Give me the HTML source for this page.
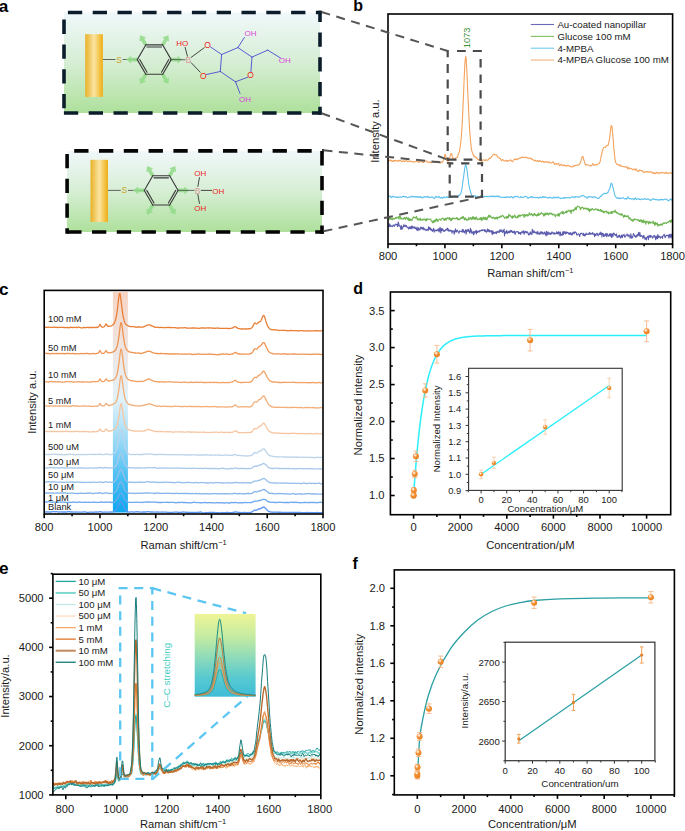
<!DOCTYPE html>
<html><head><meta charset="utf-8"><style>
html,body{margin:0;padding:0;background:#fff;}
svg{display:block;}
text{font-family:"Liberation Sans", sans-serif;}
</style></head><body>
<svg width="685" height="831" viewBox="0 0 685 831">
<rect width="685" height="831" fill="#fff"/>
<defs><radialGradient id="gSph" cx="0.38" cy="0.32" r="0.7"><stop offset="0" stop-color="#ffffff"/><stop offset="0.2" stop-color="#fcd6b0"/><stop offset="0.45" stop-color="#f29036"/><stop offset="1" stop-color="#e9821f"/></radialGradient></defs>
<defs><linearGradient id="gA" x1="0" y1="0" x2="0" y2="1"><stop offset="0" stop-color="#f1f8fb"/><stop offset="0.5" stop-color="#d6eed4"/><stop offset="1" stop-color="#aee09b"/></linearGradient><linearGradient id="gGold" x1="0" y1="0" x2="1" y2="0"><stop offset="0" stop-color="#e9b126"/><stop offset="0.5" stop-color="#fbe4a2"/><stop offset="0.85" stop-color="#f2bf3c"/><stop offset="1" stop-color="#eeac18"/></linearGradient></defs>
<rect x="64.00" y="12.50" width="256.00" height="100.50" fill="url(#gA)" stroke="none" stroke-width="1"/>
<rect x="67.00" y="150.90" width="255.00" height="81.10" fill="url(#gA)" stroke="none" stroke-width="1"/>
<line x1="64.00" y1="12.50" x2="321.80" y2="12.50" stroke="#0b1d2b" stroke-width="3.6" stroke-linecap="butt" stroke-dasharray="14.3 10.5" stroke-dashoffset="-3.90"/>
<line x1="320.00" y1="10.70" x2="320.00" y2="114.80" stroke="#0b1d2b" stroke-width="3.6" stroke-linecap="butt" stroke-dasharray="14.3 10.5" stroke-dashoffset="3.10"/>
<line x1="62.20" y1="113.00" x2="321.80" y2="113.00" stroke="#0b1d2b" stroke-width="3.6" stroke-linecap="butt" stroke-dasharray="14.3 10.5" stroke-dashoffset="-1.70"/>
<line x1="64.00" y1="10.70" x2="64.00" y2="114.80" stroke="#0b1d2b" stroke-width="3.6" stroke-linecap="butt" stroke-dasharray="14.3 10.5" stroke-dashoffset="-8.90"/>
<line x1="65.20" y1="150.90" x2="323.80" y2="150.90" stroke="#050505" stroke-width="3.6" stroke-linecap="butt" stroke-dasharray="14.3 10.5" stroke-dashoffset="-9.00"/>
<line x1="322.00" y1="149.10" x2="322.00" y2="233.80" stroke="#050505" stroke-width="3.6" stroke-linecap="butt" stroke-dasharray="14.3 10.5" stroke-dashoffset="-2.00"/>
<line x1="65.30" y1="232.00" x2="323.80" y2="232.00" stroke="#050505" stroke-width="3.6" stroke-linecap="butt" stroke-dasharray="14.3 10.5" stroke-dashoffset="-1.90"/>
<line x1="67.10" y1="149.10" x2="67.10" y2="233.80" stroke="#050505" stroke-width="3.6" stroke-linecap="butt" stroke-dasharray="14.3 10.5" stroke-dashoffset="-4.80"/>
<rect x="85.20" y="34.20" width="17.70" height="62.70" fill="url(#gGold)" stroke="none" stroke-width="1"/>
<line x1="102.90" y1="59.50" x2="115.50" y2="59.50" stroke="#555" stroke-width="0.9" stroke-linecap="butt"/>
<text x="119.00" y="62.50" font-size="8.5" text-anchor="middle" fill="#c9a227">S</text>
<line x1="122.60" y1="59.50" x2="137.40" y2="59.50" stroke="#555" stroke-width="0.9" stroke-linecap="butt"/>
<g transform="translate(137.30 59.60) rotate(180.0)" fill="#93dc8b" opacity="0.9"><path d="M 0 -1.8 L 6.2 -1.8 L 6.2 -3.9 L 11.2 0 L 6.2 3.9 L 6.2 1.8 L 0 1.8 Z"/></g>
<g transform="translate(145.78 44.92) rotate(-120.0)" fill="#93dc8b" opacity="0.9"><path d="M 0 -1.8 L 6.2 -1.8 L 6.2 -3.9 L 11.2 0 L 6.2 3.9 L 6.2 1.8 L 0 1.8 Z"/></g>
<g transform="translate(162.72 44.92) rotate(-60.0)" fill="#93dc8b" opacity="0.9"><path d="M 0 -1.8 L 6.2 -1.8 L 6.2 -3.9 L 11.2 0 L 6.2 3.9 L 6.2 1.8 L 0 1.8 Z"/></g>
<g transform="translate(171.20 59.60) rotate(0.0)" fill="#93dc8b" opacity="0.9"><path d="M 0 -1.8 L 6.2 -1.8 L 6.2 -3.9 L 11.2 0 L 6.2 3.9 L 6.2 1.8 L 0 1.8 Z"/></g>
<g transform="translate(162.72 74.28) rotate(60.0)" fill="#93dc8b" opacity="0.9"><path d="M 0 -1.8 L 6.2 -1.8 L 6.2 -3.9 L 11.2 0 L 6.2 3.9 L 6.2 1.8 L 0 1.8 Z"/></g>
<g transform="translate(145.78 74.28) rotate(120.0)" fill="#93dc8b" opacity="0.9"><path d="M 0 -1.8 L 6.2 -1.8 L 6.2 -3.9 L 11.2 0 L 6.2 3.9 L 6.2 1.8 L 0 1.8 Z"/></g>
<line x1="137.30" y1="59.60" x2="145.78" y2="44.92" stroke="#383838" stroke-width="1.1" stroke-linecap="round"/>
<line x1="145.78" y1="44.92" x2="162.72" y2="44.92" stroke="#383838" stroke-width="1.1" stroke-linecap="round"/>
<line x1="162.72" y1="44.92" x2="171.20" y2="59.60" stroke="#383838" stroke-width="1.1" stroke-linecap="round"/>
<line x1="171.20" y1="59.60" x2="162.72" y2="74.28" stroke="#383838" stroke-width="1.1" stroke-linecap="round"/>
<line x1="162.72" y1="74.28" x2="145.78" y2="74.28" stroke="#383838" stroke-width="1.1" stroke-linecap="round"/>
<line x1="145.78" y1="74.28" x2="137.30" y2="59.60" stroke="#383838" stroke-width="1.1" stroke-linecap="round"/>
<line x1="146.96" y1="47.02" x2="161.54" y2="47.02" stroke="#383838" stroke-width="1.1" stroke-linecap="round"/>
<line x1="168.79" y1="59.58" x2="161.50" y2="72.20" stroke="#383838" stroke-width="1.1" stroke-linecap="round"/>
<line x1="147.00" y1="72.20" x2="139.71" y2="59.58" stroke="#383838" stroke-width="1.1" stroke-linecap="round"/>
<line x1="170.60" y1="59.50" x2="185.50" y2="59.80" stroke="#555" stroke-width="0.9" stroke-linecap="butt"/>
<text x="188.40" y="63.00" font-size="8.5" text-anchor="middle" fill="#d89a9a">B</text>
<line x1="187.50" y1="56.50" x2="185.00" y2="47.00" stroke="#333" stroke-width="0.9" stroke-linecap="butt"/>
<text x="182.30" y="46.10" font-size="8.0" text-anchor="middle" fill="#ee1c1c">HO</text>
<line x1="191.00" y1="57.50" x2="204.50" y2="47.50" stroke="#333" stroke-width="0.9" stroke-linecap="butt"/>
<line x1="191.00" y1="62.50" x2="200.50" y2="72.50" stroke="#333" stroke-width="0.9" stroke-linecap="butt"/>
<text x="207.60" y="47.80" font-size="8.5" text-anchor="middle" fill="#ee1c1c">O</text>
<text x="203.20" y="78.70" font-size="8.5" text-anchor="middle" fill="#ee1c1c">O</text>
<line x1="210.60" y1="47.00" x2="221.60" y2="54.50" stroke="#4b4bd0" stroke-width="0.9" stroke-linecap="round"/>
<line x1="206.50" y1="74.50" x2="220.30" y2="71.50" stroke="#4b4bd0" stroke-width="0.9" stroke-linecap="round"/>
<line x1="221.60" y1="54.50" x2="220.30" y2="71.50" stroke="#4b4bd0" stroke-width="0.9" stroke-linecap="round"/>
<line x1="221.60" y1="54.50" x2="237.90" y2="47.60" stroke="#4b4bd0" stroke-width="0.9" stroke-linecap="round"/>
<line x1="237.90" y1="47.60" x2="252.00" y2="57.10" stroke="#4b4bd0" stroke-width="0.9" stroke-linecap="round"/>
<line x1="252.00" y1="57.10" x2="250.90" y2="71.80" stroke="#4b4bd0" stroke-width="0.9" stroke-linecap="round"/>
<line x1="247.80" y1="77.20" x2="235.50" y2="81.80" stroke="#4b4bd0" stroke-width="0.9" stroke-linecap="round"/>
<line x1="235.50" y1="81.80" x2="220.30" y2="71.50" stroke="#4b4bd0" stroke-width="0.9" stroke-linecap="round"/>
<line x1="237.90" y1="47.60" x2="244.40" y2="37.40" stroke="#4b4bd0" stroke-width="0.9" stroke-linecap="round"/>
<line x1="252.00" y1="57.10" x2="267.70" y2="50.10" stroke="#4b4bd0" stroke-width="0.9" stroke-linecap="round"/>
<line x1="267.70" y1="50.10" x2="280.50" y2="58.00" stroke="#4b4bd0" stroke-width="0.9" stroke-linecap="round"/>
<line x1="235.50" y1="81.80" x2="240.00" y2="93.50" stroke="#4b4bd0" stroke-width="0.9" stroke-linecap="round"/>
<text x="250.60" y="78.30" font-size="8.5" text-anchor="middle" fill="#ee1c1c">O</text>
<text x="250.60" y="36.00" font-size="8.0" text-anchor="middle" fill="#dd44dd">OH</text>
<text x="284.80" y="63.00" font-size="8.0" text-anchor="middle" fill="#dd44dd">OH</text>
<text x="245.00" y="101.50" font-size="8.0" text-anchor="middle" fill="#dd44dd">OH</text>
<rect x="90.50" y="159.80" width="17.50" height="62.20" fill="url(#gGold)" stroke="none" stroke-width="1"/>
<line x1="108.00" y1="190.40" x2="120.80" y2="190.40" stroke="#555" stroke-width="0.9" stroke-linecap="butt"/>
<text x="124.40" y="193.40" font-size="8.5" text-anchor="middle" fill="#c9a227">S</text>
<line x1="128.00" y1="190.40" x2="144.30" y2="190.40" stroke="#555" stroke-width="0.9" stroke-linecap="butt"/>
<g transform="translate(144.30 190.40) rotate(180.0)" fill="#93dc8b" opacity="0.9"><path d="M 0 -1.8 L 6.2 -1.8 L 6.2 -3.9 L 11.2 0 L 6.2 3.9 L 6.2 1.8 L 0 1.8 Z"/></g>
<g transform="translate(152.75 175.76) rotate(-120.0)" fill="#93dc8b" opacity="0.9"><path d="M 0 -1.8 L 6.2 -1.8 L 6.2 -3.9 L 11.2 0 L 6.2 3.9 L 6.2 1.8 L 0 1.8 Z"/></g>
<g transform="translate(169.65 175.76) rotate(-60.0)" fill="#93dc8b" opacity="0.9"><path d="M 0 -1.8 L 6.2 -1.8 L 6.2 -3.9 L 11.2 0 L 6.2 3.9 L 6.2 1.8 L 0 1.8 Z"/></g>
<g transform="translate(178.10 190.40) rotate(0.0)" fill="#93dc8b" opacity="0.9"><path d="M 0 -1.8 L 6.2 -1.8 L 6.2 -3.9 L 11.2 0 L 6.2 3.9 L 6.2 1.8 L 0 1.8 Z"/></g>
<g transform="translate(169.65 205.04) rotate(60.0)" fill="#93dc8b" opacity="0.9"><path d="M 0 -1.8 L 6.2 -1.8 L 6.2 -3.9 L 11.2 0 L 6.2 3.9 L 6.2 1.8 L 0 1.8 Z"/></g>
<g transform="translate(152.75 205.04) rotate(120.0)" fill="#93dc8b" opacity="0.9"><path d="M 0 -1.8 L 6.2 -1.8 L 6.2 -3.9 L 11.2 0 L 6.2 3.9 L 6.2 1.8 L 0 1.8 Z"/></g>
<line x1="144.30" y1="190.40" x2="152.75" y2="175.76" stroke="#383838" stroke-width="1.1" stroke-linecap="round"/>
<line x1="152.75" y1="175.76" x2="169.65" y2="175.76" stroke="#383838" stroke-width="1.1" stroke-linecap="round"/>
<line x1="169.65" y1="175.76" x2="178.10" y2="190.40" stroke="#383838" stroke-width="1.1" stroke-linecap="round"/>
<line x1="178.10" y1="190.40" x2="169.65" y2="205.04" stroke="#383838" stroke-width="1.1" stroke-linecap="round"/>
<line x1="169.65" y1="205.04" x2="152.75" y2="205.04" stroke="#383838" stroke-width="1.1" stroke-linecap="round"/>
<line x1="152.75" y1="205.04" x2="144.30" y2="190.40" stroke="#383838" stroke-width="1.1" stroke-linecap="round"/>
<line x1="153.93" y1="177.86" x2="168.47" y2="177.86" stroke="#383838" stroke-width="1.1" stroke-linecap="round"/>
<line x1="175.69" y1="190.37" x2="168.42" y2="202.96" stroke="#383838" stroke-width="1.1" stroke-linecap="round"/>
<line x1="153.98" y1="202.96" x2="146.71" y2="190.37" stroke="#383838" stroke-width="1.1" stroke-linecap="round"/>
<line x1="178.10" y1="190.40" x2="194.50" y2="190.40" stroke="#555" stroke-width="0.9" stroke-linecap="butt"/>
<text x="197.50" y="193.60" font-size="8.5" text-anchor="middle" fill="#d89a9a">B</text>
<line x1="197.80" y1="186.80" x2="199.50" y2="177.20" stroke="#333" stroke-width="0.9" stroke-linecap="butt"/>
<line x1="200.80" y1="190.40" x2="212.00" y2="190.40" stroke="#333" stroke-width="0.9" stroke-linecap="butt"/>
<line x1="197.80" y1="194.20" x2="199.50" y2="203.80" stroke="#333" stroke-width="0.9" stroke-linecap="butt"/>
<text x="200.30" y="175.70" font-size="8.0" text-anchor="middle" fill="#ee1c1c">OH</text>
<text x="218.30" y="193.60" font-size="8.0" text-anchor="middle" fill="#ee1c1c">OH</text>
<text x="200.30" y="211.40" font-size="8.0" text-anchor="middle" fill="#ee1c1c">OH</text>
<path d="M388.0 226.1l.4 .2 .5-.5 .4-2.1 .4 2.9 .4-.5 .5-1.1 .4 1.4 .4-.1 .4-.2 .5 .1 .4 .4 .4-1.5 .4 .2 .5-.2 .4 1.3 .4-1.1 .5-.6 .4-.6 .4 .4 .4 0 .5-.1 .4 2.3 .4-.4 .4-4.3 .5 1.4 .4 2.3 .4-.2 .5 1.1 .4 .6 .4 2.2 .4-4 .5 1 .4 3 .4-1.5 .4-.3 .5-1.3 .4-1.6 .4 1.6 .4 .1 .5-1.3 .4 .5 .4 1 .5-1 .4 1.3 .4 .5 .4 .3 .5-.5 .4 1.4 .4 .4 .4-.8 .5-1.5 .4 1.7 .4-1.4 .5 1.5 .4-2.4 .4 2.7 .4-1.4 .5-1.3 .4 1.4 .4 .5 .4 .2 .5-1.3 .4 .1 .4 1.5 .4-.6 .5 1.2 .4 .9 .4-3 .5 2.3 .4 1.3 .4-1.9 .4-.9 .5 2.2 .4-.9 .4 .6 .4-1.5 .5-1.2 .4 1.4 .4-.7 .5 1.5 .4-.1 .4-1.9 .4 .4 .5 2.2 .4-.3 .4-.9 .4 1 .5 .6 .4 .1 .4 .2 .4-1.1 .5-.1 .4 0 .4 1.5 .5-4.1 .4 2.4 .4 .1 .4-1.8 .5 2.3 .4-1.1 .4 1.7 .4-1 .5 1 .4 1.1 .4-.9 .5-1.3 .4-.9 .4 3.9 .4-1.6 .5-.6 .4 .6 .4-.3 .4 .7 .5-1 .4 0 .4-.5 .4 1.3 .5-2.1 .4 2.3 .4 1 .5-3.5 .4-1.3 .4 3.3 .4 2.5 .5-4.2 .4-.4 .4 2.3 .4-1.6 .5 .7 .4 .3 .4 1.4 .5-.9 .4 .5 .4-.5 .4-1 .5 .4 .4-1 .4 1 .4-1.5 .5-.3 .4 3.1 .4-1.5 .4 .3 .5 1 .4-1.1 .4 .1 .5 1.2 .4 0 .4-.9 .4 2.7 .5-1.8 .4-.6 .4 .2 .4 .8 .5 2.6 .4-3.6 .4 1.5 .5-3.3 .4 2.1 .4 1.1 .4-1.4 .5-.6 .4 1 .4 .7 .4 0 .5 1.5 .4-1.7 .4-.9 .4 .6 .5 0 .4 .4 .4-.2 .5 .2 .4-2.4 .4 3 .4-1.8 .5-.7 .4 2.1 .4 .8 .4-1 .5-.4 .4-1.6 .4 4.5 .4-2.2 .5-2.1 .4 .3 .4 1.1 .5-2.1 .4 2.3 .4-.8 .4 2.2 .5 0 .4-4.7 .4 3.2 .4-1.5 .5 3.3 .4-.7 .4 .3 .5-1.5 .4 3.3 .4 .1 .4-3.2 .5 1.4 .4-1.3 .4 .5 .4-1.7 .5 3.5 .4-3 .4 .9 .4 .8 .5-1.4 .4 .6 .4-.6 .5 .6 .4-1.5 .4 .8 .4-.3 .5-.4 .4 .2 .4-.9 .4 1.1 .5-1.1 .4 .5 .4-.1 .5 .3 .4-.7 .4 1.9 .4-1.6 .5 .8 .4 1.4 .4-.1 .4-1.1 .5-2 .4 2.3 .4-.1 .4-1.6 .5 2.4 .4-1.6 .4 0 .5 1.2 .4-.2 .4 .8 .4-1.7 .5 4.2 .4-2.8 .4-.9 .4 2.7 .5-1.3 .4 .8 .4-.8 .5 .4 .4 .3 .4-1.4 .4 2 .5-1.7 .4-.7 .4 .9 .4 .3 .5-.6 .4-.9 .4 1.4 .4-2.5 .5 .5 .4 1.1 .4-1.8 .5 1.6 .4 .3 .4 .9 .4-2.1 .5 .6 .4 1 .4-2.9 .4 6.8 .5-4.2 .4 0 .4 1.6 .5-1.2 .4-1.7 .4 2.7 .4 .3 .5-1.7 .4 .1 .4 .9 .4-1.8 .5 1.8 .4-.4 .4-1.1 .4-.9 .5 1.1 .4-.9 .4 2.2 .5-1 .4 .7 .4-.7 .4 1.1 .5-1.7 .4 1.9 .4 1.5 .4-2.3 .5-.6 .4 .3 .4-.1 .5-.3 .4 .6 .4-.4 .4 2 .5-1.1 .4 .2 .4 .9 .4-1.2 .5 1.9 .4-2.2 .4-.4 .4 .5 .5 .3 .4-1.5 .4 1.9 .5-2.2 .4 3.5 .4-1.8 .4-.7 .5-.4 .4 1.2 .4 .3 .4-1.3 .5 0 .4 1.3 .4-.2 .5 2.1 .4 .2 .4-1.3 .4 .4 .5-2.2 .4 2.1 .4-1 .4 .5 .5 1.1 .4-5.2 .4 3 .4-1.3 .5 1.6 .4-2 .4 1.1 .5 1 .4 .1 .4-.5 .4-.4 .5 .4 .4 1.9 .4-.7 .4-2.3 .5 2.4 .4-.4 .4 1 .4-1.2 .5 1.2 .4-2.4 .4 1.3 .5-1.4 .4 1.5 .4 .8 .4-2 .5 .8 .4 0 .4 1.3 .4-.4 .5-1.8 .4 1.7 .4 .3 .5 1.9 .4-4.5 .4 1.6 .4 2.1 .5-3.1 .4-.1 .4 1.9 .4 .7 .5-1.7 .4 .8 .4-.5 .4 1.4 .5-1.5 .4 .8 .4-2 .5 .8 .4 .1 .4 1.2 .4-.3 .5-1.1 .4 1.7 .4-.1 .4-.5 .5-.3 .4 .2 .4-1.8 .5 2.1 .4 0 .4-1.6 .4 2 .5-2.6 .4 .8 .4 .5 .4 3 .5-3.9 .4 2.8 .4 .4 .4-.7 .5 .8 .4-2.4 .4-1.3 .5 3 .4-2.5 .4 .5 .4-1 .5 2.3 .4-.4 .4-1.7 .4 1.7 .5-1.2 .4 .1 .4 .6 .5-.3 .4 1.3 .4-.3 .4-.6 .5 1.5 .4-2.1 .4 1.6 .4 .1 .5 .7 .4-2 .4 1.9 .4-1.7 .5-.2 .4-.8 .4 1.7 .5-.9 .4-1.2 .4 .4 .4 .6 .5 0 .4 2.2 .4 .1 .4-.3 .5-.3 .4-.6 .4 .4 .5 .7 .4 1.6 .4-1.6 .4-1.5 .5 .3 .4-.1 .4-.4 .4 .4 .5 .3 .4 1.5 .4-2 .4 2.2 .5 .3 .4-1.6 .4 1.4 .5-1.4 .4-1.2 .4 1.1 .4 .3 .5-.4 .4-.1 .4 .2 .4 .3 .5-1.5 .4 1.1 .4-1.7 .5 1.8 .4 0 .4-.5 .4-.2 .5 .7 .4-1.6 .4 .5 .4 1 .5 .4 .4-.7 .4 2.9 .4-2.8 .5 1.5 .4 .2 .4-1.6 .5-.7 .4-.1 .4 1.4 .4 1.3 .5-1.1 .4-.5 .4-.8 .4 1.2 .5-2.7 .4 2.4 .4-.3 .4-1.3 .5 4.1 .4-3.7 .4 .5 .5 0 .4 2.7 .4-2.3 .4 2.1 .5-.4 .4-.3 .4-1.9 .4 .6 .5 2.4 .4-3.2 .4 .7 .5 1 .4 1.1 .4-.6 .4 .1 .5-2 .4 2.2 .4 .1 .4-2.5 .5 3.3 .4 .8 .4-3.8 .4 1.1 .5 1.5 .4-3.1 .4-.3 .5 .7 .4 1.1 .4-.3 .4 1.2 .5-.1 .4-1.8 .4 2.2 .4 1.6 .5-.6 .4-.1 .4-1.3 .5 1.3 .4-1.9 .4 1.9 .4-.6 .5 1.8 .4-1 .4-2.1 .4 1.2 .5 1.4 .4-2.6 .4 .5 .4 0 .5-1.2 .4 2.4 .4 .5 .5-.6 .4-.9 .4-.7 .4 .1 .5-1.2 .4 1.6 .4 .6 .4 .3 .5-1.7 .4 1.1 .4 .1 .5 2.2 .4-1.7 .4-2.5 .4 3 .5 1.5 .4-1.5 .4 .4 .4-1.6 .5-2.2 .4 .7 .4 .6 .4 1.6 .5 .1 .4 .7 .4-1.7 .5 1.4 .4-1.3 .4-1.1 .4 1.5 .5-1.4 .4-2.4 .4 2.5 .4 1.3 .5-3.4 .4 3.2 .4 .7 .5-1 .4 0 .4 .8 .4-.3 .5 2.3 .4-.7 .4-2.3 .4 1 .5 1.5 .4 1.6 .4-1.5 .4-.2 .5 2.2 .4-2.2 .4-.5 .5-.9 .4 .5 .4 2.8 .4-3.9 .5 1.2 .4-1.7 .4 1.6 .4 .5 .5-1.8 .4 1.3 .4 .1 .5-.1 .4 1.3 .4-.7 .4-1.5 .5-.3 .4-.2 .4 1.9 .4-1.1 .5 3.6 .4-.9 .4-2.4 .4-.3 .5 2.6 .4-4.2 .4 1.6 .5 1.6 .4-1.8 .4 .5 .4 .2 .5 1.5 .4-1.1 .4 0 .4 .2 .5-.7 .4 1.7 .4-2.5 .5-.5 .4-.5 .4-.5 .4 1.2 .5 2.3 .4-.7 .4-1.1 .4-.8 .5 .3 .4 .1 .4 .1 .4-.6 .5 1.3 .4 1.7 .4-3.9 .5 2.6 .4-2.5 .4 3.1 .4-1.3 .5-1.9 .4 2.5 .4 2.2" fill="none" stroke="#5c5cae" stroke-width="1.1" stroke-linejoin="round"/>
<path d="M388.0 219.1l.4-.5 .5-.5 .4-1.7 .4 3.1 .4-.6 .5-.8 .4 1.2 .4-.2 .4-.5 .5 1.1 .4-1.1 .4-.2 .4 0 .5 .8 .4-.4 .4 .1 .5-1.2 .4 .5 .4-1.1 .4 1.4 .5-.7 .4 0 .4-.1 .4-1.1 .5 1.4 .4 1.2 .4-3 .5 .1 .4 .3 .4 2.3 .4-.9 .5 1.1 .4-.3 .4 0 .4 .2 .5-.4 .4 .4 .4-1.6 .4 .6 .5 .2 .4 1.2 .4-1.8 .5-.5 .4 .6 .4 1.4 .4-.9 .5 1.6 .4-2 .4 2.8 .4-.1 .5-1.9 .4 1.3 .4 .4 .5-1 .4 .4 .4 .9 .4-1.7 .5-.9 .4-.9 .4 .7 .4-.7 .5 .1 .4 .1 .4 1 .4-.9 .5-.1 .4-.9 .4 2.7 .5-.6 .4 1.7 .4-.9 .4-.4 .5 1.2 .4-.4 .4-1.4 .4 .1 .5 2.2 .4-.8 .4 .1 .5-.3 .4-.5 .4 1.1 .4-.8 .5-.4 .4 .1 .4-.1 .4 1.1 .5 .6 .4-1.7 .4 1.8 .4-2 .5 .8 .4-.8 .4 .5 .5 .1 .4-.1 .4-.1 .4 0 .5 .1 .4-.4 .4 1.8 .4 .5 .5 .4 .4-.4 .4 1.8 .5-1.6 .4-.5 .4 1.6 .4-2.5 .5 1.8 .4-1.6 .4 .5 .4-2.1 .5 2.2 .4-.6 .4-.5 .4 1.9 .5-1.2 .4-.6 .4-.8 .5 .2 .4 0 .4 .8 .4 .2 .5-1.5 .4 .2 .4-.4 .4-.5 .5 .5 .4 .5 .4 1 .5 .5 .4-2 .4 .7 .4-.9 .5 2.2 .4-1.9 .4 .1 .4-1.1 .5 .3 .4 .8 .4-.5 .4 .9 .5-1.6 .4 2 .4-1.1 .5 2.4 .4-1.8 .4 1.3 .4-2.1 .5 1.1 .4-1.4 .4 .3 .4 .3 .5-.3 .4 .4 .4 .4 .5-.3 .4-.2 .4-.9 .4 .6 .5 .9 .4-1.2 .4 2.1 .4-.9 .5-.2 .4 .8 .4-.5 .4 0 .5-1.4 .4 .5 .4-.3 .5-.9 .4 1.4 .4-.2 .4-2.1 .5 1.8 .4-.5 .4 2.4 .4-.7 .5-1.1 .4 .8 .4 .8 .4-.5 .5 1.4 .4-.8 .4-.6 .5 .7 .4-2.4 .4 1.4 .4 .2 .5-.8 .4-.8 .4 1.1 .4 1 .5-1.4 .4-.8 .4 1.7 .5-2.7 .4 2 .4-.5 .4 1.4 .5-1.8 .4 2.1 .4-.7 .4-1.4 .5-.5 .4 1.3 .4 1.4 .4-.8 .5 .3 .4-.3 .4 .7 .5-.4 .4-.2 .4-1.4 .4 1.9 .5 .3 .4-2.3 .4 3.2 .4-1.6 .5-1.1 .4-.9 .4 2.1 .5 0 .4-.9 .4-1 .4 2.2 .5-1.9 .4 .1 .4 2.3 .4-.5 .5-1.5 .4-1.4 .4 .6 .4-2.1 .5 2.1 .4-.6 .4-1 .5 .2 .4 1.5 .4-.2 .4 .4 .5 .9 .4-.9 .4 .1 .4-.5 .5 .7 .4 .9 .4-.7 .5 .9 .4-1.3 .4 .7 .4-.5 .5-.8 .4 2.2 .4-.9 .4-1.1 .5 0 .4 .3 .4-.8 .4 1.1 .5-1.7 .4 .2 .4-.1 .5 .6 .4-1 .4-.5 .4 .2 .5 .6 .4 .6 .4 .4 .4 1.3 .5-.3 .4-.8 .4 0 .5-.7 .4 1.8 .4-.5 .4-1.6 .5 1.4 .4-.2 .4-3.2 .4 1.5 .5 .2 .4-.9 .4 1 .4-.1 .5 1.3 .4-.4 .4 1.5 .5-2.5 .4 1.5 .4-.6 .4 .3 .5-1.3 .4-.9 .4 1.2 .4 1.1 .5 .8 .4-.7 .4 .2 .5-1.4 .4 1.6 .4-.6 .4-2 .5 .6 .4-.6 .4 1.7 .4-.9 .5-.7 .4 .3 .4 .1 .4-.3 .5-.6 .4-.2 .4 .2 .5 1.4 .4 1.4 .4-3.1 .4 1.3 .5 .3 .4-1.1 .4 .8 .4-1.2 .5 1.7 .4-1.5 .4 .3 .5 .6 .4-1.2 .4-1.7 .4 1.1 .5 1.1 .4-.6 .4 .3 .4-1.1 .5 .9 .4 .8 .4-.6 .4 1.4 .5-1.6 .4-.2 .4-.9 .5 2.1 .4-1.2 .4 1.1 .4-.4 .5 1 .4 0 .4-1.8 .4 .9 .5 .5 .4-2.4 .4 2.1 .4-.4 .5-.4 .4-1 .4 .5 .5-1.3 .4 .9 .4 0 .4 .4 .5-.3 .4 1 .4 1.4 .4-1.9 .5 1.7 .4-2.6 .4-.2 .5 1.6 .4-.4 .4 .2 .4-1.7 .5 1.1 .4 .4 .4 .7 .4-1.4 .5 .7 .4-1.2 .4 .5 .4-.4 .5 1.2 .4-1 .4 .3 .5 .8 .4 .7 .4-.7 .4 0 .5-.3 .4 1.2 .4-.2 .4 1.5 .5-.7 .4-1.1 .4 .1 .5-.3 .4-.3 .4 1.6 .4-.4 .5-2 .4 2.7 .4-1.6 .4-1.2 .5 .3 .4-.5 .4-.5 .4-1 .5 1.6 .4 .2 .4-2.3 .5 2.7 .4-.4 .4-.8 .4 .1 .5-.3 .4-.9 .4 .1 .4 1.3 .5-2.3 .4 1.3 .4-.4 .5-.7 .4 0 .4-.8 .4 .7 .5 .6 .4 .2 .4-1.5 .4 3.6 .5-3.2 .4 .1 .4-.1 .4-.5 .5 1.4 .4-1.9 .4 .7 .5-.3 .4-1.9 .4 1.4 .4-2.1 .5 2.4 .4-2.2 .4-.6 .4-.8 .5 .3 .4 .4 .4 0 .5-.1 .4 .8 .4 .7 .4 1.6 .5-2.3 .4 .6 .4-.6 .4-.4 .5 .1 .4 .6 .4 1.4 .4-.8 .5-.3 .4 .7 .4-.2 .5-.5 .4 .8 .4-.8 .4 1.1 .5 .5 .4-.6 .4-.8 .4 2.1 .5-1.2 .4 2.5 .4-2.6 .5 1.4 .4-1.2 .4 .4 .4 .2 .5-1.7 .4 .8 .4 .4 .4 .1 .5 .5 .4 .1 .4-.3 .4-.6 .5-.1 .4-.4 .4 .5 .5 .4 .4 .7 .4-.7 .4-.5 .5 1.6 .4-.7 .4 0 .4 .6 .5 .4 .4-1.8 .4 1.2 .4 1.2 .5-.3 .4-.7 .4 .3 .5 1.8 .4-1.4 .4 1.2 .4 .1 .5-1 .4 .1 .4-.5 .4 .3 .5-.3 .4 2 .4-.7 .5-.4 .4-.2 .4 2.1 .4-.8 .5-.3 .4 0 .4-.9 .4 1.4 .5-.2 .4-1.7 .4 1.8 .4-.3 .5-1.7 .4 .1 .4 .5 .5 0 .4-.5 .4-1.4 .4 2.2 .5-.6 .4 1.1 .4 .5 .4-.9 .5 .6 .4 .9 .4 .2 .5-.4 .4 .1 .4 1.1 .4-.5 .5 .6 .4-1.2 .4 1.5 .4-1.4 .5 .8 .4 .7 .4 .5 .4 1.6 .5-1.3 .4-1.1 .4 1.5 .5-.7 .4 .8 .4-.7 .4 .6 .5 .2 .4 0 .4-1.2 .4 1.1 .5 .8 .4 1.7 .4-1.1 .5-.1 .4 1.2 .4 .1 .4 1.3 .5-.7 .4-.4 .4 1.6 .4 .3 .5-1.4 .4 .2 .4-1.4 .4 1 .5-.6 .4 .5 .4-.2 .5 .3 .4 0 .4 .5 .4 0 .5-.1 .4-.6 .4 1.8 .4 .2 .5-1.2 .4 1.2 .4-1.8 .5 0 .4 1.5 .4 1.5 .4-2.2 .5 .1 .4 2 .4-2.8 .4 2.4 .5 0 .4-.9 .4 .7 .4 2.3 .5-3.3 .4 .7 .4 .4 .5-.3 .4-.3 .4 2.5 .4-.8 .5-1.7 .4 1.1 .4 .6 .4-.2 .5-1.1 .4 .8 .4 0 .5 .3 .4-.1 .4-1.8 .4 2.3 .5-1 .4 1.7 .4 1.3 .4-2.3 .5-.8 .4 2.1 .4-.6 .4-.2 .5-.4 .4 2.9 .4-.6 .5-.9 .4 .6 .4-.7 .4 .8 .5-.4 .4-.8 .4 .9 .4-1 .5 .8 .4 .2 .4-1.8 .5-.3 .4 .4 .4 .4 .4-.9 .5-.1 .4 .2 .4 .4 .4 .1 .5-.9 .4 .1 .4-.1 .4-.9 .5 .3 .4 .2 .4-.7 .5-.9 .4-.2 .4 2.3 .4-.8 .5-1.9 .4-.2 .4 2.3" fill="none" stroke="#6db451" stroke-width="1.1" stroke-linejoin="round"/>
<path d="M388.0 196.8l.4-.7 .5 .5 .4-.1 .4-.4 .4 .1 .5-.2 .4 1.4 .4 .1 .4 .2 .5-1 .4-.2 .4-.2 .4 0 .5 .3 .4 .2 .4 .4 .5-.2 .4 .1 .4 .1 .4 .2 .5-.1 .4-.5 .4 0 .4 .7 .5 0 .4-.2 .4-.3 .5-.1 .4 0 .4-.1 .4 .4 .5 .1 .4 0 .4-.9 .4 .2 .5-.4 .4 .3 .4-.2 .4 .5 .5 .3 .4-.4 .4-.1 .5 .1 .4 .6 .4 .2 .4 .1 .5-.1 .4-.2 .4-.3 .4-.1 .5 .2 .4 .2 .4-.4 .5-.1 .4-.6 .4 .4 .4 .1 .5 .2 .4-.1 .4-.4 .4 .6 .5-.5 .4 0 .4 0 .4 .8 .5-.3 .4-.3 .4-.2 .5 .4 .4 .5 .4-.4 .4 .3 .5-.7 .4 .7 .4-.1 .4 .2 .5-.8 .4 .4 .4 .3 .5 .7 .4-.2 .4-.1 .4-.3 .5-.6 .4-.3 .4 .6 .4-.2 .5 .1 .4-.5 .4 .5 .4 .3 .5-.3 .4-.5 .4-.1 .5 .6 .4 .7 .4 .1 .4-.4 .5-.2 .4-.1 .4 .3 .4-.3 .5 .1 .4-.2 .4 .4 .5 0 .4 .7 .4 .2 .4 .4 .5-1.2 .4-.5 .4-.6 .4 .7 .5-.5 .4 .5 .4 .1 .4 .3 .5-.6 .4-.5 .4 .4 .5 .4 .4 .8 .4-.1 .4 0 .5-.5 .4 .5 .4 0 .4 .4 .5-.8 .4-.2 .4-.6 .5 .7 .4 .2 .4 .1 .4-.5 .5-.1 .4-.1 .4-.1 .4 0 .5 .8 .4 .2 .4-.3 .4-1 .5-.3 .4 .3 .4 .5 .5 .3 .4-.1 .4-.2 .4 0 .5-.5 .4-.2 .4 0 .4 .2 .5-.1 .4-.3 .4 .1 .5 .3 .4 .1 .4-.1 .4 0 .5 .1 .4 .4 .4-.9 .4-.1 .5-.9 .4 .3 .4-.5 .4-.3 .5-.7 .4-1.4 .4-1.4 .5-2.4 .4-2.5 .4-3.1 .4-3.3 .5-2.8 .4-3.4 .4-2.5 .4-3.2 .5-2.2 .4-1.1 .4 .8 .4 1.7 .5 2.7 .4 3 .4 4.1 .5 3.1 .4 3.5 .4 2.3 .4 2.3 .5 1.6 .4 1.4 .4 1.5 .4 1.4 .5 1 .4 .6 .4 .5 .5 .3 .4 .1 .4-.4 .4-.4 .5 .2 .4-.3 .4 .7 .4-.2 .5 .8 .4-.1 .4-.2 .4-.2 .5-.1 .4 .2 .4 0 .5 .1 .4 0 .4-.2 .4 0 .5-.5 .4 .2 .4-.3 .4 .9 .5 .4 .4-.2 .4-.3 .5-.4 .4 .3 .4 .1 .4-.1 .5-.2 .4-.2 .4 0 .4 .5 .5-.3 .4 .2 .4 .1 .4 0 .5-.4 .4-.2 .4 .1 .5 .6 .4 0 .4-.2 .4-.7 .5-.2 .4 .8 .4 .1 .4 0 .5-.5 .4 0 .4 .6 .5-.3 .4 .3 .4-.6 .4 .4 .5-.5 .4 .5 .4-.1 .4 .4 .5-.7 .4-.1 .4 .2 .4 .6 .5 .4 .4 .2 .4 0 .5-.2 .4 0 .4 0 .4 0 .5 0 .4 .2 .4 .1 .4-.3 .5-.1 .4 .4 .4 .1 .5-.2 .4-.6 .4 .4 .4-.4 .5 .1 .4 0 .4 .3 .4 .3 .5-.2 .4 .1 .4-.3 .4-.6 .5 0 .4 .5 .4 .1 .5 .7 .4-.5 .4 .5 .4-.5 .5-.5 .4-.4 .4 0 .4 .3 .5-.2 .4 0 .4 .2 .5-.1 .4-.3 .4 .4 .4 .4 .5 .4 .4 .2 .4 .1 .4-.5 .5-.8 .4 0 .4 .6 .4 .4 .5 .1 .4-.3 .4 0 .5-.3 .4 .1 .4-.4 .4-.3 .5-.1 .4 .1 .4 .2 .4 .3 .5 .2 .4 1.1 .4 0 .5-.1 .4-.6 .4-.1 .4 0 .5 .1 .4-.3 .4-.6 .4-.1 .5 0 .4 1.2 .4-.3 .4-.2 .5 0 .4-.1 .4 .4 .5 0 .4 .3 .4-.1 .4-.3 .5 .2 .4-.2 .4 .1 .4 0 .5 .8 .4-.3 .4-.3 .4-.5 .5 0 .4 .3 .4-.1 .5 .4 .4-.2 .4-.1 .4-1 .5 0 .4 .4 .4 .5 .4 .1 .5-.8 .4 .4 .4 .2 .5 0 .4 .1 .4 0 .4 .5 .5-.3 .4 .4 .4-.1 .4 .1 .5-.6 .4-.1 .4 .2 .4 .1 .5 .3 .4 0 .4 .4 .5-.1 .4-.1 .4-.9 .4-.1 .5 .2 .4 .6 .4 0 .4-.3 .5-.1 .4-.4 .4 .5 .5 .1 .4 .1 .4-.7 .4 0 .5 .5 .4 .4 .4-.1 .4 0 .5 .2 .4 .5 .4-.2 .4-.1 .5-.1 .4 0 .4-.5 .5 .2 .4-.1 .4 .7 .4-1 .5 .2 .4-.3 .4 .4 .4 0 .5-.1 .4 .2 .4-.3 .5-.2 .4 .1 .4 .5 .4 0 .5-.2 .4-.3 .4 .2 .4-.3 .5-.4 .4-.2 .4-.1 .4 .2 .5 0 .4 .4 .4-.1 .5 .2 .4-.6 .4 .4 .4-.7 .5 .2 .4 0 .4 .3 .4 .1 .5-.4 .4 .2 .4 .2 .5 0 .4 0 .4-.3 .4-.4 .5-.7 .4 .2 .4 0 .4 .2 .5-.5 .4-.2 .4 .2 .4 .2 .5 .7 .4 .2 .4 .2 .5-.1 .4-.1 .4 .7 .4 .7 .5 .1 .4-.5 .4-1.2 .4 .1 .5 0 .4 .3 .4 .2 .5-.4 .4 .3 .4-.2 .4 .1 .5 .3 .4 .3 .4 0 .4-.6 .5-.1 .4 .3 .4 .1 .4-.2 .5 0 .4 .3 .4 .3 .5 .1 .4 .5 .4 .2 .4 0 .5-.2 .4-.1 .4-.2 .4-.8 .5-.4 .4-.5 .4 .3 .4-.7 .5-.4 .4-.8 .4 0 .5-.4 .4-.3 .4-.5 .4-.1 .5 .1 .4-.1 .4 .2 .4 .3 .5-.2 .4-.3 .4-.8 .5-.1 .4-.8 .4-.8 .4-1 .5-.8 .4-1.3 .4-1.7 .4-1.9 .5-.9 .4 .3 .4 1 .4 1.4 .5 1.7 .4 1.8 .4 1.9 .5 1.6 .4 1.7 .4 1.2 .4 .5 .5 .7 .4 .8 .4 .4 .4 0 .5-.3 .4 .4 .4-.5 .5 .4 .4-.2 .4 .7 .4-.3 .5 0 .4-.3 .4 .2 .4-.1 .5 0 .4-.4 .4-.2 .4 .5 .5 .3 .4 .5 .4 0 .5-.4 .4 0 .4 .1 .4 .6 .5-.6 .4-1.3 .4-.5 .4 .9 .5 .7 .4 .3 .4-.1 .5-.1 .4 .1 .4 .1 .4 .4 .5 0 .4-.3 .4 0 .4-.2 .5 .5 .4 .6 .4-.1 .4-.9 .5-.8 .4 .3 .4 .9 .5 .4 .4-.3 .4-.5 .4 .1 .5-.1 .4 .5 .4-.3 .4 .5 .5-.1 .4 .3 .4 0 .5-.4 .4-.2 .4-.2 .4 .4 .5 .3 .4-.1 .4-.3 .4-.5 .5 0 .4 .4 .4 0 .4 .4 .5-.1 .4 .2 .4-.6 .5 0 .4 .2 .4-.1 .4 .3 .5 .2 .4 .6 .4-.2 .4 .3 .5 .2 .4-.4 .4-.6 .5-.3 .4 .2 .4-.6 .4 .2 .5-.1 .4 .7 .4-.2 .4 .4 .5-.1 .4-.2 .4-.1 .4 .5 .5 .1 .4 .3 .4-.3 .5-.1 .4 .1 .4-.3 .4 .4 .5-.5 .4 .4 .4-.6 .4-.1 .5 .2 .4 .4 .4 .2 .5-.4 .4 .1 .4-.3 .4-.2 .5-.2 .4 .2 .4 .1 .4 .1 .5 .2 .4 .1 .4 .5 .4 .3 .5 .4 .4-.4 .4-.4 .5-.7 .4-.1 .4-.4 .4 .2 .5 .4 .4 .9 .4 .5" fill="none" stroke="#5cc0ec" stroke-width="1.1" stroke-linejoin="round"/>
<path d="M388.0 160.9l.4 .4 .5-.5 .4-.4 .4-.4 .4 .6 .5-.5 .4 .3 .4 0 .4 1 .5 0 .4 .1 .4-.9 .4 .6 .5-.7 .4 .8 .4-.8 .5 .3 .4-.4 .4-.1 .4 .4 .5 .1 .4 .7 .4-.7 .4 .1 .5-.7 .4 .8 .4-.6 .5 .2 .4-.2 .4 .2 .4 .4 .5 0 .4 .8 .4 0 .4-.4 .5-.5 .4-.3 .4 .5 .4 .5 .5-.1 .4-.4 .4-.4 .5 0 .4 .1 .4 .2 .4 .8 .5 0 .4-.1 .4-.4 .4-.1 .5-.1 .4-.1 .4 .5 .5-.2 .4 .4 .4-.3 .4 .4 .5-.1 .4 .3 .4 .3 .4-.2 .5-.2 .4-.2 .4-.3 .4 .4 .5-.4 .4 0 .4 .2 .5 .2 .4 .1 .4-.1 .4 0 .5 .7 .4-.8 .4 0 .4-.8 .5-.3 .4-.2 .4 .5 .5 .8 .4 1 .4-.3 .4 .1 .5-.8 .4 .2 .4-.7 .4-.2 .5-.2 .4 .1 .4 .4 .4 .1 .5 .7 .4 0 .4 .3 .5 0 .4 .1 .4-.1 .4-.3 .5-.2 .4 .3 .4 .3 .4 .1 .5-.1 .4-.4 .4 .1 .5-.7 .4 .6 .4-.2 .4 .5 .5-.2 .4-.1 .4-.1 .4 .2 .5 0 .4-.2 .4-.3 .4-.5 .5 .7 .4-.2 .4 .5 .5 .2 .4 .6 .4 0 .4-.5 .5-.4 .4 .4 .4-.3 .4-.5 .5-.7 .4-.8 .4-1.5 .5-2.2 .4-1.9 .4-.2 .4 .8 .5 2.1 .4 2 .4 1.1 .4 .7 .5-.1 .4 .3 .4-.6 .4-.8 .5-1.1 .4-1.5 .4-2 .5-1.4 .4-.5 .4 .4 .4 1.7 .5 1.2 .4 1.4 .4 .5 .4 .5 .5 0 .4-.2 .4-.3 .5-.5 .4-.4 .4 .1 .4-.3 .5 0 .4-.8 .4-1.6 .4-1.7 .5-.7 .4-.7 .4-2 .4-3.2 .5-2.9 .4-3.7 .4-4.6 .5-6.4 .4-7.2 .4-8.4 .4-9.9 .5-10.3 .4-10.6 .4-9.5 .4-8.4 .5-5.7 .4-2.8 .4 2.2 .4 6 .5 9.1 .4 9.3 .4 10.1 .5 9.8 .4 9.6 .4 8.3 .4 7.6 .5 5.7 .4 4.9 .4 4.5 .4 3.9 .5 2.9 .4 1.6 .4 .9 .5 1.2 .4 1.4 .4 .6 .4 .7 .5-.5 .4 .8 .4 .1 .4 .6 .5-.1 .4 .2 .4 .9 .4 .5 .5 .5 .4-.3 .4 .8 .5-.2 .4 .4 .4-.2 .4 .1 .5 .6 .4 .5 .4 .1 .4-.5 .5-1 .4-.3 .4 .1 .5 .3 .4 .2 .4 0 .4 .2 .5-.5 .4-.3 .4 .1 .4 .5 .5 0 .4-.1 .4-.7 .4-.2 .5-1.2 .4 .1 .4-.3 .5 .4 .4-.6 .4-.4 .4-.8 .5-.4 .4-.6 .4-.6 .4-.7 .5 0 .4 .1 .4 .5 .5-.2 .4 .3 .4-.4 .4 .6 .5 .1 .4 1.2 .4 .6 .4 .3 .5 .2 .4 .4 .4 .5 .4 .1 .5 0 .4 1.2 .4 .4 .5 .8 .4-.9 .4-.2 .4-.2 .5 .4 .4 .6 .4-.2 .4 .3 .5 .2 .4 .1 .4 .1 .5-.7 .4 .3 .4-.1 .4 .8 .5-.3 .4-.1 .4-.2 .4-.2 .5-.1 .4-.6 .4 .1 .4 .1 .5 .4 .4 .9 .4 .1 .5 .1 .4-.8 .4-.6 .4-.4 .5-.7 .4 .4 .4-.3 .4 .3 .5-.7 .4 .3 .4 .6 .5-.1 .4-.3 .4-.5 .4-.2 .5-.2 .4-.1 .4-.3 .4 .1 .5-.5 .4 .4 .4-.8 .4 .2 .5-.4 .4 .4 .4-.2 .5 .1 .4 .2 .4 .1 .4 0 .5-.3 .4 .1 .4 .3 .4-.3 .5 .5 .4-.1 .4 .1 .5 .3 .4 .1 .4 .3 .4-.5 .5 0 .4 .2 .4 .4 .4 .6 .5-.2 .4 0 .4 .2 .4 .5 .5 .4 .4 .2 .4 .2 .5 .1 .4-.3 .4 .5 .4 .3 .5-.1 .4-.2 .4-.6 .4 .7 .5 .1 .4 .4 .4-.3 .4-.7 .5 .4 .4 .2 .4 .5 .5 0 .4 0 .4 0 .4-.4 .5-.1 .4 .9 .4 .3 .4 .3 .5-.4 .4-.7 .4 .1 .5-.2 .4 .7 .4 .2 .4-.5 .5 .4 .4 .2 .4 0 .4-.4 .5-.2 .4 .7 .4 .3 .4 .2 .5 .1 .4-.1 .4-.1 .5-.4 .4-.1 .4-.6 .4 .7 .5 .7 .4 1.3 .4-.7 .4 0 .5-.4 .4 .5 .4 .3 .5 0 .4 0 .4-.8 .4-.2 .5 .7 .4 1 .4 .8 .4-.6 .5-.2 .4-.6 .4 .3 .4 .2 .5 .4 .4 .5 .4-.2 .5 .2 .4-.9 .4 .7 .4-.3 .5 .4 .4-.2 .4 .7 .4 .1 .5-.1 .4-.8 .4 .2 .5-.1 .4 .3 .4 0 .4 .5 .5 0 .4 .3 .4 .3 .4-.3 .5 .2 .4 .1 .4 .2 .4-.2 .5-1.1 .4 .2 .4-.3 .5 .5 .4-.4 .4-.2 .4-.3 .5 0 .4 0 .4 0 .4-.2 .5 .1 .4 0 .4-.5 .5-.1 .4-.8 .4-.3 .4-1.4 .5-1.3 .4-1.5 .4-1.2 .4-1.4 .5-.1 .4 .2 .4 1.8 .4 1.6 .5 1.4 .4 1.4 .4 1.2 .5 .8 .4 .2 .4-.4 .4 .2 .5-.1 .4-.1 .4 .2 .4 .3 .5 .2 .4 .2 .4 .1 .5 .2 .4-.7 .4 .2 .4 .2 .5-.5 .4-.9 .4-.5 .4 .9 .5 .6 .4 .1 .4-.2 .4-.1 .5-.3 .4 .1 .4-.3 .5 .5 .4-.3 .4-.3 .4-.5 .5-.2 .4 0 .4-.4 .4-.7 .5-1.4 .4-1.8 .4-2.4 .4-2.1 .5-1.9 .4-1.6 .4-1.6 .5-1 .4-.9 .4-.6 .4 0 .5-.1 .4 .2 .4-.7 .4-.3 .5-.7 .4-.2 .4-.2 .5 .1 .4-.6 .4-1.7 .4-2.1 .5-2.7 .4-3.2 .4-3.8 .4-3.5 .5-2.3 .4 .2 .4 2 .4 4.2 .5 5.2 .4 5.7 .4 5.3 .5 4.2 .4 4.1 .4 3.3 .4 2.3 .5 1 .4 .5 .4 .8 .4 .1 .5 .4 .4-.4 .4 .4 .5 .2 .4 .8 .4-.6 .4 .5 .5-.5 .4 1 .4-.1 .4 .2 .5 0 .4 0 .4 .4 .4-.1 .5 0 .4 .2 .4-.1 .5 .5 .4 .1 .4-.1 .4-.6 .5 .6 .4 1.3 .4 .4 .4-.9 .5-.4 .4 .3 .4 .7 .5 .1 .4-.4 .4 .2 .4 .2 .5 .4 .4 0 .4 .6 .4 .1 .5 0 .4-.9 .4 .4 .4 .3 .5 .6 .4-.9 .4-.3 .5 .1 .4 1.4 .4 .4 .4 .4 .5-.3 .4 .3 .4-.5 .4-.3 .5-.7 .4 .4 .4 .2 .5 .5 .4-.2 .4 .2 .4-.2 .5 .9 .4-.1 .4 1.1 .4-.1 .5-.1 .4-.4 .4-.3 .4 0 .5-.1 .4-.1 .4 .6 .5-.4 .4 .1 .4 .1 .4 .2 .5-.1 .4-.1 .4-.1 .4 .3 .5-.6 .4 .7 .4 0 .5 1 .4-.2 .4-.3 .4 .6 .5-.5 .4 .5 .4-.5 .4 .8 .5-.1 .4-.4 .4-.3 .4-.6 .5 .4 .4-.2 .4 1.2 .5 0 .4 0 .4-.7 .4-.2 .5-.1 .4 .4 .4-.2 .4 .1 .5-.6 .4 .3 .4 .1 .5 0 .4-.1 .4-.1 .4 .6 .5 .4 .4-.1 .4-.5 .4-.8 .5 .3 .4 .6 .4 .6 .4 .2 .5-.6 .4-.2 .4 0 .5-.2 .4 .2 .4-.3 .4 .3 .5 .3 .4-.4 .4-.2" fill="none" stroke="#f4a25c" stroke-width="1.1" stroke-linejoin="round"/>
<rect x="388.00" y="14.00" width="284.60" height="230.00" fill="none" stroke="#000" stroke-width="1.6"/>
<line x1="388.00" y1="244.00" x2="388.00" y2="248.30" stroke="#000" stroke-width="1.6" stroke-linecap="butt"/>
<text x="388.00" y="260.00" font-size="11.2" text-anchor="middle" fill="#1a1a1a">800</text>
<line x1="416.46" y1="244.00" x2="416.46" y2="246.20" stroke="#000" stroke-width="1.6" stroke-linecap="butt"/>
<line x1="444.92" y1="244.00" x2="444.92" y2="248.30" stroke="#000" stroke-width="1.6" stroke-linecap="butt"/>
<text x="444.92" y="260.00" font-size="11.2" text-anchor="middle" fill="#1a1a1a">1000</text>
<line x1="473.38" y1="244.00" x2="473.38" y2="246.20" stroke="#000" stroke-width="1.6" stroke-linecap="butt"/>
<line x1="501.84" y1="244.00" x2="501.84" y2="248.30" stroke="#000" stroke-width="1.6" stroke-linecap="butt"/>
<text x="501.84" y="260.00" font-size="11.2" text-anchor="middle" fill="#1a1a1a">1200</text>
<line x1="530.30" y1="244.00" x2="530.30" y2="246.20" stroke="#000" stroke-width="1.6" stroke-linecap="butt"/>
<line x1="558.76" y1="244.00" x2="558.76" y2="248.30" stroke="#000" stroke-width="1.6" stroke-linecap="butt"/>
<text x="558.76" y="260.00" font-size="11.2" text-anchor="middle" fill="#1a1a1a">1400</text>
<line x1="587.22" y1="244.00" x2="587.22" y2="246.20" stroke="#000" stroke-width="1.6" stroke-linecap="butt"/>
<line x1="615.68" y1="244.00" x2="615.68" y2="248.30" stroke="#000" stroke-width="1.6" stroke-linecap="butt"/>
<text x="615.68" y="260.00" font-size="11.2" text-anchor="middle" fill="#1a1a1a">1600</text>
<line x1="644.14" y1="244.00" x2="644.14" y2="246.20" stroke="#000" stroke-width="1.6" stroke-linecap="butt"/>
<line x1="672.60" y1="244.00" x2="672.60" y2="248.30" stroke="#000" stroke-width="1.6" stroke-linecap="butt"/>
<text x="672.60" y="260.00" font-size="11.2" text-anchor="middle" fill="#1a1a1a">1800</text>
<text x="530.30" y="276.80" font-size="11.2" text-anchor="middle" fill="#1a1a1a">Raman shift/cm<tspan font-size="7.5" dy="-4.2">−1</tspan></text>
<text x="379.20" y="131.00" font-size="11.2" text-anchor="middle" fill="#1a1a1a" transform="rotate(-90 379.20 131.00)">Intensity a.u.</text>
<line x1="530.80" y1="24.50" x2="554.00" y2="24.50" stroke="#6a6ab8" stroke-width="1.1" stroke-linecap="butt"/>
<text x="557.40" y="27.90" font-size="9.7" text-anchor="start" fill="#1a1a1a">Au-coated nanopillar</text>
<line x1="530.80" y1="36.35" x2="554.00" y2="36.35" stroke="#7cbd62" stroke-width="1.1" stroke-linecap="butt"/>
<text x="557.40" y="39.75" font-size="9.7" text-anchor="start" fill="#1a1a1a">Glucose 100 mM</text>
<line x1="530.80" y1="48.20" x2="554.00" y2="48.20" stroke="#6fc8ee" stroke-width="1.1" stroke-linecap="butt"/>
<text x="557.40" y="51.60" font-size="9.7" text-anchor="start" fill="#1a1a1a">4-MPBA</text>
<line x1="530.80" y1="60.05" x2="554.00" y2="60.05" stroke="#f5b07a" stroke-width="1.1" stroke-linecap="butt"/>
<text x="557.40" y="63.45" font-size="9.7" text-anchor="start" fill="#1a1a1a">4-MPBA Glucose 100 mM</text>
<line x1="457.00" y1="51.00" x2="481.70" y2="51.00" stroke="#4a4a4a" stroke-width="2.2" stroke-linecap="butt" stroke-dasharray="8.8 7.0" stroke-dashoffset="0.00"/>
<line x1="447.70" y1="49.90" x2="447.70" y2="160.70" stroke="#4a4a4a" stroke-width="2.2" stroke-linecap="butt" stroke-dasharray="9.0 6.6" stroke-dashoffset="1.60"/>
<line x1="480.60" y1="49.90" x2="480.60" y2="160.70" stroke="#4a4a4a" stroke-width="2.2" stroke-linecap="butt" stroke-dasharray="8.4 7.2" stroke-dashoffset="-9.10"/>
<line x1="446.60" y1="159.60" x2="481.70" y2="159.60" stroke="#4a4a4a" stroke-width="2.2" stroke-linecap="butt" stroke-dasharray="8.8 7.1" stroke-dashoffset="-1.10"/>
<line x1="448.60" y1="163.30" x2="483.10" y2="163.30" stroke="#4a4a4a" stroke-width="2.2" stroke-linecap="butt" stroke-dasharray="8.3 7.8" stroke-dashoffset="3.60"/>
<line x1="449.70" y1="162.20" x2="449.70" y2="197.80" stroke="#4a4a4a" stroke-width="2.2" stroke-linecap="butt" stroke-dasharray="8.7 7.3" stroke-dashoffset="3.50"/>
<line x1="448.60" y1="196.70" x2="483.10" y2="196.70" stroke="#4a4a4a" stroke-width="2.2" stroke-linecap="butt" stroke-dasharray="8.8 6.6" stroke-dashoffset="-1.00"/>
<line x1="482.00" y1="162.20" x2="482.00" y2="197.80" stroke="#4a4a4a" stroke-width="2.2" stroke-linecap="butt" stroke-dasharray="8.0 7.7" stroke-dashoffset="3.90"/>
<text x="469.60" y="37.90" font-size="9.3" text-anchor="middle" fill="#3f9038" transform="rotate(-90 469.60 37.90)">1073</text>
<line x1="321.50" y1="12.00" x2="447.70" y2="51.00" stroke="#555555" stroke-width="2.0" stroke-linecap="butt" stroke-dasharray="9 6.5"/>
<line x1="321.50" y1="113.20" x2="447.70" y2="159.60" stroke="#555555" stroke-width="2.0" stroke-linecap="butt" stroke-dasharray="9 6.5"/>
<line x1="323.50" y1="150.30" x2="449.70" y2="163.30" stroke="#555555" stroke-width="2.0" stroke-linecap="butt" stroke-dasharray="9 6.5"/>
<line x1="323.50" y1="231.30" x2="482.00" y2="196.70" stroke="#555555" stroke-width="2.0" stroke-linecap="butt" stroke-dasharray="9 6.5"/>
<defs><linearGradient id="gBand" x1="0" y1="0" x2="0" y2="1"><stop offset="0" stop-color="#f7d4c4"/><stop offset="0.17" stop-color="#f1e0d8"/><stop offset="0.35" stop-color="#ebebec"/><stop offset="0.49" stop-color="#e0f2fa"/><stop offset="0.6" stop-color="#b8e4f8"/><stop offset="0.72" stop-color="#86d2f6"/><stop offset="0.85" stop-color="#45bdf2"/><stop offset="1" stop-color="#0aa8ee"/></linearGradient></defs>
<rect x="112.90" y="291.90" width="15.00" height="220.60" fill="url(#gBand)" stroke="none" stroke-width="1"/>
<path d="M44.2 327.6l.4-.1 .4-.1 .5-.1 .4-.1 .4 0 .4 .1 .4 0 .4 .1 .5-.1 .4-.1 .4 0 .4 0 .4 0 .5 .1 .4 .1 .4-.1 .4 .1 .4-.1 .4 0 .5 .2 .4-.1 .4-.2 .4 .1 .4 0 .5-.3 .4 .2 .4 .1 .4 0 .4-.1 .4 .1 .5 .2 .4 0 .4-.1 .4 .1 .4-.2 .5 0 .4 0 .4 .1 .4-.1 .4 .1 .4 0 .5-.1 .4 0 .4 .1 .4 0 .4 0 .5 .1 .4-.1 .4 .2 .4 .1 .4-.1 .4 0 .5 0 .4-.2 .4 0 .4 .2 .4 0 .5 .1 .4 .1 .4-.2 .4-.1 .4 0 .4-.2 .5-.1 .4 .1 .4 0 .4 0 .4 .2 .5 .1 .4 0 .4-.2 .4 0 .4-.1 .4 0 .5 .1 .4 .1 .4 0 .4 .1 .4-.1 .5-.1 .4-.1 .4-.1 .4-.1 .4 .1 .4 .1 .5 .2 .4 .2 .4 .1 .4 0 .4 .1 .5 0 .4-.1 .4-.3 .4 0 .4-.1 .4 .2 .5 0 .4 .2 .4-.1 .4-.2 .4-.1 .5 0 .4-.1 .4 .1 .4 .1 .4 0 .4 0 .5 .1 .4-.1 .4 .1 .4-.1 .4-.1 .5 .1 .4 .1 .4-.1 .4 0 .4 0 .4-.1 .5 0 .4-.1 .4 .1 .4 .1 .4 0 .5-.1 .4 .1 .4-.1 .4-.2 .4 .1 .4-.2 .5-.3 .4-.7 .4-.8 .4-.9 .4 .1 .5 1 .4 .9 .4 .4 .4 .3 .4 .1 .4 0 .5-.1 .4 0 .4-.3 .4-.4 .4-.4 .5-.8 .4-.9 .4-.3 .4 .4 .4 .7 .4 .7 .5 .5 .4 .1 .4-.1 .4-.1 .4 0 .5 0 .4-.1 .4 .1 .4-.2 .4-.2 .4-.3 .5-.3 .4-.4 .4-.3 .4-.5 .4-.5 .5-.7 .4-.9 .4-1.3 .4-1.5 .4-1.7 .4-2.2 .5-2.7 .4-2.9 .4-3.5 .4-3.7 .4-3.7 .5-3 .4-2 .4-.2 .4 1.5 .4 2.9 .4 3.4 .5 3.7 .4 3.5 .4 3.2 .4 2.7 .4 2.4 .5 1.8 .4 1.8 .4 1.2 .4 1.1 .4 .8 .4 .7 .5 .3 .4 .3 .4 .3 .4 .2 .4 .2 .5 .3 .4 .3 .4 .1 .4 .2 .4 .2 .4 0 .5 0 .4 0 .4 0 .4 0 .4 .1 .5-.1 .4 .1 .4 0 .4 0 .4 0 .4 .3 .5 .1 .4 .1 .4 .1 .4-.1 .4-.2 .5 .1 .4-.1 .4 0 .4 0 .4 0 .4-.1 .5 .1 .4 .1 .4 0 .4 .1 .4 0 .5 0 .4-.1 .4-.1 .4-.1 .4-.1 .4-.2 .5-.1 .4-.2 .4-.3 .4-.2 .4-.2 .5-.3 .4-.1 .4-.1 .4-.1 .4-.2 .5 .1 .4 0 .4 0 .4 .2 .4 .3 .4 0 .5 .2 .4 .2 .4 .1 .4 .2 .4 .2 .5 .2 .4 .1 .4 .3 .4 .2 .4 .2 .4 .1 .5 0 .4-.1 .4 0 .4-.1 .4 0 .5 .1 .4 .1 .4 0 .4 .2 .4 0 .4-.1 .5-.1 .4 0 .4 0 .4 0 .4 .1 .5 .1 .4 0 .4 0 .4-.1 .4 .1 .4 0 .5 .1 .4 0 .4-.1 .4 .1 .4-.2 .5 0 .4-.2 .4 .1 .4-.1 .4 .2 .4 0 .5 0 .4 .1 .4 0 .4-.1 .4 .2 .5 0 .4 0 .4 0 .4-.1 .4 0 .4 .1 .5 0 .4-.1 .4 0 .4 .1 .4 .1 .5 0 .4 .1 .4 .2 .4 0 .4-.1 .4 0 .5 0 .4-.1 .4-.1 .4 0 .4 .1 .5-.1 .4 0 .4 .1 .4 0 .4 0 .4 0 .5-.1 .4-.1 .4-.1 .4 .1 .4 0 .5 .1 .4 .2 .4 .1 .4-.1 .4 .1 .4 0 .5 0 .4 0 .4 0 .4 0 .4 0 .5 0 .4 0 .4-.1 .4 .1 .4 .1 .4-.3 .5 .1 .4 .1 .4-.2 .4 .1 .4 .1 .5-.1 .4 0 .4 .2 .4 0 .4 0 .4 0 .5 .1 .4-.1 .4 0 .4 .1 .4 0 .5 0 .4-.1 .4 0 .4-.1 .4-.1 .4-.1 .5 .1 .4-.1 .4 0 .4 .1 .4 0 .5-.1 .4 .2 .4 0 .4 0 .4 .1 .4-.2 .5-.1 .4 0 .4-.1 .4 .1 .4 .1 .5 0 .4 .1 .4-.2 .4 0 .4 0 .4 0 .5 0 .4 .2 .4 0 .4 .1 .4-.1 .5 .2 .4-.1 .4 0 .4 0 .4 .1 .4-.1 .5 .1 .4-.1 .4 0 .4 0 .4-.1 .5-.1 .4 .1 .4 0 .4 .1 .4 .1 .4 0 .5 .1 .4 0 .4-.1 .4 0 .4 .1 .5-.1 .4 0 .4 0 .4 .1 .4-.1 .4 .1 .5 0 .4-.1 .4 .1 .4 0 .4 0 .5-.1 .4 0 .4 .2 .4 0 .4 .1 .4 0 .5 0 .4-.2 .4 0 .4-.1 .4 0 .5-.1 .4-.1 .4-.1 .4-.2 .4-.1 .4-.2 .5-.4 .4-.3 .4-.1 .4-.1 .4 .1 .5 .4 .4 .4 .4 .2 .4 .4 .4 .2 .4 .1 .5 .1 .4 .1 .4 0 .4 .1 .4 .1 .5 0 .4 .2 .4 0 .4 .1 .4-.2 .4 .1 .5-.1 .4-.1 .4 0 .4 .2 .4-.1 .5 0 .4 .2 .4 0 .4-.1 .4 0 .4-.1 .5 0 .4-.2 .4 0 .4 .1 .4 0 .5-.2 .4 0 .4-.2 .4-.2 .4-.3 .4-.4 .5-.6 .4-.8 .4-.8 .4-.9 .4-.8 .5-.5 .4-.1 .4 .1 .4 .4 .4 .3 .4 .2 .5-.2 .4-.4 .4-.4 .4-.5 .4-.4 .5-.1 .4-.1 .4-.4 .4-.2 .4-.5 .4-.8 .5-.9 .4-1 .4-1.1 .4-.8 .4-.6 .5-.1 .4 .5 .4 .8 .4 1.2 .4 1.4 .4 1.5 .5 1.4 .4 1.4 .4 1 .4 1.1 .4 .7 .5 .7 .4 .5 .4 .6 .4 .3 .4 .4 .4 .3 .5 .2 .4 .1 .4 0 .4 .1 .4 .1 .5 0 .4-.1 .4 .1 .4-.1 .4-.1 .4 .1 .5 .2 .4 .1 .4 .1 .4 0 .4 0 .5 0 .4 .1 .4 0 .4 .1 .4 .2 .4-.1 .5-.1 .4 .1 .4 0 .4-.1 .4 0 .5 .1 .4 0 .4 0 .4 0 .4 .1 .4-.1 .5-.1 .4 .1 .4 0 .4 .1 .4 .1 .5 .1 .4 0 .4 .1 .4 0 .4 0 .4-.1 .5-.1 .4-.1 .4 0 .4 0 .4 .1 .5-.1 .4 .1 .4 0 .4 0 .4 0 .4 .1 .5-.1 .4 0 .4 .1 .4 0 .4 0 .5 0 .4 0 .4-.1 .4 .2 .4 0 .4 0 .5 .2 .4-.1 .4-.1 .4-.1 .4-.1 .5 0 .4 0 .4 0 .4 .1 .4 0 .4 0 .5 .1 .4 0 .4 .2 .4-.1 .4 0 .5 0 .4 0 .4 0 .4 .1 .4 0 .4-.1 .5-.1 .4-.1 .4 .1 .4 0 .4 0 .5 .1 .4 .1 .4-.1 .4 0 .4 0 .4 0 .5-.1 .4 0 .4 0 .4 0 .4 0 .5-.1 .4 .1 .4 0 .4-.1 .4 .1 .4 .1 .5-.2 .4 0 .4 .1 .4-.1 .4 0 .5 .1 .4 .1 .4 .1 .4-.1 .4 0 .4-.1 .5-.1 .4-.2 .4 .2 .4 0" fill="none" stroke="#e97f36" stroke-width="1.3" stroke-linejoin="round"/>
<text x="48.00" y="322.40" font-size="9.3" text-anchor="start" fill="#1a1a1a">100 mM</text>
<path d="M44.2 353.6l.4-.1 .4-.1 .5 0 .4-.1 .4 .1 .4 0 .4 .1 .4 0 .5-.1 .4 .1 .4 0 .4 .1 .4 .2 .5 0 .4 0 .4 0 .4-.1 .4-.2 .4 .1 .5-.1 .4 0 .4 0 .4 .2 .4-.1 .5 .1 .4 0 .4-.1 .4-.2 .4 .1 .4 .1 .5-.1 .4 .1 .4 0 .4 0 .4-.1 .5 0 .4 .1 .4 0 .4 0 .4 0 .4 0 .5-.2 .4 .1 .4-.1 .4 .1 .4 0 .5 .2 .4 .1 .4-.1 .4 .1 .4-.1 .4-.2 .5-.1 .4 .1 .4-.1 .4 0 .4 .1 .5 0 .4-.1 .4 .1 .4 .1 .4 0 .4 .1 .5 0 .4 0 .4-.1 .4-.1 .4 .1 .5-.1 .4 .1 .4 0 .4 .1 .4 .1 .4 0 .5-.1 .4 .1 .4-.1 .4 0 .4 0 .5 .1 .4 0 .4 .1 .4 0 .4 0 .4-.1 .5-.1 .4 0 .4-.1 .4-.1 .4 .1 .5 .1 .4-.1 .4 0 .4 0 .4 0 .4-.1 .5 .1 .4 0 .4 .1 .4-.2 .4 0 .5-.1 .4 0 .4 0 .4 .2 .4 .2 .4 0 .5 .1 .4-.1 .4-.1 .4 0 .4 .1 .5-.1 .4-.1 .4 0 .4 0 .4-.1 .4 0 .5 .1 .4 0 .4 .1 .4 .1 .4 .1 .5-.2 .4-.2 .4-.1 .4-.1 .4-.2 .4 0 .5-.3 .4-.6 .4-.9 .4-.8 .4 .3 .5 .9 .4 .8 .4 .7 .4 .2 .4 0 .4 0 .5 0 .4-.1 .4-.2 .4-.3 .4-.5 .5-.7 .4-.7 .4-.3 .4 .4 .4 .8 .4 .5 .5 .5 .4 .1 .4 0 .4 0 .4 0 .5-.2 .4 0 .4-.1 .4-.1 .4-.1 .4-.1 .5-.1 .4-.1 .4-.3 .4-.2 .4-.2 .5-.3 .4-.4 .4-.4 .4-.5 .4-.8 .4-1.1 .5-1.2 .4-1.6 .4-2 .4-2.2 .4-2.6 .5-3 .4-3.4 .4-3.4 .4-2.9 .4-2.2 .4-.9 .5 .8 .4 2.1 .4 3 .4 3.4 .4 3.3 .5 3.1 .4 2.8 .4 2.2 .4 1.9 .4 1.6 .4 1.3 .5 .9 .4 .6 .4 .5 .4 .4 .4 .4 .5 .5 .4 .3 .4 .3 .4 .2 .4 0 .4-.1 .5 .2 .4 .1 .4 0 .4 0 .4 .3 .5 0 .4 0 .4 .1 .4 .1 .4 .1 .4 .1 .5 0 .4 .1 .4 .1 .4-.1 .4 0 .5 0 .4-.1 .4 0 .4 .1 .4 0 .4 .1 .5 .2 .4 .1 .4-.1 .4 .2 .4-.1 .5-.3 .4 0 .4-.2 .4-.3 .4-.1 .4-.1 .5-.1 .4 0 .4-.1 .4-.3 .4-.1 .5-.3 .4-.3 .4 0 .4-.2 .4 0 .5 .1 .4 .1 .4 0 .4 .1 .4 .1 .4 .2 .5 .2 .4 .2 .4 .2 .4 .2 .4 .3 .5 .1 .4 .2 .4 .1 .4 0 .4 .1 .4 0 .5 .1 .4 0 .4 .1 .4 .1 .4-.1 .5 0 .4 .1 .4 0 .4 0 .4 0 .4 0 .5-.2 .4 .1 .4 0 .4 0 .4 0 .5 .2 .4 0 .4-.2 .4 .2 .4 0 .4 0 .5 0 .4 .1 .4-.1 .4 .1 .4-.1 .5 .1 .4 .1 .4 .1 .4 0 .4 0 .4 0 .5 0 .4-.1 .4 0 .4 0 .4 0 .5 .1 .4 0 .4 0 .4 0 .4-.1 .4 0 .5 .1 .4-.1 .4 0 .4 0 .4 .1 .5-.2 .4 0 .4-.1 .4 .1 .4 0 .4 .2 .5 .1 .4 0 .4 .1 .4 0 .4 0 .5-.1 .4 0 .4 0 .4-.1 .4 0 .4 .2 .5-.1 .4 0 .4 0 .4 0 .4-.1 .5 0 .4 0 .4 .1 .4 .1 .4 0 .4 0 .5 0 .4-.2 .4-.2 .4 .1 .4 0 .5 .1 .4 .1 .4 .1 .4 .1 .4 .1 .4 .1 .5 0 .4-.1 .4-.1 .4 0 .4-.1 .5 0 .4 .1 .4 .1 .4 0 .4-.1 .4 0 .5-.3 .4-.1 .4 0 .4 0 .4 0 .5 .2 .4 .1 .4 0 .4 0 .4 .1 .4 .1 .5 0 .4 0 .4-.1 .4 0 .4-.1 .5-.1 .4 0 .4 0 .4 0 .4 .2 .4 0 .5 0 .4 0 .4-.1 .4 0 .4-.1 .5-.1 .4-.1 .4 .1 .4 .1 .4 0 .4 .1 .5 .1 .4 .1 .4-.2 .4 .2 .4 .1 .5-.2 .4 0 .4 .1 .4 0 .4-.1 .4 .2 .5 .1 .4 0 .4 .1 .4 .1 .4 0 .5-.1 .4-.2 .4 .1 .4-.1 .4 0 .4-.1 .5 .1 .4-.3 .4 0 .4-.1 .4 0 .5-.2 .4 .1 .4 0 .4 0 .4 .1 .4 .1 .5 0 .4 0 .4-.1 .4 0 .4-.1 .5 0 .4 .1 .4 .1 .4 .1 .4 .2 .4-.1 .5 0 .4 0 .4-.1 .4-.1 .4 0 .5 0 .4 0 .4-.2 .4-.1 .4-.2 .4-.4 .5-.3 .4-.2 .4-.3 .4 0 .4 .1 .5 .1 .4 .4 .4 .2 .4 .3 .4 .1 .4 .2 .5 .1 .4 .2 .4-.2 .4 0 .4 .1 .5 0 .4-.1 .4 .2 .4 .1 .4-.1 .4-.1 .5 0 .4 .1 .4 0 .4-.1 .4 0 .5 .1 .4-.1 .4 0 .4 0 .4 .1 .4 0 .5 0 .4 0 .4 0 .4-.2 .4-.1 .5-.1 .4-.1 .4-.2 .4 0 .4-.3 .4-.4 .5-.6 .4-.6 .4-.7 .4-.8 .4-.6 .5-.5 .4-.2 .4 0 .4 .1 .4 .1 .4 0 .5-.2 .4-.4 .4-.7 .4-.4 .4-.4 .5-.2 .4-.3 .4-.1 .4-.3 .4-.3 .4-.7 .5-.4 .4-.6 .4-.6 .4-.6 .4-.1 .5-.1 .4 .2 .4 .6 .4 .8 .4 .9 .4 1 .5 .9 .4 .8 .4 .9 .4 .9 .4 .8 .5 .7 .4 .6 .4 .3 .4 .3 .4 .3 .4 .2 .5 .2 .4 .2 .4 .1 .4 .1 .4 .1 .5 .2 .4 .1 .4 0 .4 0 .4 0 .4 .1 .5 0 .4 0 .4-.1 .4 .2 .4-.1 .5 0 .4 0 .4 .1 .4-.2 .4 0 .4 0 .5 .2 .4 .1 .4 0 .4 .1 .4-.1 .5-.2 .4-.1 .4 .1 .4 0 .4 .2 .4-.1 .5 0 .4-.1 .4 0 .4 0 .4 .1 .5 .2 .4 .1 .4-.1 .4 .1 .4-.1 .4-.1 .5 0 .4 0 .4 0 .4 .1 .4 0 .5 0 .4 0 .4-.1 .4-.1 .4 .1 .4-.1 .5-.1 .4 .1 .4-.1 .4 .1 .4 .2 .5 0 .4 0 .4 0 .4 0 .4-.1 .4 .2 .5 0 .4 0 .4-.1 .4 0 .4-.1 .5 .1 .4 0 .4-.1 .4 .1 .4 0 .4-.1 .5 .1 .4 0 .4 0 .4 0 .4 .1 .5-.1 .4 0 .4 0 .4 .1 .4 0 .4 0 .5 .1 .4-.1 .4 0 .4-.1 .4 .2 .5-.1 .4 .2 .4-.2 .4 .1 .4-.1 .4 0 .5 0 .4 0 .4-.1 .4 0 .4 0 .5 0 .4 .1 .4 0 .4-.1 .4 0 .4 0 .5 0 .4 0 .4 0 .4 .1 .4-.2 .5 .1 .4 .1 .4 0 .4 0 .4 0 .4 .1 .5 0 .4 .2 .4 0 .4 0" fill="none" stroke="#ef9450" stroke-width="1.3" stroke-linejoin="round"/>
<text x="48.00" y="350.60" font-size="9.3" text-anchor="start" fill="#1a1a1a">50 mM</text>
<path d="M44.2 381.5l.4 0 .4 .1 .5 .2 .4 0 .4-.1 .4 .1 .4 0 .4 .1 .5 0 .4 .2 .4-.1 .4-.1 .4-.2 .5-.1 .4-.1 .4 0 .4 0 .4 .1 .4 .1 .5 0 .4-.1 .4 .2 .4 0 .4-.1 .5 0 .4 .2 .4-.2 .4 .1 .4 .1 .4-.1 .5 0 .4 0 .4-.1 .4-.1 .4 .2 .5-.1 .4 .1 .4 0 .4 .1 .4 0 .4 .1 .5 .1 .4 .1 .4 .1 .4-.1 .4 0 .5-.1 .4 0 .4-.1 .4-.1 .4-.1 .4 0 .5-.2 .4-.1 .4 .2 .4 0 .4-.1 .5 .2 .4 0 .4-.1 .4 0 .4 0 .4 0 .5 0 .4 .1 .4 .1 .4 .1 .4 .1 .5 0 .4 0 .4-.1 .4 0 .4 0 .4-.2 .5 .1 .4 0 .4 0 .4 0 .4-.1 .5 0 .4 0 .4-.2 .4 .1 .4 .1 .4 0 .5 0 .4 .2 .4-.1 .4 .1 .4 0 .5 0 .4-.1 .4 .1 .4 0 .4-.1 .4 0 .5 0 .4 0 .4 0 .4 0 .4 0 .5 .1 .4 0 .4 .1 .4 0 .4 0 .4 .1 .5-.1 .4-.1 .4 0 .4 0 .4-.1 .5-.1 .4-.1 .4 0 .4-.1 .4-.1 .4 0 .5 .2 .4 0 .4 0 .4 0 .4 .1 .5-.2 .4 .1 .4-.1 .4 0 .4-.1 .4 0 .5-.4 .4-.6 .4-.9 .4-.7 .4 .2 .5 .9 .4 .9 .4 .5 .4 .2 .4 .1 .4 0 .5-.1 .4-.1 .4-.1 .4-.2 .4-.5 .5-.7 .4-.6 .4-.5 .4 .2 .4 .7 .4 .6 .5 .3 .4 .3 .4 .1 .4 0 .4 0 .5-.2 .4-.1 .4-.2 .4-.2 .4 0 .4 0 .5-.2 .4 0 .4-.1 .4-.2 .4-.3 .5-.3 .4-.5 .4-.6 .4-.6 .4-.8 .4-1.1 .5-1.3 .4-1.6 .4-2.1 .4-2.5 .4-2.9 .5-3.2 .4-3.5 .4-3.6 .4-3 .4-2.1 .4-.9 .5 .8 .4 2.2 .4 3.1 .4 3.5 .4 3.5 .5 3.2 .4 2.9 .4 2.4 .4 2 .4 1.8 .4 1.3 .5 1 .4 .9 .4 .6 .4 .5 .4 .4 .5 .3 .4 .2 .4 .3 .4 .2 .4 .2 .4 .2 .5 .1 .4 .1 .4 .1 .4-.1 .4 .1 .5 .1 .4 0 .4 0 .4 .3 .4 0 .4 .1 .5 .1 .4 0 .4-.1 .4 .2 .4 0 .5 .1 .4 0 .4 0 .4-.1 .4 0 .4-.2 .5 0 .4 .1 .4 .1 .4-.1 .4 .1 .5-.2 .4 .1 .4-.1 .4 0 .4-.1 .4-.2 .5-.3 .4-.2 .4-.1 .4-.3 .4-.2 .5-.1 .4-.2 .4-.3 .4-.2 .4-.1 .5-.1 .4 .1 .4 .2 .4 .2 .4 .2 .4 .2 .5 .2 .4 .1 .4 .2 .4 .4 .4 .1 .5 .2 .4 .2 .4 .2 .4 0 .4 .2 .4 0 .5 0 .4-.1 .4 .1 .4 0 .4 .2 .5 .1 .4 .2 .4-.2 .4 0 .4-.2 .4 .1 .5-.1 .4-.1 .4 .1 .4 .1 .4-.1 .5 .1 .4 .2 .4 .1 .4-.2 .4 .1 .4-.1 .5 0 .4 0 .4 0 .4 0 .4 .1 .5-.1 .4-.1 .4 0 .4 0 .4-.1 .4 0 .5 0 .4 .1 .4 0 .4 0 .4 .1 .5 .2 .4 0 .4 0 .4 0 .4 0 .4-.1 .5 0 .4 .1 .4 0 .4 0 .4 0 .5 .1 .4-.1 .4 0 .4 0 .4 .1 .4 0 .5 .1 .4 0 .4 0 .4 0 .4 0 .5 0 .4 .1 .4 .1 .4-.1 .4-.1 .4-.1 .5 0 .4-.1 .4-.1 .4 .2 .4 0 .5 .1 .4 0 .4 .1 .4-.1 .4 .1 .4 .1 .5 .1 .4 0 .4-.1 .4-.1 .4-.3 .5 0 .4 0 .4 .2 .4-.1 .4 .4 .4-.1 .5-.1 .4-.1 .4 0 .4 0 .4 .1 .5-.2 .4 .1 .4 .1 .4-.1 .4 0 .4-.1 .5 .1 .4-.1 .4 .2 .4-.1 .4 .1 .5-.1 .4 0 .4-.1 .4 0 .4 0 .4 0 .5 .1 .4 .1 .4 .1 .4 0 .4-.1 .5 .1 .4 0 .4 0 .4 0 .4 .2 .4-.1 .5-.1 .4 0 .4 0 .4-.2 .4 .1 .5 0 .4 0 .4 .1 .4 .1 .4-.1 .4 0 .5-.1 .4-.1 .4 .1 .4 0 .4 0 .5 .1 .4 0 .4-.1 .4 0 .4 0 .4 .1 .5-.1 .4 0 .4 .1 .4 .1 .4-.1 .5 .1 .4 .1 .4-.1 .4 0 .4 .1 .4 0 .5 0 .4 .1 .4-.1 .4 0 .4-.1 .5-.1 .4-.1 .4 0 .4 .1 .4 .1 .4 0 .5 0 .4 .1 .4-.1 .4 0 .4 0 .5-.1 .4 .1 .4 0 .4 0 .4 0 .4 0 .5-.1 .4-.1 .4 0 .4-.1 .4-.1 .5-.1 .4-.1 .4-.1 .4-.2 .4-.2 .4-.3 .5-.3 .4-.4 .4-.2 .4-.1 .4 .4 .5 .3 .4 .4 .4 .3 .4 .4 .4 .1 .4 .1 .5 .1 .4 .1 .4 0 .4 0 .4 .1 .5 .1 .4 0 .4-.1 .4 0 .4 0 .4 0 .5-.1 .4-.1 .4-.1 .4 .1 .4 .1 .5 0 .4 0 .4 0 .4 0 .4-.1 .4 0 .5 .1 .4-.1 .4 0 .4 0 .4-.1 .5-.1 .4-.1 .4-.1 .4-.3 .4-.2 .4-.4 .5-.5 .4-.7 .4-.7 .4-.6 .4-.6 .5-.5 .4-.1 .4 .1 .4 0 .4 .1 .4 0 .5-.4 .4-.4 .4-.5 .4-.5 .4-.4 .5-.2 .4-.2 .4-.1 .4-.2 .4-.3 .4-.4 .5-.6 .4-.7 .4-.7 .4-.5 .4-.2 .5 0 .4 .3 .4 .7 .4 .6 .4 .8 .4 .9 .5 .9 .4 .7 .4 .9 .4 .7 .4 .7 .5 .6 .4 .7 .4 .4 .4 .5 .4 .3 .4 .1 .5 .3 .4 .3 .4 .1 .4 .2 .4 .3 .5-.2 .4 0 .4 .1 .4-.1 .4-.1 .4 .1 .5 .1 .4-.1 .4 0 .4 .2 .4 0 .5 .1 .4 .2 .4 0 .4 0 .4 0 .4-.1 .5 .1 .4 0 .4 0 .4 .1 .4 .1 .5-.2 .4-.1 .4 0 .4 0 .4-.2 .4 0 .5 .1 .4 .1 .4-.1 .4 .1 .4 .1 .5-.2 .4 0 .4 0 .4 0 .4 .1 .4 0 .5 0 .4 0 .4-.1 .4 0 .4 .1 .5 0 .4-.1 .4 0 .4-.1 .4 0 .4 0 .5 .2 .4 0 .4 .1 .4 0 .4 .1 .5-.1 .4 .1 .4 0 .4 0 .4-.1 .4 .1 .5 0 .4 .1 .4 0 .4-.1 .4 0 .5-.1 .4 0 .4 0 .4 .1 .4 0 .4 0 .5 0 .4 0 .4-.1 .4 .1 .4 .1 .5-.1 .4 0 .4 0 .4 0 .4 0 .4 .1 .5 0 .4 .1 .4-.1 .4 .1 .4-.2 .5 .1 .4 .1 .4 0 .4-.2 .4 0 .4-.1 .5-.1 .4 .1 .4 0 .4 .1 .4 .1 .5 0 .4 0 .4 .2 .4-.1 .4-.1 .4 .1 .5 .1 .4-.3 .4 0 .4-.1 .4-.1 .5 0 .4 .1 .4 .1 .4 .2 .4 .1 .4-.1 .5 .1 .4 0 .4 0 .4 0" fill="none" stroke="#f1a264" stroke-width="1.3" stroke-linejoin="round"/>
<text x="48.00" y="378.30" font-size="9.3" text-anchor="start" fill="#1a1a1a">10 mM</text>
<path d="M44.2 405.9l.4-.1 .4 0 .5 0 .4 .2 .4 0 .4 .2 .4-.1 .4 0 .5 0 .4-.1 .4 0 .4 0 .4 0 .5-.1 .4 0 .4 0 .4 0 .4 0 .4 .1 .5-.1 .4 0 .4 .1 .4 0 .4 0 .5 .2 .4 0 .4-.2 .4 0 .4 .1 .4 0 .5 0 .4 .1 .4 0 .4-.1 .4-.2 .5 .1 .4-.1 .4 .1 .4 0 .4 .2 .4 0 .5 0 .4 0 .4 0 .4-.1 .4-.1 .5 .1 .4-.1 .4-.2 .4 0 .4 .1 .4-.1 .5 .2 .4 .1 .4 .1 .4 0 .4 .1 .5-.1 .4-.1 .4 .1 .4 0 .4 .1 .4 0 .5 .1 .4-.2 .4-.3 .4-.2 .4 0 .5 0 .4 0 .4 .2 .4 .1 .4-.1 .4 .1 .5 .1 .4 0 .4-.1 .4 0 .4 0 .5 .1 .4-.1 .4 .2 .4 .1 .4 .1 .4-.1 .5 .1 .4-.1 .4-.1 .4-.1 .4 0 .5-.1 .4-.1 .4 0 .4 0 .4 .1 .4 0 .5 0 .4 .1 .4 0 .4 0 .4 0 .5 .1 .4 0 .4-.1 .4 0 .4 0 .4-.1 .5-.1 .4 .2 .4 0 .4 .2 .4 .1 .5 .1 .4-.2 .4 0 .4 0 .4 0 .4 0 .5 0 .4 0 .4-.1 .4 0 .4-.1 .5 .1 .4 0 .4 .1 .4-.1 .4 0 .4-.1 .5-.4 .4-.6 .4-.9 .4-.7 .4 .1 .5 .8 .4 .8 .4 .4 .4 .1 .4 .1 .4 .2 .5-.1 .4-.1 .4 .1 .4-.3 .4-.6 .5-.6 .4-.7 .4-.4 .4 .3 .4 .6 .4 .6 .5 .4 .4 .2 .4 0 .4 .1 .4 0 .5-.1 .4-.1 .4-.2 .4-.1 .4-.2 .4-.2 .5-.2 .4-.1 .4-.2 .4-.2 .4-.1 .5-.3 .4-.3 .4-.4 .4-.5 .4-.7 .4-1 .5-1.2 .4-1.5 .4-1.9 .4-2.4 .4-2.5 .5-3 .4-3.3 .4-3.4 .4-2.9 .4-2.1 .4-.7 .5 .6 .4 2.1 .4 3 .4 3.3 .4 3.3 .5 3.2 .4 2.6 .4 2.2 .4 1.9 .4 1.3 .4 1.1 .5 .9 .4 .8 .4 .5 .4 .6 .4 .3 .5 .5 .4 .3 .4 .3 .4 0 .4 .1 .4 .1 .5 .2 .4 .1 .4 .1 .4 .2 .4 0 .5-.1 .4-.1 .4 .2 .4 .1 .4 .1 .4 .2 .5 .1 .4 .1 .4 0 .4 0 .4-.1 .5 0 .4 .1 .4-.1 .4 0 .4 .1 .4 .1 .5-.1 .4 0 .4 0 .4-.1 .4-.1 .5-.2 .4 0 .4-.1 .4-.1 .4-.1 .4-.1 .5-.1 .4 0 .4 0 .4-.2 .4-.1 .5-.2 .4-.1 .4-.2 .4 0 .4-.2 .5 0 .4-.1 .4 0 .4 0 .4 .2 .4 .2 .5 0 .4 .2 .4 .1 .4 .1 .4 .2 .5 .3 .4 .1 .4 .2 .4 .1 .4 .1 .4 .1 .5 .3 .4 0 .4 0 .4 .1 .4 .1 .5-.2 .4-.1 .4 0 .4 .1 .4 0 .4 .1 .5 .2 .4 .1 .4-.1 .4-.1 .4 0 .5-.1 .4 0 .4 .1 .4 0 .4-.1 .4 .1 .5-.1 .4-.1 .4 .2 .4 .1 .4 0 .5 0 .4 .2 .4-.1 .4-.1 .4-.1 .4 .1 .5 .1 .4 0 .4 .1 .4 0 .4 0 .5-.1 .4 .1 .4 0 .4-.1 .4-.1 .4-.2 .5-.1 .4 0 .4 0 .4 .1 .4 .1 .5 0 .4 .1 .4 0 .4-.1 .4 0 .4 .1 .5 0 .4 0 .4 .1 .4 .1 .4-.1 .5 .2 .4-.1 .4 0 .4 .1 .4 0 .4-.2 .5 0 .4-.1 .4 0 .4 0 .4 0 .5 0 .4 .2 .4 0 .4 0 .4 0 .4 0 .5-.1 .4-.1 .4 0 .4 0 .4 0 .5 .1 .4 0 .4 .1 .4-.1 .4 0 .4 0 .5 .2 .4 0 .4 0 .4 0 .4-.1 .5-.2 .4 0 .4 .1 .4 0 .4 .1 .4 0 .5 0 .4 0 .4-.1 .4 0 .4 0 .5 .1 .4 0 .4 .1 .4-.1 .4 .2 .4 0 .5-.1 .4 0 .4 0 .4-.2 .4 .1 .5 .1 .4-.1 .4 .1 .4 0 .4-.1 .4-.2 .5-.1 .4 .2 .4 .1 .4 0 .4 .2 .5 0 .4 0 .4-.1 .4-.1 .4 .1 .4 0 .5 0 .4 .2 .4-.1 .4-.2 .4 .1 .5 0 .4-.1 .4-.1 .4 .1 .4-.1 .4 0 .5 .2 .4 0 .4 .1 .4 0 .4 .2 .5 0 .4-.1 .4 0 .4 0 .4-.2 .4 0 .5 .1 .4 0 .4 0 .4 .1 .4 0 .5 0 .4 0 .4 0 .4-.1 .4 .1 .4 0 .5 .1 .4 0 .4 .1 .4 0 .4 .1 .5-.1 .4 0 .4-.2 .4-.1 .4-.1 .4 0 .5 .1 .4 .1 .4 .1 .4-.1 .4-.1 .5 0 .4 0 .4-.2 .4-.1 .4-.2 .4-.3 .5-.4 .4-.3 .4-.2 .4-.1 .4 .1 .5 .3 .4 .5 .4 .4 .4 .3 .4 .2 .4 .1 .5 .1 .4-.1 .4 0 .4 0 .4-.1 .5 0 .4-.1 .4 0 .4 .1 .4 .1 .4-.2 .5 .1 .4 .1 .4 0 .4 0 .4 0 .5-.1 .4 0 .4-.1 .4 0 .4 0 .4 .1 .5 0 .4 .1 .4 .1 .4-.1 .4 0 .5-.1 .4-.2 .4-.1 .4-.1 .4-.3 .4-.4 .5-.5 .4-.7 .4-.7 .4-.7 .4-.9 .5-.2 .4-.2 .4 0 .4 .2 .4 .2 .4-.1 .5-.2 .4-.5 .4-.5 .4-.6 .4-.4 .5-.3 .4-.1 .4-.1 .4-.2 .4-.2 .4-.4 .5-.7 .4-.6 .4-.6 .4-.5 .4-.3 .5 .1 .4 .1 .4 .6 .4 .8 .4 .8 .4 1.1 .5 1 .4 .7 .4 .9 .4 .7 .4 .6 .5 .7 .4 .6 .4 .5 .4 .4 .4 .2 .4 .2 .5 .3 .4 .2 .4 .2 .4 .3 .4 .2 .5 0 .4 0 .4 0 .4 .1 .4 0 .4 .1 .5 0 .4 .1 .4-.1 .4 0 .4-.1 .5 .1 .4-.1 .4 0 .4-.1 .4 .2 .4 0 .5 .1 .4-.1 .4 .1 .4-.1 .4 0 .5-.1 .4 .1 .4 0 .4 .2 .4-.1 .4 0 .5 0 .4 0 .4-.1 .4 0 .4 .1 .5 .1 .4 0 .4 0 .4 .1 .4 .1 .4 0 .5-.1 .4-.1 .4 .1 .4-.1 .4-.1 .5 0 .4 .2 .4-.1 .4 0 .4 0 .4 0 .5-.2 .4 .1 .4-.1 .4 0 .4 0 .5 .1 .4 0 .4 .1 .4 .2 .4 0 .4 0 .5 0 .4-.2 .4 0 .4 0 .4 0 .5 0 .4 .1 .4 0 .4 0 .4 .1 .4 .1 .5 .1 .4 0 .4-.1 .4-.1 .4 0 .5-.2 .4 0 .4 0 .4 .1 .4 0 .4 0 .5-.1 .4 0 .4 0 .4 .1 .4 0 .5 .1 .4 .1 .4 0 .4-.1 .4-.1 .4 .1 .5-.3 .4 .1 .4 .2 .4 .1 .4-.2 .5 .2 .4 0 .4-.1 .4 .1 .4 .2 .4 0 .5-.1 .4 0 .4-.1 .4-.1 .4 .1 .5 0 .4 .1 .4-.1 .4-.1 .4-.1 .4 0 .5 0 .4 .1 .4 .1 .4 0" fill="none" stroke="#f3ae78" stroke-width="1.3" stroke-linejoin="round"/>
<text x="48.00" y="403.90" font-size="9.3" text-anchor="start" fill="#1a1a1a">5 mM</text>
<path d="M44.2 431.5l.4-.1 .4 0 .5 0 .4 .1 .4-.1 .4 0 .4 0 .4 .2 .5-.1 .4 .2 .4 0 .4-.1 .4-.1 .5 0 .4 0 .4-.1 .4 0 .4-.1 .4 .2 .5 0 .4 .1 .4 0 .4-.1 .4-.1 .5 0 .4 0 .4 .1 .4 .2 .4 0 .4 0 .5-.1 .4 0 .4-.1 .4 0 .4 .2 .5-.1 .4 0 .4-.1 .4 0 .4 0 .4 .1 .5-.1 .4 0 .4 0 .4 .1 .4-.2 .5 .2 .4 .1 .4-.2 .4-.2 .4 0 .4 0 .5-.1 .4 .2 .4 .1 .4-.1 .4-.1 .5 .2 .4 0 .4 0 .4 .1 .4 .1 .4-.1 .5 0 .4 0 .4 0 .4 0 .4 0 .5-.1 .4 0 .4-.1 .4 .2 .4-.1 .4 .1 .5-.1 .4 0 .4-.2 .4 .1 .4-.1 .5 .2 .4 0 .4 .2 .4 0 .4 .1 .4-.2 .5 .1 .4-.1 .4 0 .4 0 .4-.1 .5 0 .4 0 .4 .1 .4-.1 .4 .1 .4 0 .5-.1 .4 0 .4 0 .4 0 .4 .2 .5-.1 .4 .1 .4 .1 .4 .1 .4-.2 .4 .2 .5 .1 .4-.1 .4-.1 .4 0 .4 0 .5 0 .4 0 .4 0 .4-.1 .4 0 .4-.2 .5 .2 .4-.1 .4 .2 .4 0 .4 .1 .5-.3 .4 0 .4-.2 .4 .1 .4-.1 .4 0 .5-.3 .4-.5 .4-.9 .4-.6 .4 .1 .5 .9 .4 .7 .4 .3 .4 0 .4 .2 .4-.1 .5 .1 .4 0 .4 .1 .4-.2 .4-.5 .5-.7 .4-.7 .4-.4 .4 .3 .4 .6 .4 .6 .5 .3 .4 .2 .4 .1 .4-.1 .4 .1 .5-.1 .4 .1 .4-.2 .4 0 .4-.2 .4-.1 .5-.3 .4 0 .4-.3 .4-.2 .4-.2 .5-.2 .4-.3 .4-.3 .4-.4 .4-.6 .4-1 .5-1 .4-1.4 .4-2 .4-2 .4-2.4 .5-2.9 .4-3.1 .4-2.8 .4-2.8 .4-1.8 .4-.7 .5 .7 .4 1.9 .4 2.8 .4 3.1 .4 3 .5 2.7 .4 2.4 .4 2.1 .4 1.7 .4 1.3 .4 1.2 .5 .8 .4 .6 .4 .3 .4 .4 .4 .3 .5 .3 .4 .2 .4 .3 .4 .2 .4 .2 .4 .1 .5-.1 .4 .1 .4 .1 .4 .1 .4 0 .5 .3 .4-.1 .4 .1 .4 0 .4 .1 .4-.1 .5 .1 .4 0 .4 0 .4 0 .4 .1 .5 .1 .4 0 .4 0 .4 0 .4 0 .4-.1 .5 .1 .4-.1 .4 .1 .4-.1 .4 0 .5-.1 .4 .1 .4 0 .4 0 .4 0 .4-.1 .5-.1 .4-.2 .4 0 .4-.2 .4-.3 .5-.2 .4-.3 .4-.2 .4-.1 .4 .2 .5-.1 .4 .2 .4 .1 .4 .1 .4 0 .4 .3 .5 0 .4 .2 .4 .2 .4 .1 .4 .1 .5 .2 .4 .1 .4 .2 .4 0 .4 .1 .4 .1 .5 0 .4 0 .4 .2 .4-.1 .4-.1 .5 0 .4 0 .4 .1 .4 0 .4-.1 .4 0 .5 0 .4 .1 .4 0 .4 0 .4 0 .5 .1 .4 0 .4 0 .4 .1 .4 0 .4 0 .5 0 .4-.1 .4-.1 .4 .1 .4 0 .5-.1 .4 .2 .4 0 .4-.1 .4 .1 .4 0 .5-.1 .4 0 .4 0 .4 0 .4 .2 .5 .2 .4 0 .4 .1 .4 0 .4 0 .4-.1 .5-.1 .4-.1 .4-.1 .4 0 .4 .1 .5 0 .4 0 .4 0 .4 0 .4-.1 .4 0 .5 .1 .4 0 .4-.1 .4 0 .4 0 .5 0 .4-.1 .4 .1 .4 .1 .4 0 .4 .1 .5 .1 .4 .1 .4-.1 .4 0 .4 .1 .5-.1 .4 0 .4 0 .4-.2 .4-.1 .4 .1 .5-.2 .4 .1 .4 .2 .4 .1 .4-.1 .5 .1 .4 .2 .4-.2 .4-.1 .4 0 .4 .1 .5-.1 .4 .2 .4-.1 .4 0 .4 0 .5 0 .4-.2 .4 .3 .4 0 .4 0 .4 .1 .5 .1 .4-.1 .4 .1 .4-.1 .4-.1 .5-.1 .4 0 .4 0 .4 .1 .4 .2 .4-.1 .5 0 .4-.1 .4-.1 .4-.1 .4 0 .5 .1 .4 .1 .4 .2 .4 .2 .4 0 .4-.1 .5-.2 .4 .1 .4 0 .4 .1 .4 .1 .5 0 .4-.1 .4-.1 .4 0 .4-.1 .4 0 .5 0 .4 0 .4-.1 .4 .1 .4 0 .5 .1 .4-.1 .4 0 .4-.1 .4 0 .4-.1 .5 .1 .4 0 .4 0 .4 0 .4 0 .5 .2 .4-.1 .4 .1 .4 0 .4 .1 .4-.2 .5 .1 .4-.2 .4 0 .4 0 .4 0 .5 .1 .4 .1 .4 0 .4 .1 .4 0 .4-.1 .5 .1 .4 0 .4-.1 .4-.1 .4 .1 .5 0 .4 0 .4 0 .4 .2 .4-.1 .4-.1 .5 .1 .4 0 .4-.2 .4 .1 .4-.1 .5-.1 .4 .1 .4-.1 .4-.1 .4-.1 .4-.2 .5-.3 .4-.3 .4-.2 .4-.3 .4 .3 .5 .1 .4 .2 .4 .3 .4 .3 .4 .2 .4 .3 .5 .2 .4 .1 .4 .1 .4-.2 .4 0 .5 0 .4 0 .4 0 .4 .1 .4 0 .4 0 .5 0 .4 0 .4-.1 .4 .1 .4 0 .5-.1 .4 0 .4 .1 .4-.2 .4 0 .4 0 .5 .1 .4 0 .4 0 .4-.2 .4 0 .5 0 .4-.1 .4 0 .4 0 .4-.2 .4-.4 .5-.5 .4-.7 .4-.6 .4-.7 .4-.5 .5-.3 .4 .1 .4 0 .4 .2 .4 .2 .4-.1 .5-.3 .4-.4 .4-.4 .4-.6 .4-.4 .5-.2 .4-.1 .4-.2 .4-.2 .4-.1 .4-.2 .5-.6 .4-.5 .4-.5 .4-.6 .4-.4 .5 .2 .4 0 .4 .6 .4 .6 .4 .9 .4 .6 .5 1 .4 .6 .4 .9 .4 .6 .4 .8 .5 .5 .4 .5 .4 .5 .4 .2 .4 .2 .4 .3 .5 .1 .4 .2 .4 .1 .4 .1 .4 .1 .5 .1 .4 .1 .4 0 .4 .1 .4 0 .4 .1 .5 0 .4 0 .4-.1 .4 0 .4 0 .5 .1 .4 0 .4 0 .4 .1 .4 .2 .4 0 .5 .1 .4-.1 .4 0 .4-.1 .4-.1 .5-.1 .4 .2 .4 0 .4 .1 .4 .1 .4 .1 .5 0 .4-.1 .4 0 .4-.1 .4 0 .5-.1 .4 .1 .4 .1 .4 0 .4 .1 .4 .1 .5-.2 .4-.1 .4 .1 .4 .1 .4-.2 .5 0 .4 0 .4-.1 .4-.2 .4 .1 .4 0 .5 .1 .4-.1 .4 .2 .4 0 .4 .1 .5-.1 .4 .1 .4-.1 .4 0 .4 .1 .4 .2 .5 0 .4 0 .4-.1 .4 0 .4-.1 .5 .1 .4 0 .4-.1 .4 0 .4 0 .4 .1 .5 0 .4 .1 .4 .1 .4-.1 .4 0 .5 .1 .4-.2 .4-.1 .4 .1 .4 0 .4 .1 .5 0 .4 .1 .4-.1 .4-.1 .4-.1 .5 0 .4 .1 .4-.1 .4 0 .4 .1 .4 .2 .5 0 .4 .2 .4 0 .4-.1 .4-.1 .5 0 .4-.2 .4 0 .4 0 .4-.2 .4 0 .5 0 .4 .1 .4 0 .4 .2 .4 .1 .5 0 .4-.1 .4 0 .4 0 .4 0 .4 0 .5 .1 .4 0 .4-.1 .4 0" fill="none" stroke="#f6c6a2" stroke-width="1.3" stroke-linejoin="round"/>
<text x="48.00" y="427.70" font-size="9.3" text-anchor="start" fill="#1a1a1a">1 mM</text>
<path d="M44.2 454.1l.4 .1 .4 0 .5 .1 .4 .2 .4 .2 .4-.1 .4-.1 .4 .1 .5-.1 .4-.1 .4 .1 .4 0 .4-.1 .5 0 .4 0 .4-.1 .4 0 .4 0 .4 0 .5 .1 .4 0 .4-.1 .4-.1 .4-.1 .5 0 .4 0 .4 .2 .4 .1 .4 .1 .4 0 .5 0 .4 0 .4 0 .4 .1 .4-.1 .5 0 .4-.1 .4 .1 .4-.1 .4 .1 .4 0 .5 0 .4 .1 .4 0 .4 .1 .4 0 .5 .1 .4 .1 .4 0 .4-.2 .4-.1 .4 .1 .5-.2 .4 .1 .4 0 .4 0 .4-.1 .5 0 .4-.2 .4 0 .4 0 .4-.1 .4 0 .5 .1 .4 0 .4 0 .4 0 .4 .2 .5 0 .4-.1 .4 .3 .4 0 .4 .1 .4 .1 .5 .1 .4-.2 .4-.1 .4-.1 .4 0 .5-.1 .4 .1 .4-.1 .4-.1 .4 .1 .4 0 .5-.1 .4 .2 .4 .1 .4-.1 .4 0 .5 0 .4-.1 .4 .1 .4-.1 .4 .1 .4 0 .5 .1 .4-.1 .4 .1 .4 0 .4-.1 .5-.1 .4 0 .4-.1 .4 0 .4 0 .4 0 .5 0 .4 0 .4 0 .4 0 .4 0 .5 0 .4 0 .4 0 .4 .1 .4 0 .4 0 .5-.1 .4 0 .4 0 .4 0 .4 .1 .5 0 .4-.1 .4 0 .4-.1 .4 .1 .4 0 .5 .1 .4-.2 .4-.1 .4-.4 .4 .1 .5 .2 .4 .3 .4 .1 .4 .1 .4 0 .4-.1 .5 .2 .4 0 .4-.1 .4 0 .4-.1 .5-.4 .4-.2 .4-.1 .4 0 .4 .3 .4 .3 .5-.1 .4 .1 .4 .1 .4 .1 .4-.1 .5 .1 .4 .1 .4 0 .4-.1 .4 0 .4-.2 .5-.1 .4-.2 .4-.2 .4-.1 .4-.2 .5-.3 .4-.4 .4-.6 .4-.8 .4-1.1 .4-1.3 .5-1.8 .4-2 .4-2.2 .4-2.3 .4-2.4 .5-2.3 .4-2.1 .4-1.9 .4-1.6 .4-1.1 .4-.4 .5 .2 .4 1 .4 1.5 .4 2 .4 2.4 .5 2.4 .4 2.4 .4 2.4 .4 2.1 .4 1.8 .4 1.5 .5 1.5 .4 1.1 .4 .9 .4 .8 .4 .6 .5 .1 .4 .1 .4 .2 .4 .2 .4 .1 .4 .3 .5 .1 .4 0 .4-.1 .4-.1 .4-.1 .5-.1 .4 0 .4 .2 .4 .1 .4 0 .4 0 .5 0 .4-.1 .4-.1 .4 0 .4 0 .5 0 .4 .1 .4 .1 .4 0 .4 0 .4-.2 .5 .1 .4 0 .4 0 .4 .1 .4 0 .5-.1 .4 .1 .4-.1 .4-.3 .4 0 .4 .1 .5-.3 .4 0 .4 .2 .4 .1 .4-.1 .5 0 .4-.1 .4 0 .4 0 .4-.1 .5-.1 .4 0 .4 0 .4-.1 .4 .1 .4 .1 .5 .2 .4 0 .4 .1 .4 .1 .4 .1 .5-.1 .4 .2 .4-.1 .4 0 .4 0 .4 .1 .5-.2 .4 .1 .4 0 .4 .1 .4 0 .5 .1 .4-.1 .4-.1 .4-.2 .4 0 .4-.1 .5 .1 .4 0 .4 .2 .4 0 .4 .2 .5 0 .4-.1 .4-.1 .4 .1 .4-.1 .4 .1 .5 0 .4 .1 .4-.1 .4 0 .4-.1 .5 .2 .4 0 .4 0 .4 0 .4 0 .4 0 .5 .1 .4 0 .4-.1 .4-.1 .4 0 .5-.1 .4 .1 .4 .1 .4 .1 .4 0 .4 0 .5 0 .4-.1 .4 0 .4 0 .4 0 .5 0 .4 .1 .4 0 .4 .1 .4 0 .4 0 .5-.2 .4-.1 .4 0 .4-.1 .4 .1 .5 .2 .4 0 .4 .1 .4-.1 .4-.1 .4-.2 .5 .2 .4 0 .4 .1 .4 .1 .4 .1 .5 0 .4 .1 .4-.1 .4 0 .4 0 .4 0 .5 0 .4-.1 .4-.1 .4-.1 .4 .1 .5 0 .4 0 .4 .1 .4 .1 .4 0 .4-.1 .5-.1 .4-.1 .4-.1 .4-.1 .4 .2 .5 .1 .4 .1 .4 .2 .4 0 .4 0 .4 0 .5 0 .4-.2 .4 .1 .4 0 .4 0 .5 0 .4 0 .4 0 .4 0 .4 0 .4 0 .5 0 .4 0 .4 0 .4 0 .4 0 .5 0 .4 0 .4 .1 .4-.1 .4 0 .4-.3 .5 .1 .4-.1 .4 .2 .4 .1 .4 .2 .5 0 .4-.1 .4-.1 .4 0 .4 0 .4 .1 .5 .2 .4-.1 .4 0 .4 0 .4-.1 .5 0 .4 0 .4 .1 .4-.2 .4 .1 .4 0 .5 .2 .4-.1 .4 0 .4 0 .4 0 .5-.2 .4-.1 .4 .2 .4-.2 .4 .1 .4 .1 .5 .2 .4 0 .4 .2 .4 0 .4-.1 .5-.1 .4 0 .4-.1 .4-.1 .4 0 .4 0 .5 0 .4 0 .4 0 .4 0 .4 0 .5 0 .4-.1 .4 .1 .4 0 .4 0 .4 .1 .5 .1 .4-.1 .4 .1 .4 0 .4 .1 .5-.1 .4 .1 .4 .1 .4-.3 .4-.2 .4-.1 .5-.2 .4-.2 .4 .1 .4 0 .4 .1 .5 .2 .4 .3 .4 .1 .4 .2 .4-.1 .4 0 .5-.1 .4 .1 .4 0 .4 .2 .4 .1 .5 0 .4 0 .4-.1 .4 0 .4 0 .4 .1 .5 .1 .4 .1 .4 0 .4 0 .4-.1 .5 .1 .4 0 .4 .1 .4 0 .4 0 .4-.2 .5 .1 .4 0 .4 0 .4-.1 .4 .1 .5-.2 .4 0 .4-.1 .4-.1 .4-.1 .4-.2 .5-.5 .4-.4 .4-.5 .4-.6 .4-.5 .5-.1 .4 .1 .4 0 .4 .2 .4 .3 .4 .1 .5-.4 .4-.2 .4-.5 .4-.5 .4-.4 .5-.1 .4 0 .4-.1 .4-.1 .4-.2 .4-.2 .5-.5 .4-.5 .4-.3 .4-.3 .4-.1 .5 0 .4 .1 .4 .3 .4 .4 .4 .7 .4 .7 .5 .7 .4 .8 .4 .5 .4 .5 .4 .5 .5 .5 .4 .5 .4 .3 .4 .2 .4 .1 .4 .3 .5 0 .4 .1 .4 0 .4 .1 .4 .1 .5 0 .4 .2 .4 0 .4 .2 .4 0 .4 .1 .5 0 .4 .1 .4 .1 .4-.1 .4 0 .5 0 .4 0 .4-.2 .4 .1 .4 0 .4 0 .5 0 .4 .1 .4 0 .4 0 .4-.1 .5 0 .4 0 .4 .1 .4 .1 .4 0 .4 0 .5 .1 .4-.2 .4-.1 .4 .1 .4 .1 .5 0 .4 .2 .4 0 .4 .1 .4-.2 .4 .1 .5-.1 .4 0 .4-.1 .4 0 .4 0 .5 0 .4-.1 .4 .1 .4 .1 .4 0 .4 .1 .5 .2 .4 0 .4 0 .4-.2 .4-.1 .5-.1 .4 .1 .4-.1 .4 .1 .4 .2 .4 .1 .5-.1 .4-.1 .4 0 .4-.1 .4 0 .5 .1 .4 .1 .4 0 .4 0 .4-.1 .4-.1 .5 0 .4 .2 .4 0 .4 0 .4 0 .5 .1 .4-.1 .4-.1 .4 .1 .4-.1 .4 0 .5 .1 .4 .1 .4 0 .4 0 .4 0 .5 0 .4 0 .4 .1 .4-.1 .4 0 .4 0 .5 0 .4 0 .4 .1 .4 0 .4 .1 .5 0 .4 0 .4 0 .4 0 .4-.1 .4 .1 .5-.2 .4 0 .4-.1 .4-.1 .4 0 .5 .1 .4 .2 .4 .1 .4 0 .4-.1 .4 0 .5-.2 .4 0 .4 .1 .4 0" fill="none" stroke="#bcd4ea" stroke-width="1.3" stroke-linejoin="round"/>
<text x="48.00" y="450.40" font-size="9.3" text-anchor="start" fill="#1a1a1a">500 uM</text>
<path d="M44.2 467.6l.4 .1 .4 .2 .5-.1 .4 0 .4 0 .4 0 .4 .1 .4 .1 .5-.1 .4-.1 .4 0 .4-.1 .4-.2 .5-.1 .4 .1 .4-.1 .4 .1 .4 0 .4 .2 .5 .1 .4 .1 .4-.1 .4-.1 .4 .1 .5-.1 .4 .1 .4 .1 .4 .1 .4-.2 .4-.1 .5-.1 .4 .1 .4 .2 .4 .2 .4 .1 .5 0 .4-.1 .4-.2 .4-.1 .4-.1 .4-.1 .5 .1 .4 0 .4 .1 .4-.1 .4 .1 .5 .1 .4 .1 .4-.2 .4 .1 .4 .2 .4 0 .5 0 .4 0 .4 .1 .4-.2 .4-.2 .5 .1 .4 0 .4 0 .4 .1 .4-.1 .4-.1 .5-.1 .4 .2 .4 0 .4 0 .4 .2 .5 0 .4 0 .4-.1 .4 0 .4 0 .4 0 .5-.1 .4-.1 .4 .1 .4 0 .4 0 .5 .1 .4 0 .4 .1 .4-.1 .4-.1 .4 0 .5 .1 .4-.1 .4 0 .4 0 .4 .1 .5 0 .4 0 .4 0 .4 0 .4 0 .4 0 .5 .1 .4 0 .4 .1 .4-.1 .4 .1 .5-.1 .4 0 .4 0 .4 .2 .4-.1 .4 0 .5 0 .4-.1 .4-.2 .4-.1 .4 0 .5 0 .4 .1 .4 .2 .4 .1 .4-.1 .4 .1 .5 0 .4-.1 .4-.1 .4 .1 .4-.2 .5 0 .4 .1 .4 0 .4-.1 .4 .2 .4-.2 .5-.1 .4-.2 .4-.1 .4-.2 .4 .2 .5 .2 .4 .3 .4 0 .4-.1 .4 .1 .4 .1 .5-.2 .4-.1 .4 0 .4 0 .4-.3 .5 0 .4 .1 .4-.1 .4 0 .4 .3 .4 .1 .5 .1 .4 0 .4 0 .4-.1 .4 0 .5 0 .4 0 .4 0 .4 0 .4 .1 .4-.1 .5-.1 .4-.2 .4-.1 .4-.2 .4-.1 .5 0 .4-.1 .4-.3 .4-.6 .4-.8 .4-.9 .5-1.1 .4-1.3 .4-1.3 .4-1.4 .4-1.3 .5-1.5 .4-1.1 .4-.9 .4-.8 .4-.4 .4 .2 .5 .4 .4 .7 .4 1.1 .4 1.3 .4 1.4 .5 1.2 .4 1.4 .4 1.3 .4 1 .4 .9 .4 1 .5 .6 .4 .5 .4 .5 .4 .5 .4 0 .5 .2 .4 .1 .4-.2 .4 .1 .4 .2 .4-.1 .5 .1 .4 .2 .4 0 .4-.2 .4 .1 .5-.1 .4-.1 .4-.1 .4 .2 .4 0 .4 .2 .5 .1 .4 .1 .4-.1 .4-.1 .4-.1 .5 .1 .4-.2 .4 .1 .4 0 .4 .1 .4 0 .5 .1 .4-.1 .4 .1 .4-.1 .4-.1 .5 0 .4 0 .4 0 .4-.1 .4 .1 .4-.1 .5 .2 .4 0 .4 .1 .4-.1 .4 0 .5-.2 .4-.1 .4-.2 .4 .1 .4 .1 .5-.1 .4 0 .4 .1 .4 0 .4 0 .4 0 .5 0 .4 .1 .4 0 .4-.1 .4 .1 .5 0 .4-.1 .4-.1 .4 0 .4-.1 .4 .1 .5 .1 .4 .3 .4 0 .4 .2 .4 .1 .5 0 .4-.1 .4 0 .4 0 .4-.3 .4 0 .5 .1 .4 .2 .4-.1 .4 .2 .4-.1 .5-.1 .4-.1 .4-.1 .4 .1 .4 0 .4 .2 .5-.1 .4 .1 .4-.1 .4-.1 .4 0 .5 .1 .4 0 .4 0 .4 0 .4 0 .4 .1 .5 0 .4 0 .4 0 .4-.1 .4-.1 .5 .1 .4 0 .4 0 .4 .1 .4-.1 .4 .1 .5-.1 .4 .1 .4 0 .4 0 .4-.1 .5 0 .4-.1 .4 .1 .4 0 .4 0 .4 0 .5 0 .4 0 .4 0 .4-.1 .4 0 .5 .1 .4 0 .4 .1 .4 .2 .4 0 .4 0 .5-.2 .4 0 .4 0 .4 0 .4-.1 .5 .2 .4 0 .4 .1 .4 .1 .4 0 .4-.1 .5-.1 .4 0 .4-.1 .4 .1 .4 .1 .5 0 .4 0 .4 .1 .4-.1 .4-.1 .4 .1 .5-.2 .4-.1 .4 .1 .4 .1 .4-.1 .5 .1 .4 0 .4 0 .4 0 .4 .1 .4 0 .5-.1 .4 0 .4 .1 .4 0 .4 .1 .5 0 .4 0 .4 0 .4-.1 .4-.1 .4 .2 .5-.1 .4-.1 .4 .1 .4 .2 .4-.1 .5-.1 .4 0 .4-.1 .4-.1 .4-.1 .4 .3 .5-.1 .4 .2 .4 0 .4 0 .4-.1 .5 .1 .4-.1 .4 .1 .4 0 .4 0 .4 0 .5 .1 .4-.1 .4 0 .4 .1 .4 0 .5 0 .4-.1 .4-.1 .4 .1 .4-.1 .4 .1 .5 .1 .4-.1 .4 0 .4 .1 .4 .1 .5-.1 .4 .2 .4 0 .4 0 .4-.2 .4 .1 .5-.2 .4 0 .4-.2 .4 0 .4 0 .5-.1 .4 0 .4 .2 .4 0 .4 .1 .4 .1 .5 0 .4 .1 .4 0 .4 .1 .4 0 .5 0 .4 0 .4 .1 .4 .1 .4-.1 .4-.1 .5-.1 .4-.2 .4 0 .4 0 .4 0 .5 0 .4 .1 .4-.1 .4 .1 .4 0 .4-.1 .5-.2 .4 0 .4-.3 .4 0 .4-.1 .5 .2 .4 .2 .4 .1 .4 .1 .4 .1 .4 0 .5-.1 .4 .1 .4 0 .4-.1 .4 0 .5-.1 .4 0 .4 .1 .4 0 .4-.1 .4 0 .5 .1 .4-.1 .4 0 .4 .2 .4 .1 .5-.1 .4 .1 .4 .1 .4-.1 .4-.2 .4 .1 .5-.1 .4 0 .4-.1 .4 .2 .4 .1 .5 0 .4-.1 .4 0 .4-.3 .4-.3 .4-.1 .5-.3 .4-.2 .4-.3 .4-.3 .4-.4 .5-.1 .4-.3 .4 .1 .4 0 .4 .3 .4-.2 .5 0 .4-.1 .4-.3 .4-.3 .4-.1 .5-.1 .4-.1 .4 0 .4-.2 .4-.1 .4-.2 .5-.2 .4-.4 .4-.2 .4-.3 .4 0 .5-.1 .4 .2 .4 .3 .4 .2 .4 .2 .4 .3 .5 .4 .4 .4 .4 .6 .4 .6 .4 .3 .5 .3 .4 .3 .4 .2 .4 .2 .4 .1 .4 .2 .5 .1 .4 .1 .4-.1 .4 .1 .4-.1 .5 .1 .4 0 .4 .1 .4-.1 .4 0 .4-.3 .5 0 .4 0 .4-.1 .4 0 .4 .3 .5 0 .4-.1 .4 .2 .4 0 .4-.1 .4 .1 .5 0 .4-.2 .4 .2 .4 .1 .4 0 .5 .1 .4 0 .4-.2 .4-.1 .4 .1 .4-.1 .5 0 .4 .1 .4 0 .4 .1 .4 0 .5 .1 .4 0 .4-.1 .4-.1 .4 0 .4 0 .5 0 .4 .1 .4 .1 .4-.1 .4 0 .5 .1 .4 0 .4 0 .4 0 .4-.1 .4-.1 .5 .1 .4 0 .4 .2 .4 .1 .4 .1 .5-.1 .4-.1 .4-.2 .4 0 .4 0 .4 .1 .5 0 .4-.1 .4 0 .4-.2 .4 .1 .5 .1 .4 0 .4 .1 .4 0 .4 .1 .4 0 .5 0 .4-.1 .4 .2 .4-.1 .4-.1 .5 0 .4 0 .4 0 .4-.1 .4 .1 .4 0 .5 .2 .4 0 .4 0 .4 0 .4 0 .5-.3 .4 .1 .4-.1 .4 0 .4 .2 .4-.1 .5 .1 .4 0 .4-.1 .4 .1 .4 .1 .5-.1 .4 .1 .4 0 .4 0 .4-.1 .4 0 .5 0 .4 .1 .4 0 .4 0 .4-.1 .5 0 .4-.1 .4 0 .4 .2 .4 .1 .4 0 .5-.1 .4 0 .4-.1 .4 .1" fill="none" stroke="#a9c9e9" stroke-width="1.3" stroke-linejoin="round"/>
<text x="48.00" y="464.50" font-size="9.3" text-anchor="start" fill="#1a1a1a">100 μM</text>
<path d="M44.2 482.2l.4-.1 .4-.1 .5 0 .4 .1 .4-.1 .4-.1 .4 0 .4-.2 .5 0 .4 .1 .4-.1 .4 .1 .4 .1 .5 .1 .4-.2 .4 .2 .4 0 .4 0 .4-.1 .5 .1 .4 .1 .4-.2 .4 0 .4 0 .5 0 .4-.1 .4 .2 .4 0 .4 .2 .4-.1 .5 .1 .4 0 .4 0 .4-.1 .4 .2 .5-.1 .4-.1 .4 0 .4 0 .4 0 .4 0 .5 .2 .4-.1 .4 .1 .4 0 .4 0 .5-.1 .4 .1 .4 0 .4 0 .4-.1 .4 0 .5 0 .4-.1 .4 0 .4 .1 .4 0 .5 0 .4 0 .4 .1 .4-.1 .4-.1 .4 .1 .5 0 .4-.1 .4-.2 .4 .1 .4 0 .5-.1 .4 .1 .4 .3 .4 0 .4 .1 .4 0 .5-.1 .4-.2 .4-.1 .4 0 .4 .1 .5 0 .4-.1 .4 .2 .4 0 .4 0 .4 0 .5 .2 .4-.1 .4-.2 .4 .1 .4 .1 .5 0 .4 0 .4 .3 .4-.2 .4-.1 .4 .1 .5 .1 .4-.2 .4 .1 .4 0 .4-.1 .5 0 .4 0 .4 0 .4 0 .4 .1 .4-.2 .5 .1 .4 0 .4 0 .4 .1 .4 .1 .5-.1 .4-.1 .4 0 .4 0 .4-.1 .4 0 .5 0 .4-.1 .4 0 .4 .2 .4 0 .5 .1 .4-.1 .4 0 .4 0 .4 0 .4 0 .5-.1 .4-.1 .4-.1 .4-.1 .4 0 .5 .2 .4 .2 .4 .1 .4-.1 .4 .2 .4 0 .5 0 .4-.1 .4 0 .4-.2 .4-.2 .5-.2 .4-.2 .4 0 .4 .2 .4 .2 .4 .2 .5 .2 .4-.1 .4 0 .4-.1 .4 0 .5 0 .4 0 .4 0 .4 .1 .4 0 .4-.1 .5 0 .4-.1 .4 0 .4 0 .4-.1 .5-.2 .4-.4 .4-.6 .4-.6 .4-.7 .4-.7 .5-.8 .4-.9 .4-1.2 .4-1.1 .4-1.3 .5-1.3 .4-1.1 .4-.7 .4-.6 .4-.1 .4 0 .5 .4 .4 .6 .4 .8 .4 1 .4 1.4 .5 1.2 .4 1.1 .4 1.1 .4 1 .4 .8 .4 .8 .5 .6 .4 .4 .4 .3 .4 .3 .4 .2 .5 .3 .4 .2 .4 .1 .4 .1 .4-.2 .4 0 .5 0 .4 .1 .4-.1 .4 .2 .4 .1 .5 0 .4-.2 .4 .1 .4-.2 .4 .1 .4 0 .5 .2 .4 0 .4-.1 .4 0 .4-.1 .5-.2 .4 0 .4 .2 .4-.1 .4 .1 .4-.1 .5 .1 .4-.1 .4 0 .4 0 .4 .1 .5-.1 .4 .2 .4 0 .4-.1 .4 .1 .4 0 .5-.1 .4 0 .4-.2 .4-.3 .4-.1 .5 0 .4-.1 .4 .1 .4 .1 .4 .1 .5 0 .4 0 .4 .1 .4 0 .4 0 .4 .1 .5 .2 .4-.1 .4 0 .4-.1 .4-.1 .5-.1 .4 .3 .4 .2 .4 0 .4 0 .4-.2 .5-.1 .4 0 .4 .1 .4 .2 .4 .1 .5 0 .4 0 .4 .1 .4-.2 .4 0 .4 0 .5 0 .4 0 .4 .1 .4-.1 .4-.1 .5 0 .4-.1 .4 .2 .4 0 .4 0 .4 .1 .5-.1 .4-.2 .4 0 .4 0 .4-.1 .5 .1 .4 .1 .4 0 .4 0 .4-.1 .4 .2 .5-.1 .4 .1 .4 0 .4 .1 .4 0 .5 0 .4 0 .4 0 .4 0 .4 0 .4 .2 .5 0 .4 0 .4 .1 .4-.1 .4 0 .5-.2 .4-.1 .4-.3 .4 .1 .4 0 .4 0 .5 0 .4 .2 .4-.1 .4 0 .4 .1 .5 .2 .4 .1 .4 0 .4 .1 .4 .1 .4-.2 .5-.1 .4 .1 .4-.1 .4 0 .4 0 .5-.1 .4 0 .4 0 .4 0 .4 0 .4 0 .5-.1 .4 0 .4 0 .4 .1 .4 0 .5 .1 .4 0 .4 0 .4 0 .4 .1 .4 0 .5 0 .4 0 .4 .1 .4-.1 .4-.1 .5 0 .4 0 .4-.2 .4 0 .4 0 .4 .1 .5 .1 .4 .2 .4 .1 .4 0 .4-.1 .5-.2 .4 0 .4-.2 .4 .1 .4 0 .4 .2 .5-.1 .4 .1 .4 0 .4-.1 .4 0 .5 .1 .4 0 .4-.1 .4 .2 .4 0 .4 .1 .5 .1 .4 0 .4 0 .4-.1 .4 .1 .5 0 .4 0 .4-.1 .4 0 .4-.1 .4 0 .5-.2 .4 .1 .4 .1 .4 0 .4 0 .5 .1 .4 .1 .4-.1 .4 0 .4-.1 .4-.1 .5-.2 .4 .1 .4-.1 .4 .2 .4-.1 .5 0 .4 0 .4 0 .4 .1 .4 .2 .4 .1 .5-.1 .4-.1 .4 0 .4-.1 .4 .1 .5 .2 .4 .1 .4-.2 .4 .1 .4-.1 .4 0 .5-.1 .4 .1 .4-.1 .4 0 .4 .1 .5 0 .4-.1 .4-.1 .4 .1 .4-.1 .4-.1 .5 .2 .4 0 .4 0 .4 .1 .4 .1 .5 0 .4 .1 .4-.1 .4-.2 .4 0 .4 0 .5-.2 .4-.1 .4 .1 .4-.1 .4-.1 .5 .1 .4 .1 .4 0 .4 0 .4 .1 .4 .1 .5 .1 .4 0 .4 0 .4 0 .4-.1 .5 0 .4-.1 .4 .2 .4 0 .4-.1 .4-.1 .5 .1 .4-.2 .4 .1 .4 .1 .4 0 .5 0 .4 .1 .4 0 .4 0 .4-.1 .4 .1 .5-.2 .4 .1 .4 .1 .4 .2 .4-.2 .5 .2 .4-.2 .4-.1 .4-.2 .4-.1 .4-.2 .5-.1 .4-.2 .4-.2 .4-.4 .4-.2 .5-.1 .4 0 .4 0 .4 .1 .4 0 .4 0 .5-.2 .4-.2 .4-.2 .4-.2 .4-.1 .5 0 .4-.1 .4 0 .4-.1 .4-.3 .4-.2 .5-.2 .4-.4 .4-.3 .4 0 .4-.1 .5 0 .4 0 .4 .1 .4 .3 .4 .2 .4 .5 .5 .4 .4 .5 .4 .3 .4 .3 .4 .3 .5 .3 .4 .2 .4 .2 .4 .2 .4 .3 .4 0 .5 .1 .4 .1 .4 0 .4 0 .4 0 .5 0 .4 .1 .4-.1 .4-.1 .4 .1 .4 .1 .5-.1 .4 .1 .4 .2 .4-.1 .4-.1 .5 .2 .4 0 .4 0 .4-.1 .4 0 .4 0 .5 0 .4-.1 .4 .1 .4 0 .4-.1 .5 .1 .4 0 .4 .1 .4 0 .4-.1 .4 0 .5-.1 .4 0 .4 .1 .4 .1 .4-.1 .5 .1 .4-.1 .4 .1 .4 .1 .4 .1 .4-.1 .5 .1 .4-.2 .4-.1 .4 0 .4 .1 .5 0 .4 .1 .4 .1 .4 0 .4-.1 .4-.1 .5 0 .4 0 .4 .1 .4 0 .4 0 .5 .1 .4-.1 .4 0 .4 0 .4 .1 .4-.1 .5 .1 .4-.1 .4 0 .4 .1 .4 0 .5 .1 .4 .1 .4 .1 .4-.1 .4-.1 .4-.3 .5 0 .4-.2 .4 0 .4 .1 .4 .2 .5-.1 .4 .1 .4 .2 .4 .1 .4 0 .4 0 .5-.1 .4 0 .4-.2 .4-.1 .4 0 .5 .2 .4-.1 .4 .1 .4 .1 .4 .1 .4-.2 .5-.1 .4 0 .4 0 .4-.1 .4 .1 .5 .3 .4 0 .4 0 .4-.1 .4 0 .4-.2 .5 0 .4 .1 .4 0 .4-.1 .4-.1 .5 .1 .4-.1 .4 .2 .4 .1 .4 .2 .4 .1 .5 0 .4-.1 .4 0 .4 0" fill="none" stroke="#98bfe9" stroke-width="1.3" stroke-linejoin="round"/>
<text x="48.00" y="478.40" font-size="9.3" text-anchor="start" fill="#1a1a1a">50 μM</text>
<path d="M44.2 492.9l.4 .1 .4 0 .5 0 .4 0 .4 0 .4 0 .4 0 .4 .1 .5-.1 .4 .1 .4-.1 .4 0 .4 0 .5 .2 .4-.1 .4 .1 .4-.1 .4 0 .4-.1 .5 0 .4 .1 .4 0 .4 0 .4 .1 .5 0 .4-.1 .4 .1 .4 0 .4-.2 .4 0 .5 0 .4 .1 .4 0 .4 .1 .4-.1 .5 0 .4-.1 .4-.1 .4 0 .4 .1 .4 .1 .5 0 .4 .1 .4-.1 .4 0 .4-.2 .5 .1 .4-.1 .4 0 .4-.1 .4 .2 .4 .1 .5 .1 .4 .1 .4 0 .4-.1 .4 .1 .5 0 .4 0 .4 .1 .4 0 .4-.1 .4-.1 .5 0 .4 0 .4 0 .4-.1 .4 .1 .5 0 .4 .1 .4 0 .4 0 .4 0 .4 0 .5 0 .4 0 .4 .1 .4 .1 .4 0 .5-.1 .4 .1 .4 0 .4-.1 .4 0 .4 0 .5-.2 .4 0 .4 0 .4 .1 .4-.1 .5 .1 .4 .1 .4 0 .4-.1 .4 .1 .4 .1 .5-.1 .4 0 .4-.1 .4 0 .4 0 .5-.1 .4 0 .4 .1 .4-.2 .4 0 .4-.1 .5 .1 .4-.2 .4 .1 .4 .1 .4 .1 .5 .1 .4 .1 .4 .1 .4-.1 .4 .2 .4-.1 .5-.2 .4 0 .4-.1 .4 0 .4-.1 .5 .1 .4 0 .4 0 .4 .1 .4-.1 .4-.1 .5-.1 .4 0 .4-.3 .4 0 .4 .1 .5 .2 .4 .2 .4 .1 .4 .1 .4 .1 .4 0 .5-.2 .4-.1 .4 0 .4-.2 .4 0 .5-.1 .4 0 .4-.1 .4 .1 .4 0 .4 .2 .5 .1 .4 .1 .4 .1 .4 .1 .4 0 .5-.1 .4-.1 .4 0 .4 0 .4 .1 .4 0 .5 0 .4-.1 .4 0 .4-.3 .4-.1 .5-.4 .4-.3 .4-.3 .4-.5 .4-.6 .4-.5 .5-.7 .4-1.2 .4-1 .4-1.2 .4-1.1 .5-1 .4-.9 .4-.7 .4-.5 .4-.1 .4 0 .5 .4 .4 .5 .4 .8 .4 1 .4 1 .5 1.3 .4 1.1 .4 1.1 .4 .8 .4 .8 .4 .5 .5 .6 .4 .3 .4 .3 .4 .2 .4 .1 .5 .2 .4 .2 .4 .1 .4 .1 .4 .1 .4-.1 .5 0 .4 0 .4-.1 .4 0 .4 0 .5 0 .4 .2 .4 0 .4-.1 .4 .1 .4 .2 .5-.2 .4-.1 .4 .1 .4 0 .4-.2 .5 .1 .4 .1 .4-.1 .4 0 .4 .1 .4 0 .5-.2 .4 0 .4-.2 .4 .2 .4 0 .5 .2 .4 0 .4 0 .4-.2 .4 0 .4-.1 .5-.1 .4 .1 .4 0 .4-.1 .4 0 .5 0 .4-.2 .4 0 .4 .2 .4 0 .5 0 .4 .1 .4 .1 .4-.1 .4 0 .4 0 .5 0 .4 0 .4 0 .4 0 .4 .1 .5 .1 .4 .1 .4 .1 .4 0 .4 0 .4-.3 .5-.2 .4-.1 .4 0 .4 .1 .4 .1 .5 .1 .4 0 .4-.1 .4 0 .4 .2 .4 0 .5 0 .4 .2 .4-.1 .4-.1 .4 0 .5 .1 .4-.1 .4-.1 .4 .1 .4 0 .4 0 .5 0 .4 .1 .4-.1 .4 0 .4 0 .5-.1 .4 0 .4 0 .4 0 .4 0 .4 .1 .5 0 .4 .2 .4-.1 .4 0 .4 0 .5 0 .4 0 .4 .1 .4 0 .4 0 .4 .1 .5-.1 .4 0 .4 0 .4-.1 .4 0 .5-.1 .4 0 .4 .1 .4-.2 .4 .2 .4 .1 .5 .1 .4 0 .4 .1 .4-.1 .4-.1 .5-.1 .4 0 .4-.1 .4 .1 .4 .1 .4 .1 .5-.1 .4 0 .4 0 .4 0 .4-.2 .5 .1 .4 .2 .4-.1 .4 0 .4 .1 .4 0 .5-.2 .4 .1 .4 0 .4 0 .4 .2 .5 0 .4-.1 .4 0 .4 0 .4-.2 .4 0 .5 .2 .4 0 .4 0 .4 .1 .4 0 .5 0 .4-.1 .4 0 .4-.2 .4 .1 .4 0 .5 .1 .4 .1 .4 .1 .4 0 .4 0 .5-.2 .4-.1 .4 .2 .4 .1 .4 0 .4 .2 .5-.1 .4 0 .4-.1 .4-.2 .4 .2 .5 .1 .4 0 .4 0 .4 .1 .4-.2 .4-.1 .5 0 .4 0 .4-.1 .4 .2 .4 0 .5 0 .4 .2 .4 0 .4-.1 .4 0 .4 0 .5-.1 .4 0 .4-.2 .4 .1 .4-.1 .5 0 .4 0 .4 0 .4 0 .4 0 .4 .1 .5 0 .4 .1 .4 .1 .4-.1 .4-.1 .5 .1 .4 0 .4-.1 .4 .1 .4 .1 .4-.1 .5 0 .4 0 .4 0 .4-.1 .4 0 .5 .1 .4-.1 .4 0 .4 .1 .4 0 .4-.1 .5 .1 .4-.1 .4-.1 .4 .1 .4 .1 .5-.1 .4 .1 .4 0 .4 .1 .4 0 .4 0 .5 0 .4 0 .4 0 .4-.1 .4 .1 .5-.1 .4 0 .4 0 .4-.1 .4-.2 .4 0 .5 0 .4-.2 .4 0 .4 .1 .4 .1 .5 .1 .4 .1 .4 0 .4 .1 .4 0 .4 0 .5-.1 .4 .1 .4-.2 .4-.1 .4 .1 .5 .1 .4 0 .4 .2 .4 0 .4 0 .4 0 .5-.1 .4-.1 .4 .1 .4 0 .4-.1 .5 .1 .4 0 .4-.1 .4-.1 .4-.1 .4 0 .5 0 .4 0 .4-.1 .4 .2 .4 0 .5 0 .4 .1 .4-.1 .4 0 .4-.1 .4-.2 .5-.3 .4-.1 .4-.5 .4-.3 .4-.3 .5-.1 .4-.2 .4 .2 .4 .1 .4 0 .4 0 .5 0 .4-.2 .4-.3 .4-.1 .4-.1 .5-.1 .4-.1 .4 .1 .4-.1 .4-.2 .4-.3 .5-.1 .4-.3 .4-.2 .4-.1 .4-.1 .5-.2 .4 .1 .4 .1 .4 .2 .4 .4 .4 .4 .5 .3 .4 .4 .4 .3 .4 .3 .4 .5 .5 .3 .4 .3 .4 .1 .4 .2 .4 0 .4-.1 .5 .1 .4 .1 .4 0 .4 0 .4 .1 .5 0 .4 0 .4 .2 .4 .1 .4 0 .4 0 .5 0 .4 0 .4 0 .4 0 .4-.1 .5-.1 .4 0 .4-.1 .4 0 .4 .1 .4 0 .5 .1 .4-.1 .4-.1 .4 .1 .4 0 .5 0 .4 .1 .4 .1 .4-.1 .4 .2 .4-.1 .5 0 .4 0 .4 .1 .4-.1 .4 .1 .5 0 .4 0 .4 0 .4 .1 .4 .1 .4 .1 .5 0 .4 0 .4 0 .4-.2 .4 0 .5-.1 .4 0 .4-.1 .4 0 .4-.1 .4-.1 .5 0 .4 .1 .4 .2 .4 .2 .4 .2 .5 0 .4-.2 .4 0 .4-.1 .4-.1 .4-.1 .5 0 .4 0 .4-.1 .4 .1 .4 .1 .5 .1 .4 0 .4 0 .4 .1 .4 0 .4 0 .5 0 .4 .1 .4-.1 .4-.2 .4-.1 .5 0 .4 0 .4 0 .4 .1 .4-.1 .4-.2 .5 .1 .4-.2 .4 .1 .4 0 .4 .1 .5 0 .4 .2 .4 0 .4 .1 .4 .1 .4 0 .5-.1 .4 0 .4 0 .4 0 .4-.1 .5-.1 .4 0 .4 .1 .4 .1 .4-.1 .4 .1 .5 .1 .4 0 .4 0 .4 .1 .4 0 .5 0 .4-.1 .4 .1 .4 0 .4 0 .4-.1 .5 .1 .4-.3 .4 0 .4 .1" fill="none" stroke="#84b4ea" stroke-width="1.3" stroke-linejoin="round"/>
<text x="48.00" y="490.00" font-size="9.3" text-anchor="start" fill="#1a1a1a">10 μM</text>
<path d="M44.2 502.0l.4 0 .4 0 .5 0 .4 .1 .4-.1 .4 0 .4-.1 .4-.1 .5-.2 .4 .1 .4 0 .4 0 .4 .1 .5 .1 .4 .1 .4 .1 .4 .1 .4 .2 .4 0 .5 0 .4-.2 .4-.2 .4 0 .4 .1 .5 .1 .4 .1 .4 .2 .4-.3 .4-.2 .4-.1 .5 .1 .4-.1 .4 .2 .4 .1 .4 .1 .5-.1 .4 0 .4-.2 .4 0 .4 .1 .4 0 .5 0 .4 .1 .4-.1 .4 0 .4 0 .5 0 .4 .1 .4 .1 .4-.1 .4 .1 .4 .1 .5 0 .4 0 .4 .1 .4 0 .4-.2 .5 0 .4-.1 .4 0 .4-.1 .4 .1 .4 .1 .5 .1 .4 0 .4 0 .4 0 .4-.2 .5-.2 .4 0 .4 .1 .4 0 .4 .1 .4 .2 .5 0 .4-.1 .4 .1 .4 0 .4 0 .5-.1 .4 0 .4-.2 .4 0 .4-.1 .4 .1 .5 .1 .4 0 .4-.1 .4 .2 .4 .1 .5-.1 .4 .1 .4 0 .4-.1 .4-.1 .4 .1 .5 0 .4-.1 .4 0 .4 .2 .4 0 .5-.1 .4 .1 .4-.1 .4-.1 .4 0 .4 .2 .5 0 .4-.1 .4 0 .4 0 .4 0 .5 0 .4 0 .4-.2 .4 0 .4 0 .4 0 .5 0 .4 .2 .4-.1 .4 .2 .4 0 .5-.1 .4 .1 .4 .1 .4-.2 .4 0 .4 .1 .5-.1 .4 .1 .4-.1 .4-.2 .4 0 .5 0 .4-.2 .4 .1 .4 .3 .4-.1 .4 0 .5 .1 .4 0 .4 0 .4 0 .4-.1 .5 .1 .4-.1 .4-.3 .4 .1 .4 .2 .4 0 .5 0 .4 .2 .4 0 .4 0 .4-.2 .5 0 .4 0 .4 .2 .4-.2 .4 .3 .4 0 .5-.1 .4-.1 .4 0 .4 0 .4-.1 .5-.2 .4-.2 .4-.3 .4-.5 .4-.6 .4-.5 .5-.8 .4-.6 .4-.8 .4-.8 .4-.8 .5-.9 .4-.7 .4-.6 .4-.4 .4-.4 .4 .1 .5 .1 .4 .6 .4 .7 .4 .8 .4 1 .5 .9 .4 .9 .4 .7 .4 .8 .4 .6 .4 .4 .5 .4 .4 .4 .4 .2 .4 .2 .4 .3 .5 .1 .4 0 .4 0 .4 0 .4 0 .4 .1 .5 0 .4 0 .4 0 .4-.1 .4 0 .5 0 .4 .1 .4 0 .4 0 .4-.1 .4 0 .5-.1 .4 0 .4 0 .4 0 .4 0 .5 0 .4 .2 .4 0 .4 0 .4 0 .4 .1 .5-.2 .4 0 .4 .1 .4 0 .4 0 .5 0 .4 .1 .4-.1 .4-.1 .4-.2 .4 .1 .5-.1 .4-.1 .4 .1 .4 0 .4 .1 .5-.1 .4-.1 .4 0 .4 0 .4 0 .5-.1 .4 .2 .4 .1 .4-.2 .4 .1 .4 .1 .5-.1 .4-.1 .4 .2 .4-.1 .4 0 .5-.1 .4 .1 .4 0 .4 .1 .4-.1 .4 .2 .5-.1 .4 0 .4 0 .4 .2 .4 .1 .5 .1 .4-.2 .4 .1 .4 0 .4-.1 .4 0 .5 .2 .4-.1 .4 0 .4 0 .4-.1 .5-.1 .4 0 .4 0 .4 .1 .4-.1 .4 0 .5 0 .4 .1 .4-.1 .4 0 .4 0 .5 0 .4-.1 .4 .2 .4 .1 .4 0 .4-.1 .5 0 .4-.1 .4 0 .4 .1 .4 0 .5 0 .4 0 .4-.1 .4 .1 .4 0 .4 0 .5 .1 .4 .2 .4 0 .4 .1 .4 0 .5 0 .4-.1 .4-.1 .4-.1 .4 0 .4-.1 .5 0 .4 .1 .4 0 .4 0 .4-.1 .5 0 .4-.1 .4 .1 .4-.1 .4 .2 .4 0 .5 0 .4-.1 .4 .1 .4 0 .4 0 .5 .1 .4 .1 .4 .1 .4-.2 .4 .1 .4-.1 .5 .1 .4-.1 .4 .2 .4 .1 .4 0 .5-.1 .4 .1 .4 0 .4-.2 .4 0 .4-.1 .5-.1 .4-.2 .4 0 .4-.1 .4 0 .5 .1 .4 0 .4 .1 .4 .2 .4 .1 .4 0 .5-.1 .4 0 .4 0 .4 0 .4 0 .5 0 .4 0 .4 .2 .4-.1 .4 .1 .4 .1 .5-.1 .4 0 .4-.1 .4 0 .4 0 .5-.1 .4-.1 .4 0 .4 0 .4 0 .4 .2 .5 .1 .4-.1 .4 0 .4 .1 .4-.1 .5 0 .4 .1 .4-.1 .4-.1 .4 .1 .4 0 .5-.1 .4 .2 .4 0 .4 0 .4-.1 .5 .2 .4-.1 .4 .1 .4 0 .4 0 .4 0 .5-.1 .4-.1 .4 0 .4 .1 .4-.3 .5 .2 .4 .1 .4 0 .4-.1 .4 .2 .4-.1 .5-.1 .4 0 .4 .1 .4 0 .4-.1 .5 .1 .4 .1 .4 0 .4 .1 .4 0 .4 .1 .5-.1 .4-.1 .4-.1 .4-.1 .4 0 .5 .1 .4 .1 .4 0 .4 .1 .4 0 .4 0 .5 0 .4 0 .4-.1 .4-.2 .4-.1 .5-.1 .4 0 .4 .1 .4 .1 .4 0 .4 .1 .5-.2 .4 0 .4-.2 .4 0 .4 0 .5 .3 .4 0 .4 .1 .4 .1 .4 0 .4-.1 .5 0 .4 0 .4-.2 .4 .2 .4-.1 .5 0 .4 .2 .4 0 .4-.2 .4 .1 .4 0 .5-.2 .4 0 .4 0 .4-.1 .4 0 .5 .1 .4 0 .4 0 .4 .1 .4-.1 .4 0 .5 .1 .4 0 .4 0 .4-.1 .4 0 .5 0 .4 0 .4-.1 .4 .1 .4 0 .4-.3 .5-.2 .4-.2 .4-.3 .4-.1 .4-.2 .5 0 .4-.1 .4-.1 .4 .1 .4-.1 .4 .1 .5-.1 .4 0 .4-.3 .4 0 .4-.2 .5-.1 .4 0 .4 0 .4-.1 .4-.1 .4-.2 .5-.1 .4-.3 .4-.1 .4-.2 .4-.1 .5 0 .4 0 .4 .3 .4 .1 .4 .1 .4 .1 .5 .5 .4 .1 .4 .5 .4 .3 .4 .4 .5 0 .4 .2 .4 0 .4 0 .4 .2 .4 .2 .5 0 .4 0 .4 .1 .4-.2 .4 0 .5 0 .4 .1 .4 0 .4 .1 .4 .1 .4 0 .5 0 .4 0 .4-.1 .4 0 .4 0 .5 .1 .4-.1 .4-.1 .4 0 .4-.1 .4 .1 .5 .1 .4 0 .4 0 .4 0 .4-.1 .5 0 .4 .1 .4 0 .4 .1 .4 .1 .4 .1 .5-.1 .4 0 .4-.2 .4 .1 .4 0 .5 0 .4-.1 .4 .1 .4-.1 .4 .1 .4 .1 .5 0 .4 0 .4 0 .4-.3 .4-.2 .5 0 .4 0 .4 .1 .4 .2 .4 0 .4 .1 .5-.1 .4-.2 .4 .1 .4-.1 .4 .1 .5 .2 .4 0 .4-.1 .4 0 .4 0 .4 0 .5 .1 .4 .1 .4 .2 .4 0 .4 0 .5-.2 .4 .1 .4 0 .4-.1 .4 0 .4 .1 .5-.1 .4 0 .4-.1 .4 0 .4 0 .5-.1 .4 0 .4 .1 .4 .1 .4 .1 .4 0 .5 0 .4 0 .4-.1 .4-.1 .4 0 .5-.1 .4 .1 .4 0 .4-.1 .4 0 .4 .1 .5 0 .4 0 .4 .1 .4-.2 .4 0 .5 0 .4 .1 .4 0 .4 .1 .4 .3 .4-.1 .5-.1 .4 0 .4 0 .4-.2 .4 0 .5 0 .4-.1 .4-.1 .4 0 .4-.1 .4 .1 .5 .1 .4 .1 .4 .1 .4 .3" fill="none" stroke="#6ea8ee" stroke-width="1.3" stroke-linejoin="round"/>
<text x="48.00" y="500.70" font-size="9.3" text-anchor="start" fill="#1a1a1a">1 μM</text>
<path d="M44.2 511.8l.4 .1 .4-.1 .5 .1 .4 .1 .4 .1 .4-.2 .4 .1 .4-.1 .5 0 .4 0 .4 .1 .4 0 .4 .1 .5 0 .4-.1 .4 0 .4-.1 .4-.1 .4 0 .5-.1 .4-.1 .4 .1 .4 0 .4 0 .5 0 .4 .1 .4 0 .4-.1 .4 0 .4 0 .5 0 .4 .1 .4 .1 .4 .2 .4 0 .5-.1 .4-.1 .4 0 .4-.1 .4 .1 .4 0 .5 .1 .4 0 .4 0 .4 0 .4 .1 .5-.1 .4 0 .4 0 .4 0 .4 0 .4 .1 .5 .1 .4-.2 .4-.1 .4 0 .4-.3 .5 0 .4 .1 .4 .1 .4-.1 .4 .2 .4 0 .5 .1 .4-.1 .4 .1 .4 0 .4 0 .5 0 .4 .2 .4 0 .4 0 .4-.1 .4 0 .5-.2 .4 0 .4 .2 .4 .1 .4-.1 .5 .1 .4 0 .4-.2 .4 .1 .4 0 .4 0 .5 0 .4 .1 .4-.1 .4 .1 .4-.1 .5 0 .4 0 .4 0 .4-.2 .4 0 .4-.1 .5 0 .4 0 .4 .3 .4 .1 .4 .1 .5 .1 .4 0 .4-.1 .4 0 .4 0 .4 .1 .5-.2 .4 0 .4 0 .4-.1 .4 0 .5 .1 .4 0 .4 0 .4 .1 .4 0 .4-.2 .5 .1 .4 0 .4-.1 .4-.1 .4 .1 .5-.1 .4 0 .4 0 .4 .1 .4 0 .4 0 .5-.1 .4-.1 .4-.2 .4-.1 .4 0 .5 .2 .4 0 .4 .2 .4 0 .4 .1 .4 .1 .5 .1 .4-.1 .4 0 .4 0 .4 0 .5-.2 .4 0 .4 .1 .4 0 .4 0 .4 .1 .5 0 .4 0 .4 0 .4-.1 .4 0 .5 0 .4-.1 .4-.1 .4 .1 .4 0 .4 .1 .5-.1 .4-.1 .4 0 .4-.2 .4-.1 .5-.3 .4-.2 .4-.3 .4-.4 .4-.4 .4-.4 .5-.7 .4-.8 .4-.9 .4-1 .4-.9 .5-1.1 .4-.9 .4-.6 .4-.5 .4-.3 .4 .2 .5 .3 .4 .5 .4 .8 .4 .9 .4 1.1 .5 .8 .4 .9 .4 .8 .4 .8 .4 .4 .4 .8 .5 .5 .4 .4 .4 .3 .4 .3 .4 .1 .5 .1 .4 .1 .4 0 .4 .1 .4 0 .4 0 .5-.2 .4 0 .4-.1 .4 0 .4 0 .5 .2 .4 .1 .4 0 .4 0 .4 0 .4-.1 .5-.1 .4 0 .4-.2 .4 0 .4 .1 .5 0 .4-.1 .4 .1 .4 .1 .4-.1 .4 .1 .5 .2 .4 0 .4 0 .4 0 .4 0 .5 0 .4-.1 .4 0 .4 0 .4 0 .4 0 .5 0 .4-.1 .4 .1 .4-.1 .4 0 .5 0 .4 0 .4-.2 .4 0 .4 0 .5 0 .4 .1 .4 .1 .4 .2 .4-.1 .4 .1 .5-.1 .4 0 .4-.1 .4 .2 .4-.1 .5 .1 .4 .1 .4-.1 .4 0 .4 0 .4 .1 .5-.1 .4 0 .4-.1 .4 0 .4 0 .5 .1 .4 0 .4 .1 .4 0 .4-.1 .4 0 .5 .1 .4-.1 .4 0 .4 0 .4 0 .5-.1 .4 .1 .4 .1 .4 0 .4 0 .4 0 .5 0 .4-.1 .4 0 .4 .1 .4-.1 .5 .2 .4 0 .4 .1 .4 0 .4 .1 .4 0 .5 0 .4 0 .4-.1 .4 .1 .4 .1 .5-.1 .4-.1 .4 0 .4-.1 .4 0 .4-.1 .5 0 .4 0 .4 0 .4-.1 .4 0 .5 .1 .4 0 .4 0 .4 .2 .4 0 .4-.2 .5 .1 .4 0 .4 0 .4 0 .4 .1 .5 0 .4-.1 .4-.2 .4 .1 .4-.1 .4-.1 .5 0 .4 .2 .4-.1 .4 .1 .4 .1 .5-.1 .4 0 .4 .1 .4 0 .4-.1 .4 .1 .5 .1 .4 0 .4 .1 .4 0 .4 0 .5 0 .4 0 .4-.1 .4 .1 .4 0 .4-.1 .5 .1 .4 0 .4 .1 .4-.1 .4 0 .5 0 .4-.1 .4-.1 .4 0 .4 0 .4 .1 .5 0 .4 0 .4 0 .4 0 .4-.2 .5 .1 .4-.1 .4-.3 .4 .1 .4 .2 .4 0 .5 .1 .4 .5 .4 0 .4 .1 .4 0 .5 .1 .4-.2 .4 0 .4 0 .4-.2 .4-.1 .5 .1 .4 0 .4 .1 .4 0 .4 0 .5-.2 .4 0 .4 0 .4 0 .4 0 .4 0 .5 .1 .4-.1 .4 0 .4 0 .4 0 .5-.1 .4 0 .4-.1 .4 .1 .4 .1 .4 .2 .5 .1 .4 .1 .4-.1 .4-.1 .4-.1 .5 .1 .4-.1 .4 0 .4 .1 .4 .1 .4 0 .5 0 .4 0 .4-.1 .4-.2 .4 0 .5 .1 .4 0 .4 0 .4 .1 .4 0 .4 0 .5-.1 .4 0 .4 0 .4-.1 .4 0 .5 0 .4-.1 .4 0 .4 .1 .4 0 .4 .2 .5 0 .4 .1 .4-.1 .4 0 .4-.1 .5 0 .4 0 .4-.1 .4-.1 .4 0 .4-.1 .5 0 .4-.2 .4-.1 .4-.1 .4 0 .5 .1 .4 .1 .4 .1 .4 0 .4 .1 .4 .1 .5 0 .4 0 .4 .1 .4 0 .4-.1 .5 .2 .4 .1 .4 0 .4 0 .4 0 .4-.3 .5 0 .4 0 .4 0 .4 0 .4 .2 .5 .1 .4-.2 .4 0 .4 .1 .4 .1 .4 0 .5 0 .4 0 .4-.2 .4 .1 .4-.1 .5 .1 .4 0 .4-.1 .4-.1 .4-.3 .4-.1 .5-.4 .4-.3 .4-.3 .4-.3 .4-.4 .5-.2 .4 .1 .4 .1 .4-.1 .4 0 .4 0 .5-.3 .4-.3 .4-.2 .4-.3 .4-.2 .5 .1 .4-.1 .4-.1 .4-.1 .4-.3 .4-.3 .5-.1 .4-.3 .4-.3 .4-.1 .4-.2 .5-.1 .4 .1 .4 .4 .4 .3 .4 .4 .4 .5 .5 .4 .4 .4 .4 .5 .4 .4 .4 .4 .5 .3 .4 .3 .4 .2 .4 .1 .4 .1 .4 .2 .5 0 .4 .1 .4 .1 .4 0 .4 0 .5 .1 .4-.1 .4 .1 .4-.1 .4 0 .4-.1 .5 .2 .4-.1 .4 0 .4 0 .4 .1 .5-.2 .4 .1 .4 .1 .4-.2 .4 0 .4 .2 .5 0 .4-.1 .4 .2 .4 0 .4-.1 .5 0 .4 0 .4 0 .4 .1 .4 0 .4 0 .5 0 .4 .1 .4-.1 .4 0 .4 0 .5 .1 .4-.1 .4-.1 .4 .1 .4 0 .4 0 .5 .1 .4 0 .4 0 .4 0 .4-.1 .5 0 .4-.1 .4 .1 .4 0 .4 0 .4-.1 .5 0 .4 .1 .4-.1 .4 0 .4 .1 .5 0 .4 0 .4 .1 .4 0 .4 .1 .4-.1 .5-.1 .4-.1 .4 .1 .4-.1 .4 .1 .5 .1 .4 .1 .4 0 .4 0 .4 0 .4 0 .5 0 .4 0 .4 0 .4 .1 .4-.1 .5 0 .4 0 .4-.1 .4 .1 .4 0 .4-.1 .5 0 .4 .1 .4 0 .4 0 .4 0 .5 0 .4-.1 .4 0 .4 .1 .4 .1 .4 0 .5 0 .4 .1 .4-.1 .4-.1 .4 .1 .5 0 .4 0 .4 0 .4 0 .4 0 .4-.1 .5-.1 .4 0 .4 .1 .4 0 .4 0 .5 .1 .4-.1 .4 0 .4 0 .4 .1 .4 0 .5 0 .4 0 .4 .1 .4-.2" fill="none" stroke="#5a96f2" stroke-width="1.3" stroke-linejoin="round"/>
<text x="48.00" y="509.90" font-size="9.3" text-anchor="start" fill="#1a1a1a">Blank</text>
<rect x="44.20" y="290.40" width="278.80" height="223.60" fill="none" stroke="#000" stroke-width="1.6"/>
<line x1="44.20" y1="514.00" x2="44.20" y2="518.30" stroke="#000" stroke-width="1.6" stroke-linecap="butt"/>
<text x="44.20" y="530.50" font-size="11.2" text-anchor="middle" fill="#1a1a1a">800</text>
<line x1="72.08" y1="514.00" x2="72.08" y2="516.20" stroke="#000" stroke-width="1.6" stroke-linecap="butt"/>
<line x1="99.96" y1="514.00" x2="99.96" y2="518.30" stroke="#000" stroke-width="1.6" stroke-linecap="butt"/>
<text x="99.96" y="530.50" font-size="11.2" text-anchor="middle" fill="#1a1a1a">1000</text>
<line x1="127.84" y1="514.00" x2="127.84" y2="516.20" stroke="#000" stroke-width="1.6" stroke-linecap="butt"/>
<line x1="155.72" y1="514.00" x2="155.72" y2="518.30" stroke="#000" stroke-width="1.6" stroke-linecap="butt"/>
<text x="155.72" y="530.50" font-size="11.2" text-anchor="middle" fill="#1a1a1a">1200</text>
<line x1="183.60" y1="514.00" x2="183.60" y2="516.20" stroke="#000" stroke-width="1.6" stroke-linecap="butt"/>
<line x1="211.48" y1="514.00" x2="211.48" y2="518.30" stroke="#000" stroke-width="1.6" stroke-linecap="butt"/>
<text x="211.48" y="530.50" font-size="11.2" text-anchor="middle" fill="#1a1a1a">1400</text>
<line x1="239.36" y1="514.00" x2="239.36" y2="516.20" stroke="#000" stroke-width="1.6" stroke-linecap="butt"/>
<line x1="267.24" y1="514.00" x2="267.24" y2="518.30" stroke="#000" stroke-width="1.6" stroke-linecap="butt"/>
<text x="267.24" y="530.50" font-size="11.2" text-anchor="middle" fill="#1a1a1a">1600</text>
<line x1="295.12" y1="514.00" x2="295.12" y2="516.20" stroke="#000" stroke-width="1.6" stroke-linecap="butt"/>
<line x1="323.00" y1="514.00" x2="323.00" y2="518.30" stroke="#000" stroke-width="1.6" stroke-linecap="butt"/>
<text x="323.00" y="530.50" font-size="11.2" text-anchor="middle" fill="#1a1a1a">1800</text>
<text x="183.60" y="548.80" font-size="11.2" text-anchor="middle" fill="#1a1a1a">Raman shift/cm<tspan font-size="7.5" dy="-4.2">−1</tspan></text>
<text x="36.00" y="402.00" font-size="11.2" text-anchor="middle" fill="#1a1a1a" transform="rotate(-90 36.00 402.00)">Intensity a.u.</text>
<path d="M413.6 495.5l.1-1.2 .1-1.1 0-1.2 .1-1.1 .1-1.2 .1-1.1 .1-1.1 0-1.1 .1-1.1 .1-1.1 .1-1.1 .1-1.1 0-1.1 .1-1 .1-1.1 .1-1 .1-1.1 0-1 .1-1 .1-1.1 .1-1 .1-1 0-1 .1-1 .1-.9 .1-1 .1-1 0-1 .1-.9 0 0 .4-4 .3-3.8 .3-3.7 .4-3.6 .3-3.5 .4-3.4 .3-3.3 .3-3.1 .4-3.1 .3-3 .4-2.9 .3-2.8 .3-2.7 .4-2.7 .3-2.5 .4-2.5 .3-2.4 .3-2.4 .4-2.2 .3-2.2 .4-2.1 .3-2.1 .3-2 .4-1.9 .3-1.9 .4-1.8 .3-1.8 .3-1.7 .4-1.6 .3-1.6 .4-1.6 .3-1.5 .3-1.5 .4-1.4 .3-1.4 .4-1.3 .3-1.3 .3-1.2 .4-1.2 .3-1.2 .4-1.2 .3-1.1 .3-1 .4-1.1 .3-1 .3-1 .4-.9 .3-.9 .4-.9 .3-.9 .3-.8 .4-.8 .3-.8 .4-.8 .3-.7 .3-.7 .4-.7 .3-.7 .4-.6 .3-.7 .3-.6 .4-.6 .3-.6 .4-.5 .3-.6 .3-.5 .4-.5 .3-.5 .4-.5 .3-.4 .3-.5 .4-.4 .3-.4 .4-.4 .3-.4 .3-.4 .4-.4 .3-.4 .4-.3 .3-.3 .3-.4 .4-.3 .3-.3 .4-.3 .3-.3 .3-.3 .4-.2 .3-.3 .3-.3 .4-.2 .3-.3 .4-.2 .3-.2 .3-.2 .4-.3 .3-.2 .4-.2 .3-.2 .3-.1 .4-.2 .3-.2 .4-.2 .3-.1 .3-.2 .4-.2 .3-.1 .4-.2 .3-.1 .3-.1 .4-.2 .3-.1 .4-.1 .3-.1 .3-.2 .4-.1 .3-.1 .4-.1 .3-.1 .3-.1 .4-.1 .3-.1 .4-.1 .3-.1 .3-.1 .4 0 .3-.1 .4-.1 .3-.1 .3-.1 .4 0 .3-.1 .4-.1 .3 0 .3-.1 .4-.1 .3 0 .3-.1 .4 0 .3-.1 .4 0 .3-.1 .3 0 .4-.1 .3 0 .4-.1 .3 0 .3-.1 .4 0 .3 0 .4-.1 .3 0 .3-.1 .4 0 .3 0 .4-.1 .3 0 .3 0 .4 0 .3-.1 .4 0 .3 0 .3-.1 .4 0 .3 0 .4 0 .3-.1 .3 0 .4 0 .3 0 .4 0 .3-.1 .3 0 .4 0 .3 0 .4 0 .3-.1 .3 0 .4 0 .3 0 .3 0 .4 0 .3 0 .4-.1 .3 0 .3 0 .4 0 .3 0 .4 0 .3 0 .3 0 .4-.1 .3 0 .4 0 .3 0 .3 0 .4 0 .3 0 .4 0 .3 0 0 0 3.3-.1 3.4-.1 3.3 0 3.3 0 3.3 0 3.4-.1 3.3 0 3.3 0 3.4 0 3.3 0 3.3 0 3.3 0 3.4 0 3.3 0 3.3 0 3.4 0 3.3 0 3.3 0 3.3 0 3.4 0 3.3 0 3.3 0 3.4 0 3.3 0 3.3 0 3.3 0 3.4 0 3.3 0 3.3 0 3.4 0 3.3 0 3.3 0 3.3 0 3.4 0 3.3 0 3.3 0 3.4 0 3.3 0 3.3 0 3.3 0 3.4 0 3.3 0 3.3 0 3.4 0 3.3 0 3.3 0 3.3 0 3.4 0 3.3 0" fill="none" stroke="#2aeefa" stroke-width="1.5" stroke-linejoin="round"/>
<line x1="413.60" y1="493.28" x2="413.60" y2="497.72" stroke="#f6b88a" stroke-width="0.9" stroke-linecap="butt"/>
<line x1="411.20" y1="493.28" x2="416.00" y2="493.28" stroke="#f6b88a" stroke-width="0.9" stroke-linecap="butt"/>
<line x1="411.20" y1="497.72" x2="416.00" y2="497.72" stroke="#f6b88a" stroke-width="0.9" stroke-linecap="butt"/>
<line x1="413.62" y1="494.02" x2="413.62" y2="496.98" stroke="#f6b88a" stroke-width="0.9" stroke-linecap="butt"/>
<line x1="411.22" y1="494.02" x2="416.02" y2="494.02" stroke="#f6b88a" stroke-width="0.9" stroke-linecap="butt"/>
<line x1="411.22" y1="496.98" x2="416.02" y2="496.98" stroke="#f6b88a" stroke-width="0.9" stroke-linecap="butt"/>
<line x1="413.83" y1="487.73" x2="413.83" y2="492.91" stroke="#f6b88a" stroke-width="0.9" stroke-linecap="butt"/>
<line x1="411.43" y1="487.73" x2="416.23" y2="487.73" stroke="#f6b88a" stroke-width="0.9" stroke-linecap="butt"/>
<line x1="411.43" y1="492.91" x2="416.23" y2="492.91" stroke="#f6b88a" stroke-width="0.9" stroke-linecap="butt"/>
<line x1="414.77" y1="470.35" x2="414.77" y2="477.75" stroke="#f6b88a" stroke-width="0.9" stroke-linecap="butt"/>
<line x1="412.37" y1="470.35" x2="417.17" y2="470.35" stroke="#f6b88a" stroke-width="0.9" stroke-linecap="butt"/>
<line x1="412.37" y1="477.75" x2="417.17" y2="477.75" stroke="#f6b88a" stroke-width="0.9" stroke-linecap="butt"/>
<line x1="415.93" y1="451.12" x2="415.93" y2="461.48" stroke="#f6b88a" stroke-width="0.9" stroke-linecap="butt"/>
<line x1="413.53" y1="451.12" x2="418.33" y2="451.12" stroke="#f6b88a" stroke-width="0.9" stroke-linecap="butt"/>
<line x1="413.53" y1="461.48" x2="418.33" y2="461.48" stroke="#f6b88a" stroke-width="0.9" stroke-linecap="butt"/>
<line x1="425.25" y1="383.82" x2="425.25" y2="397.13" stroke="#f6b88a" stroke-width="0.9" stroke-linecap="butt"/>
<line x1="422.85" y1="383.82" x2="427.65" y2="383.82" stroke="#f6b88a" stroke-width="0.9" stroke-linecap="butt"/>
<line x1="422.85" y1="397.13" x2="427.65" y2="397.13" stroke="#f6b88a" stroke-width="0.9" stroke-linecap="butt"/>
<line x1="436.90" y1="345.36" x2="436.90" y2="363.11" stroke="#f6b88a" stroke-width="0.9" stroke-linecap="butt"/>
<line x1="434.50" y1="345.36" x2="439.30" y2="345.36" stroke="#f6b88a" stroke-width="0.9" stroke-linecap="butt"/>
<line x1="434.50" y1="363.11" x2="439.30" y2="363.11" stroke="#f6b88a" stroke-width="0.9" stroke-linecap="butt"/>
<line x1="530.10" y1="329.39" x2="530.10" y2="350.98" stroke="#f6b88a" stroke-width="0.9" stroke-linecap="butt"/>
<line x1="527.70" y1="329.39" x2="532.50" y2="329.39" stroke="#f6b88a" stroke-width="0.9" stroke-linecap="butt"/>
<line x1="527.70" y1="350.98" x2="532.50" y2="350.98" stroke="#f6b88a" stroke-width="0.9" stroke-linecap="butt"/>
<line x1="646.60" y1="320.95" x2="646.60" y2="341.66" stroke="#f6b88a" stroke-width="0.9" stroke-linecap="butt"/>
<line x1="644.20" y1="320.95" x2="649.00" y2="320.95" stroke="#f6b88a" stroke-width="0.9" stroke-linecap="butt"/>
<line x1="644.20" y1="341.66" x2="649.00" y2="341.66" stroke="#f6b88a" stroke-width="0.9" stroke-linecap="butt"/>
<circle cx="413.60" cy="495.50" r="3.0" fill="url(#gSph)"/>
<circle cx="413.62" cy="495.50" r="3.0" fill="url(#gSph)"/>
<circle cx="413.83" cy="490.32" r="3.0" fill="url(#gSph)"/>
<circle cx="414.77" cy="474.05" r="3.0" fill="url(#gSph)"/>
<circle cx="415.93" cy="456.30" r="3.0" fill="url(#gSph)"/>
<circle cx="425.25" cy="390.48" r="3.0" fill="url(#gSph)"/>
<circle cx="436.90" cy="354.24" r="3.0" fill="url(#gSph)"/>
<circle cx="530.10" cy="340.18" r="3.0" fill="url(#gSph)"/>
<circle cx="646.60" cy="331.31" r="3.0" fill="url(#gSph)"/>
<rect x="390.40" y="292.00" width="280.30" height="222.70" fill="none" stroke="#000" stroke-width="1.6"/>
<line x1="390.40" y1="495.50" x2="394.70" y2="495.50" stroke="#000" stroke-width="1.6" stroke-linecap="butt"/>
<text x="384.60" y="499.40" font-size="11.2" text-anchor="end" fill="#1a1a1a">1.0</text>
<line x1="390.40" y1="477.01" x2="392.80" y2="477.01" stroke="#000" stroke-width="1.6" stroke-linecap="butt"/>
<line x1="390.40" y1="458.52" x2="394.70" y2="458.52" stroke="#000" stroke-width="1.6" stroke-linecap="butt"/>
<text x="384.60" y="462.42" font-size="11.2" text-anchor="end" fill="#1a1a1a">1.5</text>
<line x1="390.40" y1="440.03" x2="392.80" y2="440.03" stroke="#000" stroke-width="1.6" stroke-linecap="butt"/>
<line x1="390.40" y1="421.54" x2="394.70" y2="421.54" stroke="#000" stroke-width="1.6" stroke-linecap="butt"/>
<text x="384.60" y="425.44" font-size="11.2" text-anchor="end" fill="#1a1a1a">2.0</text>
<line x1="390.40" y1="403.05" x2="392.80" y2="403.05" stroke="#000" stroke-width="1.6" stroke-linecap="butt"/>
<line x1="390.40" y1="384.56" x2="394.70" y2="384.56" stroke="#000" stroke-width="1.6" stroke-linecap="butt"/>
<text x="384.60" y="388.46" font-size="11.2" text-anchor="end" fill="#1a1a1a">2.5</text>
<line x1="390.40" y1="366.07" x2="392.80" y2="366.07" stroke="#000" stroke-width="1.6" stroke-linecap="butt"/>
<line x1="390.40" y1="347.58" x2="394.70" y2="347.58" stroke="#000" stroke-width="1.6" stroke-linecap="butt"/>
<text x="384.60" y="351.48" font-size="11.2" text-anchor="end" fill="#1a1a1a">3.0</text>
<line x1="390.40" y1="329.09" x2="392.80" y2="329.09" stroke="#000" stroke-width="1.6" stroke-linecap="butt"/>
<line x1="390.40" y1="310.60" x2="394.70" y2="310.60" stroke="#000" stroke-width="1.6" stroke-linecap="butt"/>
<text x="384.60" y="314.50" font-size="11.2" text-anchor="end" fill="#1a1a1a">3.5</text>
<line x1="413.60" y1="514.70" x2="413.60" y2="518.70" stroke="#000" stroke-width="1.6" stroke-linecap="butt"/>
<text x="413.60" y="530.60" font-size="11.2" text-anchor="middle" fill="#1a1a1a">0</text>
<line x1="436.90" y1="514.70" x2="436.90" y2="516.90" stroke="#000" stroke-width="1.6" stroke-linecap="butt"/>
<line x1="460.20" y1="514.70" x2="460.20" y2="518.70" stroke="#000" stroke-width="1.6" stroke-linecap="butt"/>
<text x="460.20" y="530.60" font-size="11.2" text-anchor="middle" fill="#1a1a1a">2000</text>
<line x1="483.50" y1="514.70" x2="483.50" y2="516.90" stroke="#000" stroke-width="1.6" stroke-linecap="butt"/>
<line x1="506.80" y1="514.70" x2="506.80" y2="518.70" stroke="#000" stroke-width="1.6" stroke-linecap="butt"/>
<text x="506.80" y="530.60" font-size="11.2" text-anchor="middle" fill="#1a1a1a">4000</text>
<line x1="530.10" y1="514.70" x2="530.10" y2="516.90" stroke="#000" stroke-width="1.6" stroke-linecap="butt"/>
<line x1="553.40" y1="514.70" x2="553.40" y2="518.70" stroke="#000" stroke-width="1.6" stroke-linecap="butt"/>
<text x="553.40" y="530.60" font-size="11.2" text-anchor="middle" fill="#1a1a1a">6000</text>
<line x1="576.70" y1="514.70" x2="576.70" y2="516.90" stroke="#000" stroke-width="1.6" stroke-linecap="butt"/>
<line x1="600.00" y1="514.70" x2="600.00" y2="518.70" stroke="#000" stroke-width="1.6" stroke-linecap="butt"/>
<text x="600.00" y="530.60" font-size="11.2" text-anchor="middle" fill="#1a1a1a">8000</text>
<line x1="623.30" y1="514.70" x2="623.30" y2="516.90" stroke="#000" stroke-width="1.6" stroke-linecap="butt"/>
<line x1="646.60" y1="514.70" x2="646.60" y2="518.70" stroke="#000" stroke-width="1.6" stroke-linecap="butt"/>
<text x="646.60" y="530.60" font-size="11.2" text-anchor="middle" fill="#1a1a1a">10000</text>
<text x="530.40" y="548.80" font-size="11.2" text-anchor="middle" fill="#1a1a1a">Concentration/μM</text>
<text x="361.80" y="405.00" font-size="11.2" text-anchor="middle" fill="#1a1a1a" transform="rotate(-90 361.80 405.00)">Normalized intensity</text>
<rect x="468.60" y="368.30" width="153.60" height="122.10" fill="#fff" stroke="none" stroke-width="1"/>
<line x1="481.10" y1="474.30" x2="609.20" y2="385.47" stroke="#2aeefa" stroke-width="1.3" stroke-linecap="butt"/>
<line x1="481.10" y1="470.23" x2="481.10" y2="478.38" stroke="#f8c8a0" stroke-width="0.8" stroke-linecap="butt"/>
<line x1="479.10" y1="470.23" x2="483.10" y2="470.23" stroke="#f8c8a0" stroke-width="0.8" stroke-linecap="butt"/>
<line x1="479.10" y1="478.38" x2="483.10" y2="478.38" stroke="#f8c8a0" stroke-width="0.8" stroke-linecap="butt"/>
<line x1="493.91" y1="457.19" x2="493.91" y2="468.59" stroke="#f8c8a0" stroke-width="0.8" stroke-linecap="butt"/>
<line x1="491.91" y1="457.19" x2="495.91" y2="457.19" stroke="#f8c8a0" stroke-width="0.8" stroke-linecap="butt"/>
<line x1="491.91" y1="468.59" x2="495.91" y2="468.59" stroke="#f8c8a0" stroke-width="0.8" stroke-linecap="butt"/>
<line x1="545.15" y1="419.69" x2="545.15" y2="434.37" stroke="#f8c8a0" stroke-width="0.8" stroke-linecap="butt"/>
<line x1="543.15" y1="419.69" x2="547.15" y2="419.69" stroke="#f8c8a0" stroke-width="0.8" stroke-linecap="butt"/>
<line x1="543.15" y1="434.37" x2="547.15" y2="434.37" stroke="#f8c8a0" stroke-width="0.8" stroke-linecap="butt"/>
<line x1="609.20" y1="378.13" x2="609.20" y2="397.69" stroke="#f8c8a0" stroke-width="0.8" stroke-linecap="butt"/>
<line x1="607.20" y1="378.13" x2="611.20" y2="378.13" stroke="#f8c8a0" stroke-width="0.8" stroke-linecap="butt"/>
<line x1="607.20" y1="397.69" x2="611.20" y2="397.69" stroke="#f8c8a0" stroke-width="0.8" stroke-linecap="butt"/>
<circle cx="481.10" cy="474.30" r="2.2" fill="url(#gSph)"/>
<circle cx="493.91" cy="462.89" r="2.2" fill="url(#gSph)"/>
<circle cx="545.15" cy="427.03" r="2.2" fill="url(#gSph)"/>
<circle cx="609.20" cy="387.91" r="2.2" fill="url(#gSph)"/>
<rect x="468.60" y="368.30" width="153.60" height="122.10" fill="none" stroke="#333" stroke-width="1.1"/>
<line x1="465.60" y1="490.60" x2="468.60" y2="490.60" stroke="#333" stroke-width="1.0" stroke-linecap="butt"/>
<text x="461.20" y="493.90" font-size="9.4" text-anchor="end" fill="#1a1a1a">0.9</text>
<line x1="466.80" y1="482.45" x2="468.60" y2="482.45" stroke="#333" stroke-width="1.0" stroke-linecap="butt"/>
<line x1="465.60" y1="474.30" x2="468.60" y2="474.30" stroke="#333" stroke-width="1.0" stroke-linecap="butt"/>
<text x="461.20" y="477.60" font-size="9.4" text-anchor="end" fill="#1a1a1a">1.0</text>
<line x1="466.80" y1="466.15" x2="468.60" y2="466.15" stroke="#333" stroke-width="1.0" stroke-linecap="butt"/>
<line x1="465.60" y1="458.00" x2="468.60" y2="458.00" stroke="#333" stroke-width="1.0" stroke-linecap="butt"/>
<text x="461.20" y="461.30" font-size="9.4" text-anchor="end" fill="#1a1a1a">1.1</text>
<line x1="466.80" y1="449.85" x2="468.60" y2="449.85" stroke="#333" stroke-width="1.0" stroke-linecap="butt"/>
<line x1="465.60" y1="441.70" x2="468.60" y2="441.70" stroke="#333" stroke-width="1.0" stroke-linecap="butt"/>
<text x="461.20" y="445.00" font-size="9.4" text-anchor="end" fill="#1a1a1a">1.2</text>
<line x1="466.80" y1="433.55" x2="468.60" y2="433.55" stroke="#333" stroke-width="1.0" stroke-linecap="butt"/>
<line x1="465.60" y1="425.40" x2="468.60" y2="425.40" stroke="#333" stroke-width="1.0" stroke-linecap="butt"/>
<text x="461.20" y="428.70" font-size="9.4" text-anchor="end" fill="#1a1a1a">1.3</text>
<line x1="466.80" y1="417.25" x2="468.60" y2="417.25" stroke="#333" stroke-width="1.0" stroke-linecap="butt"/>
<line x1="465.60" y1="409.10" x2="468.60" y2="409.10" stroke="#333" stroke-width="1.0" stroke-linecap="butt"/>
<text x="461.20" y="412.40" font-size="9.4" text-anchor="end" fill="#1a1a1a">1.4</text>
<line x1="466.80" y1="400.95" x2="468.60" y2="400.95" stroke="#333" stroke-width="1.0" stroke-linecap="butt"/>
<line x1="465.60" y1="392.80" x2="468.60" y2="392.80" stroke="#333" stroke-width="1.0" stroke-linecap="butt"/>
<text x="461.20" y="396.10" font-size="9.4" text-anchor="end" fill="#1a1a1a">1.5</text>
<line x1="466.80" y1="384.65" x2="468.60" y2="384.65" stroke="#333" stroke-width="1.0" stroke-linecap="butt"/>
<line x1="465.60" y1="376.50" x2="468.60" y2="376.50" stroke="#333" stroke-width="1.0" stroke-linecap="butt"/>
<text x="461.20" y="379.80" font-size="9.4" text-anchor="end" fill="#1a1a1a">1.6</text>
<line x1="468.29" y1="490.40" x2="468.29" y2="492.20" stroke="#333" stroke-width="1.0" stroke-linecap="butt"/>
<line x1="481.10" y1="490.40" x2="481.10" y2="493.40" stroke="#333" stroke-width="1.0" stroke-linecap="butt"/>
<text x="481.10" y="503.00" font-size="9.4" text-anchor="middle" fill="#1a1a1a">0</text>
<line x1="493.91" y1="490.40" x2="493.91" y2="492.20" stroke="#333" stroke-width="1.0" stroke-linecap="butt"/>
<line x1="506.72" y1="490.40" x2="506.72" y2="493.40" stroke="#333" stroke-width="1.0" stroke-linecap="butt"/>
<text x="506.72" y="503.00" font-size="9.4" text-anchor="middle" fill="#1a1a1a">20</text>
<line x1="519.53" y1="490.40" x2="519.53" y2="492.20" stroke="#333" stroke-width="1.0" stroke-linecap="butt"/>
<line x1="532.34" y1="490.40" x2="532.34" y2="493.40" stroke="#333" stroke-width="1.0" stroke-linecap="butt"/>
<text x="532.34" y="503.00" font-size="9.4" text-anchor="middle" fill="#1a1a1a">40</text>
<line x1="545.15" y1="490.40" x2="545.15" y2="492.20" stroke="#333" stroke-width="1.0" stroke-linecap="butt"/>
<line x1="557.96" y1="490.40" x2="557.96" y2="493.40" stroke="#333" stroke-width="1.0" stroke-linecap="butt"/>
<text x="557.96" y="503.00" font-size="9.4" text-anchor="middle" fill="#1a1a1a">60</text>
<line x1="570.77" y1="490.40" x2="570.77" y2="492.20" stroke="#333" stroke-width="1.0" stroke-linecap="butt"/>
<line x1="583.58" y1="490.40" x2="583.58" y2="493.40" stroke="#333" stroke-width="1.0" stroke-linecap="butt"/>
<text x="583.58" y="503.00" font-size="9.4" text-anchor="middle" fill="#1a1a1a">80</text>
<line x1="596.39" y1="490.40" x2="596.39" y2="492.20" stroke="#333" stroke-width="1.0" stroke-linecap="butt"/>
<line x1="609.20" y1="490.40" x2="609.20" y2="493.40" stroke="#333" stroke-width="1.0" stroke-linecap="butt"/>
<text x="609.20" y="503.00" font-size="9.4" text-anchor="middle" fill="#1a1a1a">100</text>
<line x1="622.01" y1="490.40" x2="622.01" y2="492.20" stroke="#333" stroke-width="1.0" stroke-linecap="butt"/>
<text x="545.40" y="512.20" font-size="9.6" text-anchor="middle" fill="#1a1a1a">Concentration/μM</text>
<text x="440.20" y="428.90" font-size="9.6" text-anchor="middle" fill="#1a1a1a" transform="rotate(-90 440.20 428.90)">Normalized Intensity</text>
<path d="M53.0 784.8l.4 .4 .4 1.1 .4-.7 .4-.4 .4-.9 .3 .7 .4-.5 .4-.4 .4-.3 .4 .7 .4 .5 .3 .3 .4-.3 .4 .1 .4-.6 .4 .1 .4-.1 .3-.5 .4 .2 .4 .4 .4 .5 .4 .5 .3-.8 .4-.2 .4-1 .4 .1 .4 1.2 .4-.3 .3-.3 .4-.4 .4-.7 .4 .6 .4 .1 .4 1.5 .3-.7 .4-.9 .4-1 .4 0 .4 .4 .4-.3 .3 .2 .4 0 .4-.3 .4-.5 .4-.7 .3 .2 .4 .3 .4 .3 .4 0 .4-.1 .4-.4 .3 .2 .4 .4 .4-.2 .4 .6 .4-.6 .4 .5 .3-1 .4 .7 .4 .3 .4 .6 .4-.4 .3-.5 .4-.1 .4 .1 .4 .1 .4-.7 .4 .6 .3 .4 .4 .6 .4-.6 .4-.6 .4 .5 .4 .5 .3 .2 .4 1.1 .4-.2 .4-.6 .4-1.2 .3-.3 .4 1.4 .4 0 .4 .3 .4-1.2 .4 .4 .3 1.1 .4 .7 .4-1.1 .4-.9 .4 .9 .4 1.1 .3-.4 .4-.6 .4-.4 .4 1.1 .4 0 .4-.3 .3-.9 .4 .2 .4-.1 .4-.6 .4-.2 .3 .7 .4-.1 .4 0 .4-.2 .4-.2 .4-.3 .3 .1 .4 1.6 .4 0 .4-.2 .4-.5 .4-.4 .3 .5 .4 .4 .4 .7 .4-.5 .4-.1 .3 .2 .4 .3 .4-.6 .4-.2 .4-.7 .4 .9 .3-.5 .4 .7 .4-1.1 .4-.7 .4-.2 .4 .1 .3 .5 .4 .5 .4-.2 .4-.1 .4-.5 .4 0 .3 .3 .4 .2 .4 .8 .4-.4 .4-1 .3-.3 .4 .2 .4 1.3 .4-.2 .4 .4 .4-.1 .3-.2 .4-.6 .4-.8 .4 .2 .4-.2 .4 .1 .3-1 .4 1.1 .4-1.3 .4 .6 .4-.3 .3 1.4 .4-.8 .4-1.6 .4-2.1 .4-2.2 .4-2.3 .3-2.3 .4 .6 .4 1.7 .4 2.4 .4 2.1 .4-.1 .3 .3 .4-.3 .4 .5 .4 .1 .4-.9 .4-.8 .3-1 .4-1.9 .4-1.9 .4-1.6 .4-.1 .3 1.3 .4 1.4 .4 1.1 .4 1.4 .4 1.1 .4-.1 .3-1.1 .4-.6 .4 .7 .4 .2 .4-.1 .4 .4 .3 .3 .4 .7 .4-.5 .4-.2 .4-1.4 .4 .5 .3-.2 .4 .1 .4-1.8 .4-1.4 .4-.6 .3-1.7 .4-2.3 .4-5.1 .4-5.4 .4-7.1 .4-7.7 .3-8.7 .4-9.8 .4-8.4 .4-7.8 .4-3.9 .4-1.6 .3 3.1 .4 5.2 .4 9.8 .4 8.8 .4 9.8 .3 7.4 .4 6.9 .4 6.8 .4 4.4 .4 3.6 .4 1.3 .3 1.7 .4 1.2 .4 1 .4 .3 .4 .8 .4-.5 .3-.2 .4-1.2 .4 .1 .4 .8 .4 .7 .3 .9 .4-.5 .4 .3 .4 0 .4 0 .4 .4 .3-.6 .4-.2 .4-.2 .4-.7 .4-.3 .4-.2 .3 .2 .4-.6 .4-.4 .4 .8 .4 .5 .4 .3 .3-.9 .4 .2 .4 .3 .4 .7 .4 0 .3 .5 .4-1 .4 0 .4-.2 .4 .4 .4-.4 .3-.3 .4-.3 .4-.1 .4-.9 .4-.5 .4-1 .3-.5 .4-.5 .4-.7 .4 .1 .4-1 .4 .5 .3-1 .4 .9 .4 .6 .4 1.7 .4 .6 .3 .2 .4-.2 .4 0 .4 .3 .4-.3 .4 .7 .3 .1 .4 .2 .4 0 .4-.2 .4-.4 .4-.5 .3 .2 .4 .1 .4 .5 .4-.2 .4 0 .3-.2 .4-.3 .4 .4 .4-1.1 .4 .7 .4 .1 .3 .7 .4-.8 .4-.5 .4-.4 .4-.5 .4-.2 .3 .7 .4 1.1 .4 .4 .4-.4 .4-.5 .3-.8 .4-.1 .4-.7 .4-.2 .4-.4 .4 .5 .3-.2 .4 .2 .4-.6 .4 .2 .4-1.1 .4-.2 .3-.1 .4-.2 .4 .1 .4-.5 .4 .1 .4-.4 .3 .6 .4-.2 .4 .1 .4-1.1 .4-1.2 .3-.6 .4-.3 .4 .4 .4 .2 .4 0 .4 .5 .3-.3 .4-.1 .4 .2 .4 .1 .4 .1 .4-.6 .3-.1 .4 .2 .4 1.3 .4 .3 .4 .2 .4 0 .3-.2 .4 .3 .4-.4 .4 0 .4-.3 .3 .7 .4 .9 .4 .4 .4-.3 .4-1 .4-.2 .3 .3 .4 1.2 .4 1 .4-.4 .4-.1 .4-.2 .3 .7 .4-.7 .4 .1 .4-.2 .4 1.2 .3-.5 .4-.5 .4-1.1 .4-.5 .4 0 .4 .4 .3 1.3 .4 0 .4-.3 .4-.8 .4 .8 .4-.4 .3-.2 .4-.6 .4 .6 .4 1 .4-.3 .3 0 .4-.4 .4-.7 .4-.8 .4-.8 .4 .8 .3 1.1 .4 .3 .4-.2 .4-.5 .4-.1 .4 .1 .3 .4 .4-.4 .4-.3 .4-.4 .4 .6 .4-.5 .3-.6 .4 .6 .4 .9 .4 .9 .4-.6 .3 .2 .4-.5 .4-.4 .4 .3 .4 .4 .4 .8 .3-.6 .4-.6 .4-1.2 .4-.5 .4 .1 .4 .4 .3-.6 .4 .4 .4 .3 .4 1 .4-.5 .4-1.3 .3 0 .4 .6 .4 .2 .4-.1 .4-.3 .3 .6 .4-.3 .4 .2 .4-1.1 .4 0 .4-.8 .3 .1 .4 .1 .4-.1 .4 .4 .4-.6 .4-1.1 .3 .4 .4 .1 .4 .1 .4-.2 .4-.8 .3 .8 .4-.9 .4 .3 .4-.2 .4 .7 .4 .2 .3-.2 .4-.3 .4 .3 .4 .6 .4-.9 .4-1.2 .3-.2 .4 .5 .4 .1 .4-.6 .4-.1 .3 .1 .4 .4 .4 .1 .4-.3 .4-1 .4-1.1 .3-.5 .4-.5 .4-1.3 .4-1.8 .4-1.9 .4-.8 .3 1 .4 1 .4 1.6 .4 1 .4 1.2 .4 .4 .3 .2 .4-.2 .4-.3 .4 .3 .4 .2 .3 .6 .4 .7 .4 .6 .4-.2 .4-.5 .4-.5 .3 .7 .4-.4 .4 .1 .4-.8 .4 0 .4 .4 .3-.4 .4 .5 .4-.7 .4 .6 .4-1.1 .4-.4 .3-.7 .4 .1 .4-.2 .4 .3 .4-.2 .3-.6 .4-1.1 .4-.8 .4-1.6 .4-1.1 .4-1.1 .3-1.4 .4-.6 .4-2.1 .4-.6 .4-2.8 .4-1.5 .3-1.1 .4-1.1 .4-.4 .4-2.5 .4-1.4 .3-2.4 .4-2.2 .4-2.5 .4-2.7 .4-1.9 .4-1.9 .3-1.6 .4-1.6 .4-.3 .4 .5 .4-.3 .4-.9 .3-.6 .4 1.7 .4 1 .4 1.6 .4 1.9 .3 3.2 .4 1.9 .4 3.2 .4 2.3 .4 3.2 .4 1.7 .3 2 .4 2.2 .4 2.2 .4 3 .4 1.8 .4 1.9 .3 .5 .4 1.1 .4 .7 .4 .9 .4 1 .4 .9 .3 1.6 .4 .1 .4-.2 .4-.8 .4 .4 .3-.3 .4 .5 .4-.9 .4 .6 .4 .1 .4 1 .3-.1 .4-.4 .4-1 .4 0 .4-.1 .4 .4 .3-.1 .4-.5 .4 .6 .4 .4 .4 1.4 .4-.1 .3 .7 .4-.8 .4 .2 .4-1.2 .4 .2 .3 .2 .4-.6 .4 .5 .4-.2 .4 1.1 .4-.6 .3 .1 .4-.5 .4 .2 .4-.4 .4 .8 .4 0 .3 0 .4 .5 .4-.1 .4 .3 .4-.8 .3 .5 .4-.2 .4 .1 .4-.2 .4 0 .4 .1 .3-.6 .4-.3 .4-.5 .4-.2 .4 .4 .4 .1 .3 .8 .4 .1 .4-.4 .4 .2 .4-1.4 .3-.5 .4 .6 .4 .6 .4 1.4 .4-1.2 .4 .3 .3 .7 .4 .2 .4-.4 .4-1.2 .4-.8 .4 .9 .3-.7 .4 .7 .4 .3 .4 .5 .4-.7 .4-.6 .3 .1 .4 .6 .4 1 .4-.8 .4-.7 .3-1.6 .4 .7 .4 .7 .4 .8 .4-.5 .4-.3 .3 .3 .4 .9 .4 .1 .4-.2 .4-.5 .4-.7 .3-1.1 .4 0 .4 1.2 .4 .4 .4 .8 .4-.2 .3 .7 .4-.4 .4-.4 .4-.7 .4-.3 .3 .8 .4 .2 .4-.2 .4-1 .4 .5 .4 .4 .3 .5 .4-.7 .4 .7 .4 0 .4-.2 .4-.6 .3-.7 .4 .2 .4 .6" fill="none" stroke="#fcdcc2" stroke-width="0.9" stroke-linejoin="round"/>
<path d="M53.0 786.1l.4-.3 .4 .3 .4 .8 .4 .3 .4-.7 .3-.6 .4 .4 .4-.5 .4-.4 .4-.4 .4-.1 .3 .1 .4 .3 .4 .3 .4 .5 .4-.7 .4 .1 .3-.3 .4 .5 .4-.5 .4-.1 .4-.1 .3 .6 .4-.3 .4-.4 .4-.3 .4 0 .4-.9 .3 .2 .4 .3 .4 1 .4-.5 .4-.8 .4-.4 .3 .5 .4 .6 .4-.4 .4-.8 .4-.6 .4 .4 .3 .1 .4 0 .4-.4 .4-.3 .4-.1 .3-.3 .4 .3 .4-.1 .4-.1 .4 .6 .4 .1 .3 .4 .4-.2 .4 0 .4-.6 .4 .1 .4-.3 .3 1.3 .4-.1 .4 .4 .4-.8 .4-.3 .3-.2 .4 .5 .4 .5 .4 .1 .4 0 .4 .3 .3 .9 .4 .3 .4-.7 .4-.5 .4-.6 .4 .4 .3 0 .4 .1 .4-.1 .4-.1 .4 .6 .3 0 .4 .4 .4 .2 .4-.3 .4 0 .4-.4 .3 0 .4-.3 .4-.3 .4 .2 .4 .4 .4 .2 .3 .7 .4 .3 .4 .5 .4-.3 .4-.7 .4-.2 .3-.2 .4-.4 .4-.2 .4-.4 .4 .8 .3 0 .4 .6 .4-.2 .4-.5 .4 .3 .4-.3 .3 .3 .4-.5 .4 .7 .4 .1 .4-.1 .4-.6 .3 0 .4-.9 .4 .2 .4 .4 .4 .6 .3-.2 .4-1 .4-.2 .4-.1 .4-.1 .4 .8 .3 .4 .4 .9 .4-.3 .4 .3 .4-.6 .4-.1 .3 0 .4 .7 .4-.3 .4-.9 .4-1.2 .4-1 .3 .1 .4 1.1 .4 2 .4 0 .4-.1 .3-.7 .4 .4 .4-.3 .4-.6 .4-.4 .4 0 .3 .8 .4 .7 .4 .1 .4-.4 .4-1.4 .4-.3 .3-.4 .4 .8 .4 .5 .4 .5 .4-.2 .3-1.6 .4-.4 .4-1.3 .4 0 .4-2.8 .4-2.6 .3-2.7 .4-.2 .4 1.9 .4 2.2 .4 2.1 .4 1.3 .3 1.1 .4-.3 .4-1.2 .4-.9 .4-.3 .4-.3 .3-1.6 .4-1.8 .4-1.5 .4-1 .4-.1 .3 .2 .4 1.8 .4 1.7 .4 1.8 .4-.3 .4-1 .3-.4 .4 .7 .4 .1 .4 .3 .4 .1 .4 .3 .3-.4 .4-.4 .4 .2 .4-.5 .4-.7 .4-.2 .3-.4 .4 1 .4-.5 .4-.2 .4-1.5 .3-1.5 .4-2.7 .4-4.4 .4-4.7 .4-6.2 .4-6.7 .3-8.5 .4-8.7 .4-8.3 .4-7 .4-3.4 .4-.2 .3 3.4 .4 5.3 .4 7.1 .4 8.5 .4 8.3 .3 7.4 .4 5 .4 4.4 .4 4.3 .4 3.9 .4 3.2 .3 1.1 .4 .6 .4-.6 .4 .4 .4 .5 .4 1.5 .3-.2 .4 .2 .4-.6 .4 .4 .4-.4 .3 .5 .4 .2 .4-.9 .4-.2 .4-.1 .4 .1 .3-1.7 .4 0 .4 .8 .4 1 .4-1.2 .4 .2 .3 .2 .4 .4 .4-.6 .4 0 .4 .3 .4 .7 .3-.1 .4 0 .4-.7 .4 .1 .4-.4 .3-.3 .4-.4 .4 0 .4 .3 .4 0 .4 .3 .3-.3 .4-.2 .4-1.5 .4-.9 .4-.7 .4 .5 .3 .3 .4-1 .4-1 .4-1.1 .4 1 .4 0 .3 .4 .4 .3 .4 1.2 .4 .6 .4 0 .3 .2 .4 .4 .4 .3 .4-.1 .4-.6 .4 .8 .3 .2 .4 .4 .4-1.1 .4 0 .4 .7 .4-.1 .3-.9 .4-.2 .4-.2 .4 .7 .4-.6 .3 .7 .4-.1 .4-.6 .4-.7 .4-.9 .4 0 .3-.1 .4 0 .4 .2 .4-.3 .4 .8 .4 0 .3 .5 .4-.6 .4 .4 .4-.6 .4 .3 .3-1 .4-.1 .4-.9 .4 0 .4 .8 .4 .6 .3 .5 .4-.5 .4-.9 .4-.9 .4-.1 .4 .7 .3 0 .4 0 .4-.4 .4-.4 .4-1.2 .4-.8 .3 .8 .4 .1 .4-.1 .4-1.3 .4-.8 .3 .6 .4 .2 .4 .2 .4-.3 .4-.9 .4 0 .3-1 .4 .8 .4-.1 .4 0 .4-.2 .4 .3 .3 .5 .4 .6 .4 .3 .4 .3 .4-.3 .4-.3 .3 .6 .4 .3 .4 0 .4 0 .4 .4 .3 .6 .4-.5 .4-.2 .4-.4 .4 .1 .4-.3 .3 .4 .4-.5 .4 .4 .4 1 .4 .3 .4 .1 .3-.8 .4 .1 .4 .5 .4 .5 .4 1.1 .3-.3 .4-.7 .4-.8 .4-.5 .4 .7 .4 1.1 .3 .1 .4-.4 .4-1.1 .4-.3 .4-.3 .4-.1 .3 .1 .4-.1 .4 .5 .4 .1 .4 .1 .3-.6 .4 .1 .4-.2 .4 .4 .4-.1 .4-.2 .3 .7 .4 .4 .4 .9 .4 .1 .4-.3 .4-.9 .3-.8 .4-.4 .4-.2 .4-.6 .4 0 .4-.1 .3 .5 .4 .2 .4 .8 .4 .6 .4-.1 .3-.1 .4-.9 .4-1.1 .4 .4 .4 .1 .4 1.1 .3-.8 .4 .2 .4 .3 .4-.2 .4 .1 .4-.6 .3 .7 .4 0 .4-.5 .4-.4 .4-.5 .4-.1 .3-.6 .4 .1 .4 .7 .4 0 .4-.1 .3-1.1 .4 .1 .4-.1 .4 .2 .4-.7 .4-1 .3 0 .4 .7 .4 .3 .4 .2 .4-.1 .4 .3 .3-.5 .4 .3 .4 .6 .4 .8 .4 0 .3-.5 .4-.8 .4-1.3 .4-.7 .4 .2 .4 .5 .3 .5 .4-.4 .4 0 .4-.5 .4-.1 .4-.4 .3 .6 .4-.3 .4-.7 .4-.6 .4-.7 .3 .8 .4-.3 .4 .4 .4-.2 .4 .2 .4-.8 .3-.5 .4-1.6 .4-1.5 .4-1.7 .4-.7 .4-.3 .3 .3 .4 .1 .4 1.9 .4 1.1 .4 2.1 .4 .6 .3-.1 .4-.8 .4-.1 .4 1.2 .4 1.5 .3-.1 .4-1.5 .4-1.4 .4-.1 .4 .7 .4 .7 .3-.2 .4 .1 .4-.7 .4-.5 .4-.2 .4-.4 .3 .5 .4-.3 .4-.5 .4 0 .4 .6 .4-.1 .3-.5 .4-1.1 .4 .4 .4-1 .4 .1 .3-.9 .4-.7 .4-.5 .4-.5 .4-.2 .4-1.5 .3-1.1 .4-1.7 .4-1 .4-2.3 .4-.1 .4-1.2 .3-.1 .4-1.9 .4-1.8 .4-2.1 .4-1.9 .3-1.7 .4-2.1 .4-1.7 .4-2.4 .4-2.2 .4-2.4 .3-1.6 .4-1.3 .4-1.7 .4-.5 .4-.1 .4 1.2 .3 .9 .4 1.2 .4 1.3 .4 1.3 .4 1.2 .3 1.7 .4 2.5 .4 2.1 .4 2.2 .4 2.1 .4 2.9 .3 2.3 .4 2 .4 2.3 .4 2 .4 1.6 .4 1.2 .3 1.2 .4 1.7 .4 .1 .4 .4 .4 .1 .4 1 .3 1.8 .4 .8 .4 .5 .4-.3 .4-.5 .3-.8 .4 .2 .4 .7 .4 .7 .4-1 .4 .2 .3 0 .4 0 .4 .2 .4 .6 .4 .9 .4-.4 .3-.8 .4-.2 .4 .5 .4 .1 .4 .3 .4-1.1 .3 .4 .4 0 .4 .3 .4-.5 .4-.4 .3 .8 .4 .1 .4 .6 .4-.7 .4 .7 .4-.5 .3 .4 .4-.1 .4-.1 .4-.4 .4-.3 .4-.2 .3 .2 .4-.2 .4 .4 .4 .1 .4-.2 .3 .3 .4 0 .4-.4 .4 .2 .4 .8 .4-.1 .3-1.4 .4-.8 .4 1.4 .4 1.1 .4 0 .4-.7 .3 .3 .4-.3 .4-.3 .4 .1 .4 0 .3-.6 .4-.7 .4 .4 .4 .9 .4-.2 .4 .6 .3-.2 .4 .4 .4-1.4 .4 .1 .4-.8 .4 1.2 .3-.3 .4 .5 .4-.1 .4 .1 .4-.3 .4-.3 .3 .8 .4 .4 .4 .2 .4-.5 .4 0 .3 .3 .4 .5 .4-.2 .4-.5 .4 .4 .4-.2 .3-.3 .4-.7 .4 .8 .4-.3 .4-.4 .4-1.5 .3 .2 .4 0 .4 1 .4-.2 .4-.1 .4-.6 .3 .5 .4 .4 .4 .7 .4-.5 .4-.8 .3 0 .4 .4 .4 .5 .4-.1 .4-.6 .4 1 .3 .3 .4 .6 .4 0 .4 .1 .4 0 .4-.8 .3-.9 .4-.2 .4 .3" fill="none" stroke="#c4ece5" stroke-width="0.9" stroke-linejoin="round"/>
<path d="M53.0 788.2l.4-.7 .4 .6 .4-.5 .4 .1 .4-.1 .3 .9 .4 .5 .4-.2 .4-1.1 .4-.9 .4-.1 .3 .6 .4-.4 .4-.7 .4 .1 .4 .8 .4 .5 .3-.5 .4-.4 .4-.1 .4-.2 .4 .1 .3-.5 .4 .4 .4 .3 .4-.6 .4-.2 .4-.3 .3 .5 .4 0 .4 0 .4-.7 .4-.9 .4 .1 .3 .5 .4 .9 .4 0 .4-.2 .4-1.3 .4-.7 .3-.8 .4 1 .4-.2 .4 .5 .4-.5 .3-.5 .4-.2 .4 .1 .4 .9 .4 .4 .4-.3 .3-.4 .4 .5 .4 .8 .4-.4 .4-.6 .4-.4 .3 .3 .4 0 .4-.1 .4 .5 .4-.1 .3-.4 .4-.6 .4 .2 .4 .3 .4 .9 .4 .5 .3 .4 .4-.2 .4-.2 .4-.6 .4-.5 .4 .1 .3 .3 .4 1.1 .4 .3 .4 .6 .4-.5 .3 0 .4-.1 .4 .1 .4 .6 .4-.3 .4-.1 .3-1.3 .4 .5 .4 .3 .4 1.3 .4-1 .4-.1 .3-.9 .4 1.1 .4 0 .4 .4 .4-.2 .4 .4 .3 .1 .4-.1 .4 .2 .4-.9 .4-.4 .3-.7 .4 .5 .4 .1 .4 0 .4-.1 .4 0 .3-.6 .4 .3 .4-.5 .4 .8 .4-.2 .4 .2 .3-.9 .4-.5 .4 .7 .4 .8 .4-.1 .3-.3 .4 .3 .4 .2 .4-.4 .4-.1 .4 .6 .3-.3 .4-.3 .4 0 .4 .7 .4-.8 .4 .5 .3-.3 .4 .5 .4-.9 .4-.1 .4 0 .4-.1 .3 .1 .4-.6 .4 1.1 .4 .2 .4 .5 .3-.4 .4-.7 .4-.2 .4 .1 .4 .6 .4-.1 .3-.8 .4 .2 .4 0 .4-.2 .4 .1 .4 .2 .3-.4 .4-.9 .4 .2 .4 .5 .4-.4 .3-.9 .4-.7 .4 .1 .4-1.1 .4-2.4 .4-1.9 .3-2.6 .4 .1 .4 1 .4 2.9 .4 1.9 .4 .9 .3 0 .4-.3 .4-1 .4 .3 .4-.9 .4 .1 .3-1.9 .4-1.2 .4-2.5 .4-.6 .4-.2 .3 .7 .4 .3 .4 1.1 .4 .9 .4 .3 .4-.2 .3-.1 .4 0 .4 1 .4 .1 .4-1 .4-.9 .3 .3 .4 1.3 .4 .1 .4-.2 .4-.1 .4-1.3 .3-.2 .4-.7 .4 .4 .4-.5 .4-.6 .3-1.4 .4-3.3 .4-3.6 .4-4.5 .4-5.2 .4-7.9 .3-8.4 .4-8 .4-6.8 .4-5.8 .4-3.3 .4-1 .3 3.7 .4 5.1 .4 7.9 .4 6.6 .4 7.9 .3 6.3 .4 5.4 .4 4.5 .4 4.6 .4 3.6 .4 2 .3 1 .4 1 .4-.4 .4-.4 .4 0 .4 1.2 .3 .4 .4-.1 .4-.5 .4-.3 .4-.3 .3 .6 .4 .5 .4 .6 .4-.2 .4-.9 .4-.5 .3-.4 .4 .2 .4-.9 .4 .8 .4 .5 .4 .8 .3-1.1 .4-.5 .4 .1 .4 .7 .4 .3 .4-1.3 .3-.2 .4-.4 .4 1.2 .4 .2 .4 .1 .3 0 .4 0 .4-.2 .4-.6 .4-.3 .4 .1 .3-.2 .4-.9 .4 .4 .4-.1 .4 .6 .4-.2 .3-1.2 .4-1.4 .4-1.5 .4 0 .4-.1 .4 .4 .3 .1 .4 .4 .4 1 .4 .3 .4-.3 .3-.6 .4 0 .4 .6 .4 .4 .4 .1 .4-.2 .3 .5 .4 .4 .4 .2 .4-1.5 .4-.1 .4 .3 .3 1.2 .4 0 .4-.1 .4-.5 .4 .3 .3 .3 .4 0 .4-.6 .4-.8 .4 .4 .4 .2 .3-.3 .4-.8 .4 0 .4 .4 .4 .2 .4-.4 .3-.1 .4-.5 .4-.1 .4-.3 .4-.2 .3-.4 .4 .1 .4 .3 .4-.2 .4-.2 .4 .2 .3 .5 .4 .1 .4-.7 .4-.5 .4-1.2 .4-.4 .3-.4 .4-.4 .4-.4 .4 .4 .4 .3 .4 .3 .3-.6 .4-.8 .4-1.6 .4-.7 .4 .1 .3 1.2 .4 0 .4-.7 .4-.2 .4-.1 .4 .2 .3-.8 .4-.8 .4 .4 .4 .3 .4 1.5 .4 .3 .3 .6 .4-.3 .4-.2 .4-.5 .4-.1 .4 .5 .3 .9 .4 .8 .4 .1 .4-.1 .4 .2 .3-.2 .4 .3 .4-.3 .4 .5 .4-.5 .4-.2 .3 .2 .4 0 .4-.6 .4-.5 .4 .6 .4 0 .3 .5 .4-.7 .4 1.3 .4-.7 .4 .3 .3-.6 .4 .2 .4 .5 .4 .8 .4 .4 .4-1 .3-.8 .4-.8 .4-.2 .4-.6 .4 .9 .4 .9 .3 1.1 .4-1 .4-.3 .4-.6 .4-.3 .3 0 .4 .3 .4 1.2 .4-.6 .4-.7 .4-.5 .3 .5 .4 .5 .4-.2 .4-.6 .4 .3 .4 .4 .3 .1 .4-.8 .4-.3 .4 .3 .4-.1 .4 0 .3 .6 .4 .8 .4-.3 .4-.7 .4-.6 .3 1 .4-.6 .4 0 .4-.6 .4 .4 .4 .2 .3 0 .4 .9 .4 .2 .4-.5 .4-.9 .4-.1 .3 .1 .4-.8 .4-.4 .4-.3 .4 .8 .4 .6 .3-.4 .4-.1 .4-1.1 .4 .1 .4-1.1 .3 .5 .4-.1 .4 .9 .4 .3 .4 1 .4-.6 .3-.1 .4-1.8 .4-.5 .4-1.1 .4 .8 .4 0 .3 .5 .4 .5 .4 .6 .4-.6 .4-.5 .3-.6 .4 .7 .4-.4 .4-.5 .4-.8 .4 1.2 .3 .6 .4 0 .4-1.4 .4-.4 .4-.5 .4 .8 .3 .2 .4 .5 .4-1.1 .4 .4 .4-.3 .3 1.2 .4-1.6 .4-.6 .4-.7 .4-.1 .4-.5 .3-1 .4-.7 .4-.8 .4-1.1 .4-.1 .4-.3 .3-.4 .4-.2 .4-.5 .4 .7 .4 .7 .4 2.4 .3 1.2 .4 .4 .4-1.5 .4-.4 .4 .7 .3 .3 .4-.3 .4-1.2 .4-.3 .4 .7 .4 .4 .3 .3 .4-.9 .4 .2 .4-.3 .4-.1 .4 .5 .3 0 .4 .1 .4-.8 .4 .3 .4-.2 .4-1.1 .3-.6 .4 .6 .4 .6 .4-.2 .4 0 .3-.7 .4-.3 .4-1.5 .4-.3 .4-1.4 .4-.8 .3-1.1 .4-1.1 .4-2 .4-1.4 .4-.9 .4-1.1 .3-1.5 .4-1.3 .4-1.4 .4-1.5 .4-1.1 .3-.7 .4-2.1 .4-1.9 .4-1.5 .4-.9 .4-2 .3-2.6 .4-2.2 .4-.9 .4 .5 .4 .7 .4-.1 .3-1 .4 .6 .4 1.7 .4 2.1 .4 2.2 .3 1.9 .4 .9 .4 .8 .4 1.9 .4 3.5 .4 2.3 .3 1.5 .4 1.1 .4 2.9 .4 1.9 .4 1.9 .4 .1 .3 2.1 .4 .3 .4 1.5 .4-.7 .4 1.1 .4-.3 .3 .9 .4 .4 .4 .9 .4-.5 .4 .2 .3-.2 .4 .3 .4 .2 .4 .2 .4 .5 .4-1 .3 .3 .4-.3 .4 1.1 .4 .4 .4-.1 .4-.7 .3-.9 .4 1.4 .4-.3 .4 .1 .4-1.3 .4-.2 .3-.2 .4 0 .4 1.4 .4 .4 .4-.4 .3 .4 .4-.2 .4 .6 .4-.6 .4-.2 .4-.2 .3 .3 .4 .8 .4-.3 .4-.9 .4 .4 .4 .6 .3 .1 .4-1.3 .4-.6 .4 .4 .4 .2 .3 .6 .4-.4 .4 .3 .4-.8 .4-.4 .4-.7 .3 .3 .4 .6 .4 .4 .4-.9 .4 0 .4 0 .3 .9 .4 .4 .4-.2 .4-.3 .4-.5 .3 .6 .4 .4 .4 .2 .4 .4 .4 .1 .4-.6 .3-.9 .4-.1 .4 .1 .4 .3 .4 .1 .4 .3 .3-.3 .4-1 .4 0 .4 0 .4 .5 .4 .6 .3-.6 .4-.5 .4-.5 .4 .8 .4 .6 .3-.2 .4 0 .4 .7 .4 .2 .4-.1 .4-1.2 .3 0 .4-.3 .4 .5 .4 .4 .4 .3 .4-.7 .3-1.1 .4 .1 .4 .7 .4 .6 .4-.8 .4-.3 .3 0 .4-.1 .4 .6 .4-.3 .4-.3 .3-.5 .4 0 .4 .1 .4 .4 .4-.1 .4 .6 .3 .4 .4 .3 .4-.3 .4 .2 .4 .7 .4 .2 .3-.8 .4-.8 .4-.8" fill="none" stroke="#7fd8cf" stroke-width="1.35" stroke-linejoin="round"/>
<path d="M53.0 789.0l.4-.8 .4-.1 .4 .1 .4 .4 .4-1 .3-.1 .4 .1 .4 .4 .4-.4 .4-.5 .4 .2 .3 .4 .4 .6 .4-.4 .4-.3 .4-.7 .4 0 .3-.6 .4-.1 .4-.1 .4 .4 .4 .4 .3 .2 .4 .1 .4-.9 .4-.1 .4 0 .4 .4 .3-.5 .4 0 .4 .8 .4 .3 .4-1 .4-.8 .3-.6 .4 .2 .4-.7 .4 .3 .4 .1 .4-.5 .3-.7 .4 .7 .4 .1 .4-.6 .4-1 .3 .1 .4 1.1 .4-.2 .4 .2 .4-.2 .4-.4 .3-.2 .4-.4 .4 .1 .4 1.2 .4 .2 .4 1.1 .3-.6 .4 .3 .4-.1 .4-.1 .4 .6 .3-.1 .4-.2 .4 0 .4-.2 .4 1.1 .4-.5 .3 .8 .4-.2 .4 .8 .4-.7 .4 0 .4-.4 .3 0 .4-.7 .4-.4 .4 .2 .4-.2 .3-.1 .4 0 .4-.1 .4 .7 .4 .1 .4 .2 .3-.6 .4-.2 .4 .6 .4 .6 .4 .4 .4-.4 .3-.2 .4 .4 .4 .3 .4-1 .4-1 .4-1 .3 .8 .4 .4 .4 1 .4-.7 .4 .2 .3-.1 .4 .4 .4 .2 .4 .2 .4 .5 .4-.4 .3-.5 .4 0 .4-.2 .4 .5 .4-.3 .4 .2 .3 0 .4 .6 .4 0 .4-.2 .4-1.4 .3-.7 .4-.6 .4 1 .4-.1 .4 .1 .4-.3 .3-.1 .4 .2 .4-.1 .4 .6 .4 .5 .4-.3 .3 .5 .4-.5 .4 1 .4-.6 .4 .5 .4-.8 .3 .2 .4-.3 .4 .7 .4 0 .4 .1 .3-.8 .4-.4 .4 0 .4 0 .4 0 .4-.8 .3 .1 .4 .5 .4 .6 .4 .3 .4-1.2 .4-.7 .3 .7 .4 1.3 .4-.3 .4-1 .4-1.3 .3-.2 .4 .4 .4-.6 .4-.7 .4-2.7 .4-3.1 .3-2.4 .4-.4 .4 2.8 .4 1.5 .4 1.3 .4 .8 .3 1 .4 0 .4 .1 .4-.4 .4 0 .4-2 .3-.7 .4-1.8 .4-.3 .4-1 .4 .4 .3-.8 .4 1 .4 .5 .4 1.6 .4 .4 .4 .2 .3-1.3 .4-.1 .4-.7 .4 .3 .4-.4 .4 .3 .3 .1 .4 .3 .4 .3 .4 .6 .4-.4 .4-.5 .3-1.5 .4-.8 .4-.4 .4 1 .4-1.3 .3-1.2 .4-3.6 .4-3.1 .4-5.3 .4-5.2 .4-6.7 .3-7 .4-7.9 .4-7.6 .4-5.7 .4-3.7 .4-.4 .3 1.9 .4 6.3 .4 7.1 .4 8.2 .4 5.2 .3 8.5 .4 5.9 .4 5.7 .4 2.3 .4 2.1 .4 1.8 .3 1 .4 2.1 .4 .4 .4 0 .4-1.3 .4 .2 .3-.4 .4-.2 .4 .4 .4 .2 .4 1.3 .3 .3 .4 .2 .4-.8 .4-.5 .4 .7 .4 .7 .3-.1 .4-.2 .4-1 .4-.3 .4 .2 .4 .5 .3 .6 .4-.5 .4 0 .4 .2 .4 .4 .4 .1 .3-.4 .4 .4 .4-.2 .4-.6 .4-1.1 .3 0 .4 1.1 .4-.7 .4-.7 .4-1.3 .4 .7 .3 .1 .4 .7 .4 .3 .4-.4 .4-1.2 .4-1.1 .3-.4 .4-.2 .4-.6 .4-1 .4-.3 .4 .6 .3 .3 .4 .2 .4 .7 .4 1.3 .4 0 .3-.4 .4 .4 .4 .6 .4-.1 .4-.8 .4 .2 .3 .2 .4 .2 .4-.4 .4-.3 .4-.6 .4 1 .3 .3 .4 .5 .4-1.2 .4-1 .4-.2 .3 .1 .4 1.4 .4 .1 .4-.2 .4-1.3 .4 0 .3-.1 .4 .7 .4 .2 .4-.2 .4-.4 .4 0 .3 .3 .4-.3 .4-.4 .4-.8 .4 .4 .3-.3 .4-.3 .4-.4 .4 .2 .4 0 .4 .6 .3-.3 .4 .5 .4-2 .4-.9 .4-.9 .4 .2 .3 0 .4-.3 .4-.2 .4-.3 .4 .5 .4 .5 .3 .5 .4-.7 .4-.9 .4-1.1 .4 .5 .3-.6 .4 .3 .4-.3 .4-.1 .4-.2 .4-.2 .3 .1 .4-.3 .4-.2 .4 .1 .4-.1 .4 0 .3-.1 .4 .8 .4 .5 .4 .5 .4-.2 .4-.4 .3 .2 .4 0 .4 .7 .4 .3 .4 .4 .3-.4 .4-.2 .4 .1 .4-1 .4 .8 .4 .2 .3 .1 .4-.5 .4 0 .4 .6 .4 0 .4-.3 .3 .6 .4-.1 .4 0 .4-.6 .4-.1 .3 .5 .4 .1 .4 1.1 .4 .1 .4 .2 .4-1 .3-.8 .4-.1 .4-.1 .4-.5 .4-.5 .4 .1 .3 1.1 .4 .5 .4 .2 .4-.4 .4-.7 .3 .1 .4 .2 .4 0 .4 .1 .4 0 .4 .1 .3-.2 .4 .6 .4 .1 .4-.2 .4-1.5 .4 .2 .3-.4 .4 .6 .4-.7 .4 .6 .4-.5 .4 .7 .3-.1 .4-.2 .4 0 .4-.7 .4 1 .3-.7 .4-.2 .4-1.1 .4 .6 .4 .4 .4 1.6 .3-.7 .4 .8 .4-1.2 .4 .5 .4-.6 .4-.1 .3 .4 .4-.9 .4-.8 .4-.8 .4 .4 .4 1 .3 .1 .4-.2 .4 .1 .4-.2 .4 .2 .3-.4 .4 .6 .4-.8 .4 .2 .4-.1 .4 .8 .3-1.1 .4-.5 .4-.6 .4 .4 .4 .2 .4-.6 .3 .1 .4 .4 .4 .5 .4 .1 .4-.6 .3-.7 .4-.2 .4-1.1 .4-.2 .4-.6 .4 .3 .3 .3 .4 .3 .4-.1 .4 .4 .4-.4 .4 .5 .3-.2 .4-.1 .4-.8 .4-.2 .4-.2 .3-.1 .4 .4 .4-.4 .4 0 .4-1.6 .4 .3 .3-.7 .4 .3 .4-1.5 .4-1.2 .4-.7 .4-.2 .3 .8 .4-.6 .4 .6 .4-.1 .4 .6 .4 .1 .3 .3 .4 .3 .4 .9 .4 .6 .4 0 .3-.6 .4-.3 .4-.4 .4-.5 .4-.6 .4-.1 .3 .1 .4-.3 .4 .1 .4 .4 .4 .4 .4 .3 .3 .4 .4-.2 .4-.3 .4-1 .4 .6 .4-.4 .3 .2 .4-2 .4 .1 .4-1.1 .4 1 .3-.8 .4 .2 .4-1 .4-.2 .4-.8 .4-1.2 .3-1.9 .4-1.8 .4-.9 .4-1.1 .4-1 .4-.6 .3-1.1 .4-.7 .4-1.6 .4-.9 .4-1.6 .3-1.8 .4-1.4 .4-1.2 .4-1.9 .4-1.6 .4-2.5 .3-1.4 .4-1.9 .4-.3 .4 .8 .4 .3 .4-.1 .3-.4 .4 .3 .4 .9 .4 1.4 .4 1.2 .3 2.4 .4 .8 .4 3.3 .4 1.6 .4 3 .4 1.3 .3 2.4 .4 1.4 .4 1.8 .4 .9 .4 .4 .4 1.7 .3 1.3 .4 2 .4-.7 .4 .3 .4 .6 .4 1.6 .3 .2 .4 .1 .4 .2 .4 .3 .4 .5 .3-.4 .4 .2 .4-.8 .4 .1 .4 0 .4 .6 .3 .4 .4 .3 .4-.2 .4 .4 .4-.2 .4-.3 .3 .2 .4 .3 .4-.1 .4-1.1 .4 .2 .4 .1 .3 .6 .4-.2 .4-.4 .4-.3 .4 .6 .3 .2 .4-.1 .4-.3 .4 0 .4 .2 .4-1.5 .3 .6 .4 0 .4 .7 .4-.6 .4 .3 .4-.6 .3 .2 .4-.7 .4 1 .4-.2 .4 .3 .3-.1 .4 .1 .4-.4 .4-.1 .4 .2 .4 .3 .3-.6 .4 .7 .4 .2 .4 .7 .4-1.4 .4-.2 .3 .4 .4 .8 .4-.4 .4-1 .4 .1 .3 .3 .4 0 .4-.5 .4 .3 .4 .4 .4 .1 .3-.5 .4 .1 .4-.5 .4 .6 .4-.9 .4 0 .3-.4 .4 .6 .4 .6 .4-.6 .4 .2 .4-.1 .3 .5 .4-.3 .4-.8 .4-.7 .4 .4 .3 .2 .4 .6 .4-.3 .4-.5 .4-.3 .4-.2 .3 .7 .4-.2 .4-.6 .4 0 .4 .1 .4 1.9 .3 0 .4 .4 .4-1.3 .4-.4 .4-.1 .4-.1 .3 .8 .4 .2 .4 .4 .4-.1 .4-1 .3-.4 .4-.5 .4-.5 .4 .1 .4-1.3 .4 1.1 .3-.6 .4 1 .4 .4 .4 .7 .4 0 .4-1 .3 0 .4-.1 .4 1.5" fill="none" stroke="#22a3a0" stroke-width="0.9" stroke-linejoin="round"/>
<path d="M53.0 783.0l.4 .1 .4-.3 .4-.1 .4 .6 .4 .7 .3 0 .4 .1 .4-.8 .4 0 .4 .1 .4 .2 .3-.2 .4-.4 .4 .4 .4 .1 .4-.1 .4-.7 .3-.2 .4 .5 .4 .5 .4 0 .4 .3 .3-.5 .4 .6 .4-.6 .4-.3 .4-.3 .4-.2 .3 .4 .4 0 .4 0 .4 0 .4-1 .4-.7 .3-.2 .4 .7 .4 0 .4-.1 .4 .3 .4 .1 .3 .1 .4-1.1 .4 .3 .4-.6 .4 1.1 .3-.3 .4 .8 .4-.2 .4-.2 .4 0 .4-.4 .3 .6 .4-.5 .4-.1 .4 .7 .4-.1 .4 .4 .3-1.6 .4 0 .4-.6 .4 1.9 .4-.3 .3 .4 .4-.4 .4 .7 .4-.5 .4 .2 .4-.3 .3 .7 .4-.4 .4 .6 .4 .2 .4-.3 .4-.3 .3-.7 .4-.5 .4 .3 .4 0 .4 1 .3-.4 .4 .9 .4-.2 .4 0 .4-.1 .4-.4 .3 .8 .4 0 .4 0 .4-1.2 .4 .2 .4-.4 .3 .4 .4-1.3 .4 .7 .4 .3 .4 .8 .4 .3 .3-.3 .4 .2 .4-1 .4-.1 .4 .5 .3 1 .4 .5 .4 .3 .4 .4 .4-1.2 .4-.5 .3-1.4 .4 1.1 .4-.1 .4 1.1 .4-.8 .4 0 .3-1.3 .4 .7 .4-.6 .4 0 .4 .3 .3 .4 .4 1 .4-.2 .4 .1 .4-.7 .4-1 .3 .2 .4-.1 .4 .3 .4-.1 .4 .7 .4 .2 .3-1.4 .4 0 .4 .1 .4 1.7 .4-.9 .4-.8 .3-.9 .4-.3 .4 .7 .4-.1 .4 1.1 .3-.7 .4 .1 .4-.1 .4 .2 .4 1 .4 .3 .3 .9 .4 0 .4-.1 .4-.6 .4-1.1 .4-.4 .3 .2 .4 .4 .4-.1 .4-.6 .4-.1 .3-.5 .4-.1 .4-.5 .4-1.8 .4-3 .4-3.8 .3-3 .4-1.1 .4 2.4 .4 3.4 .4 3.1 .4 2 .3 .6 .4 .5 .4-1.9 .4-.1 .4-.8 .4 0 .3-2.1 .4-2.9 .4-2.1 .4-1.3 .4 .5 .3 1.6 .4 3.1 .4 1.9 .4 2.2 .4 .2 .4-.3 .3-1.1 .4-.3 .4 .8 .4 .4 .4 .2 .4 .1 .3 .5 .4-.8 .4-1.4 .4-.8 .4-.1 .4 .9 .3-.7 .4 .4 .4-1.6 .4-.9 .4-1.7 .3-2.3 .4-4.2 .4-5.6 .4-6.4 .4-7.8 .4-10.2 .3-11.8 .4-12.3 .4-10.1 .4-8.9 .4-4.7 .4-2.4 .3 4.2 .4 7.3 .4 11.2 .4 12.3 .4 11.8 .3 9.9 .4 8.1 .4 7 .4 5.7 .4 4 .4 3.3 .3 1.9 .4 2.1 .4 .4 .4 .5 .4-.3 .4-.3 .3 0 .4 1.3 .4 0 .4 0 .4-1.5 .3 1 .4-.3 .4-.3 .4 .4 .4-.2 .4 1 .3-.3 .4 .5 .4-1.3 .4 .4 .4 .3 .4 .8 .3-1 .4-.3 .4-.2 .4 .7 .4-.4 .4-.3 .3 0 .4 .6 .4 .2 .4-.6 .4-.6 .3 .6 .4 .3 .4 .3 .4-1.1 .4-.2 .4-.2 .3 .7 .4-.3 .4-1.1 .4-.3 .4-.7 .4-.6 .3-2.4 .4-1.2 .4-1.1 .4 .2 .4 .8 .4 1.4 .3 1 .4 .2 .4 .4 .4 .7 .4 0 .3 1.4 .4 .6 .4 0 .4-1 .4-.1 .4 1.5 .3-.2 .4-.6 .4-.8 .4 .8 .4 .2 .4 .4 .3-.7 .4 .6 .4-.4 .4-.5 .4-.1 .3-.2 .4-.1 .4-1 .4 .4 .4 .5 .4 .5 .3-.1 .4 .4 .4-.3 .4 .4 .4 .1 .4-.7 .3 .3 .4-1.4 .4 1.5 .4-1.3 .4 .6 .3-.3 .4 .5 .4 .3 .4-.3 .4-.7 .4-.1 .3 .2 .4-.2 .4-.9 .4-.9 .4 .3 .4-.3 .3-.4 .4-.3 .4 .3 .4-.5 .4-.9 .4-.7 .3-1.1 .4 .3 .4-.1 .4 .3 .4-.2 .3-.3 .4 .6 .4-.2 .4 .7 .4 0 .4 .6 .3 .2 .4-.7 .4-.2 .4-.5 .4 .4 .4 .6 .3-.6 .4-.2 .4 .2 .4 .1 .4 .7 .4-.9 .3 .6 .4 .6 .4 1.3 .4 .7 .4 0 .3-.9 .4-.6 .4-.2 .4-.1 .4 1.1 .4 .7 .3 1.1 .4-.7 .4 .2 .4-.2 .4-.5 .4-1.1 .3-.8 .4 .8 .4 .8 .4 .5 .4 .2 .3-.4 .4 .1 .4-.6 .4-.6 .4-.7 .4-.1 .3 .6 .4 .3 .4 .5 .4 .3 .4 .9 .4 0 .3-.6 .4-.9 .4-.3 .4 0 .4 .5 .3-.7 .4 .1 .4-.1 .4 .4 .4 .1 .4-.3 .3-.4 .4 .3 .4 .2 .4 .7 .4-.4 .4-.9 .3-.5 .4-.5 .4 1.8 .4 .1 .4 .4 .4-1.3 .3 .2 .4 .3 .4-.1 .4 .1 .4-.3 .3 .5 .4 0 .4-.3 .4-.6 .4 0 .4 .1 .3 .4 .4-.4 .4 .2 .4 0 .4 .3 .4-.1 .3-.3 .4-.7 .4-.2 .4-.6 .4 .3 .4-.2 .3 .3 .4-.3 .4 .3 .4 0 .4 0 .3-.1 .4-.4 .4 .2 .4-.1 .4 .3 .4 .8 .3 .1 .4 .8 .4-.8 .4-.4 .4-.4 .4 .3 .3-.2 .4-.2 .4-.1 .4-.2 .4 .2 .3-.1 .4-.4 .4-.6 .4 .4 .4-.2 .4 .4 .3-1.5 .4 .5 .4-.8 .4 1.3 .4 .3 .4 .6 .3-.6 .4-.1 .4-.1 .4-.3 .4-.1 .3-.4 .4-.3 .4 .3 .4-.2 .4 .1 .4-1.4 .3-1.3 .4-1.1 .4-1.3 .4-1.6 .4-2.3 .4-.7 .3 .1 .4 1.2 .4 1.1 .4 2 .4 1.3 .4 .9 .3 .8 .4 .4 .4 1.1 .4 .4 .4 0 .3-.3 .4-.2 .4 .1 .4-.4 .4-.3 .4-.5 .3 .5 .4 .3 .4 .2 .4 0 .4-.6 .4 1 .3 0 .4 .3 .4-.6 .4-1.1 .4 .2 .4-.2 .3 .3 .4-.5 .4-.8 .4-.1 .4-.3 .3 .2 .4-1.4 .4-1.2 .4-1.7 .4-1 .4-1 .3-1.7 .4-1.7 .4-2.7 .4-1.7 .4-1.1 .4-.9 .3-2.1 .4-1.5 .4-1.3 .4-1.3 .4-3.2 .3-2.9 .4-2 .4-2.8 .4-2.3 .4-3.3 .4-2.1 .3-2.5 .4-1.7 .4-1.4 .4-.3 .4-.5 .4 .2 .3-.3 .4 1.6 .4 2 .4 2.8 .4 2.4 .3 3.3 .4 2.4 .4 2.7 .4 2.2 .4 4.3 .4 3.5 .3 3.1 .4 1.1 .4 2.5 .4 3.1 .4 3 .4 1.6 .3 .6 .4 .7 .4 .9 .4 1.4 .4 .5 .4 1.2 .3 .6 .4 1.1 .4 .3 .4 .4 .4 .2 .3 .4 .4 .1 .4 .4 .4-1.1 .4-.3 .4 .3 .3 .6 .4 .8 .4-.4 .4 1 .4-.6 .4 .2 .3 0 .4 .1 .4-.4 .4-.6 .4 .1 .4 .9 .3-.1 .4 1 .4-.3 .4-.4 .4-.3 .3 .5 .4 1.2 .4-.7 .4-.6 .4-.8 .4 .2 .3 .4 .4 .1 .4 .2 .4-.6 .4-.2 .4-.4 .3-.2 .4 1.1 .4 .4 .4 .4 .4 0 .3-.6 .4-.4 .4-.6 .4 .3 .4 .5 .4 .7 .3 .5 .4 0 .4-.4 .4-.2 .4-.2 .4 .6 .3 .3 .4 .1 .4-.9 .4 .4 .4-.1 .3 .2 .4-.6 .4 .1 .4 .5 .4 0 .4 .2 .3 .4 .4-.5 .4-.2 .4-.4 .4 0 .4 .3 .3-.5 .4 1.2 .4 .2 .4-.2 .4-1.2 .4-1 .3-.1 .4-.1 .4 1 .4 1.1 .4 1.7 .3-.3 .4-.4 .4-1.6 .4 .2 .4-.7 .4 1.2 .3-.8 .4 .7 .4-1.1 .4 .3 .4 .3 .4 .2 .3 .7 .4-.7 .4 .1 .4-.4 .4 .5 .4 .3 .3 .2 .4 .9 .4-.5 .4 .1 .4-1.1 .3 .8 .4-.1 .4 .3 .4-1 .4 .7 .4-.7 .3 1 .4-.7 .4 .6 .4 .1 .4 1 .4-.4 .3 .3 .4-.6 .4-.2" fill="none" stroke="#f7a864" stroke-width="0.9900000000000001" stroke-linejoin="round"/>
<path d="M53.0 784.1l.4-.5 .4-.2 .4-.1 .4 .1 .4-.3 .3 .4 .4 0 .4 .3 .4-.2 .4 .4 .4 .1 .3 .1 .4 .3 .4-.1 .4-.7 .4-.6 .4-.3 .3 .5 .4 .3 .4 .8 .4 .2 .4-1 .3-.6 .4 .4 .4 .6 .4 0 .4-.6 .4 .2 .3 .1 .4-.1 .4 .4 .4 .1 .4-.1 .4-1.1 .3-.8 .4-.9 .4-.3 .4 .9 .4 .5 .4 0 .3-.9 .4 .8 .4 .5 .4 .4 .4-1 .3-.6 .4-.7 .4 .5 .4 .1 .4 .2 .4-.9 .3 .4 .4 0 .4 .5 .4 0 .4-.4 .4-.3 .3-.2 .4 1.2 .4 .7 .4 .3 .4-.8 .3 .5 .4-.2 .4 .7 .4-.1 .4 0 .4-.2 .3-.6 .4 0 .4-.4 .4 .5 .4 .7 .4 .5 .3-.6 .4-.3 .4-.7 .4 0 .4-.3 .3 .6 .4 .3 .4 1 .4 .2 .4 .6 .4-.3 .3-.8 .4-.8 .4-.4 .4 .6 .4 .3 .4 .1 .3-.5 .4 .2 .4 .3 .4 .7 .4-.3 .4-1.3 .3-1.1 .4-1 .4 1.6 .4 1.3 .4 .4 .3-.1 .4-.7 .4 .9 .4-.8 .4 .1 .4-.4 .3-.7 .4-.1 .4 .3 .4 1.5 .4-.4 .4-.1 .3-1 .4 1 .4-.4 .4 1.1 .4-.9 .3-.4 .4-.7 .4 .6 .4 .7 .4 .3 .4 .4 .3 .1 .4-.6 .4-.4 .4-.3 .4-.1 .4-.3 .3-.1 .4 .2 .4-.1 .4-.2 .4 .3 .4-.4 .3-.5 .4 1 .4-.2 .4 .3 .4-.9 .3 .5 .4 .8 .4-.2 .4-.2 .4-.5 .4 1.1 .3 .4 .4-.1 .4-1.6 .4-.3 .4-1 .4 .6 .3 0 .4 .5 .4 .2 .4-.1 .4-1 .3-.3 .4-.5 .4 .2 .4-2.2 .4-2.3 .4-4.4 .3-3 .4-1 .4 3.1 .4 3.4 .4 3.2 .4 1.2 .3 1 .4-.1 .4-.3 .4-1.1 .4-.7 .4-.2 .3-1.1 .4-2.4 .4-2.7 .4-1.7 .4 0 .3 2.3 .4 2.3 .4 2.2 .4 .5 .4 .3 .4 .6 .3 0 .4 .4 .4-1.2 .4 .3 .4-.2 .4 .3 .3-.8 .4 .3 .4 .2 .4 .9 .4-1 .4-.5 .3-.9 .4 .3 .4-.5 .4-1 .4-1.7 .3-2.5 .4-4.4 .4-5.3 .4-6.4 .4-7.9 .4-11 .3-11.6 .4-11.9 .4-11 .4-9.5 .4-6.4 .4-.7 .3 4.3 .4 7.9 .4 11.2 .4 11.3 .4 12.3 .3 9.8 .4 9.5 .4 7 .4 6.1 .4 3.9 .4 2.7 .3 1.9 .4 1.3 .4 .4 .4 .3 .4-.8 .4 .8 .3 .7 .4 1.9 .4-.5 .4-.4 .4-.3 .3 0 .4-.1 .4-.2 .4 .4 .4-.1 .4-.3 .3 .2 .4 .3 .4 .6 .4-.3 .4-.5 .4-.4 .3 1.5 .4 .4 .4-.1 .4-1.6 .4-.5 .4-.8 .3 1.3 .4 .4 .4 .6 .4-.3 .4-.4 .3-.1 .4-.8 .4-.4 .4 .7 .4 .6 .4 .3 .3-.9 .4-.4 .4-.2 .4-.4 .4-1.4 .4-1.3 .3-1.5 .4-.8 .4-1.8 .4-.1 .4 0 .4 1.4 .3-.1 .4-.1 .4 .8 .4 1.3 .4 1.2 .3 .8 .4 .6 .4 1.9 .4-.2 .4 .2 .4-1.4 .3 .1 .4 .2 .4 .4 .4 0 .4-.4 .4-.1 .3-.1 .4-.2 .4-.1 .4-.1 .4 0 .3-.2 .4 .1 .4 .2 .4 .3 .4 0 .4-.1 .3-.9 .4-.2 .4 .3 .4 .1 .4 .2 .4-.8 .3 .4 .4-.3 .4 0 .4 .2 .4-.3 .3 .3 .4-.2 .4 .2 .4-.4 .4 .1 .4-.9 .3-.4 .4-.6 .4 .5 .4-.5 .4-.3 .4-.1 .3-.2 .4-.9 .4 .2 .4 .1 .4-.2 .4-.8 .3-.3 .4 .4 .4-1 .4 .2 .4-.1 .3 .6 .4 .3 .4-.2 .4 .4 .4-1.1 .4-1.1 .3-.7 .4 0 .4 1 .4 .1 .4 .5 .4-1.1 .3-.2 .4 .4 .4 1.2 .4 1.5 .4-.4 .4-.7 .3-.7 .4 .2 .4 1.2 .4 .1 .4 .6 .3-.5 .4 .8 .4 .1 .4 .7 .4-.6 .4 .9 .3-1 .4-.5 .4-.8 .4 1.5 .4 0 .4-.2 .3-.6 .4 .9 .4 .2 .4-.7 .4-.1 .3-.1 .4 .4 .4-.2 .4 .5 .4 .1 .4 .6 .3-.8 .4 .4 .4-.5 .4 .1 .4 .5 .4 .4 .3 .3 .4-.8 .4-.6 .4-.4 .4-.6 .3-.1 .4 .1 .4 .7 .4 .1 .4-.3 .4-.3 .3-.3 .4-.5 .4 .8 .4 .4 .4 .7 .4-1.9 .3 .4 .4 .2 .4 .8 .4-.9 .4 .6 .4 .5 .3 .4 .4-.3 .4 .1 .4-.9 .4-.6 .3-.7 .4 1 .4-.4 .4 .6 .4-.3 .4-1 .3-.1 .4-.6 .4 1.7 .4-1 .4 .8 .4-.7 .3 .7 .4-.7 .4 .1 .4 .3 .4 1.3 .4-.4 .3 .1 .4-.4 .4 .6 .4-.4 .4-.4 .3-.4 .4-.2 .4-.6 .4-.1 .4-.8 .4 .6 .3 .1 .4 .4 .4 .4 .4 .4 .4 .1 .4-.8 .3-.6 .4-.3 .4-.2 .4 .1 .4 .2 .3 .1 .4-.7 .4-.6 .4 .3 .4 .4 .4-.8 .3 .2 .4-.2 .4 1.7 .4-.4 .4 .1 .4-1.2 .3-.4 .4-.4 .4 .9 .4 0 .4-.3 .3-.9 .4 .3 .4 .9 .4 .2 .4-.9 .4-1.1 .3-1.3 .4-1.5 .4-1.2 .4-2.2 .4-1.1 .4-1.3 .3 1.2 .4 1.1 .4 1 .4 1.5 .4 1.3 .4 1.3 .3 1.1 .4 .9 .4 .1 .4-.8 .4-1 .3-.4 .4 .4 .4 1.3 .4 .2 .4-.6 .4-1.1 .3 .1 .4-.1 .4 .6 .4-.1 .4-.7 .4 0 .3-.5 .4 .8 .4-.6 .4 .8 .4 .2 .4-.5 .3 0 .4-.7 .4 .3 .4-1.7 .4-.2 .3-.6 .4-.6 .4-1 .4-1.1 .4-1.1 .4-1.9 .3-2 .4-1.1 .4-1.6 .4-2 .4-2 .4-2.2 .3-.9 .4-.5 .4-1.5 .4-2.9 .4-3.3 .3-2.6 .4-1.4 .4-2.8 .4-1.9 .4-3 .4-3 .3-2.4 .4-1.1 .4-1 .4-1.6 .4-.6 .4 1 .3 1.8 .4 1.1 .4 1 .4 1.8 .4 1.2 .3 1.7 .4 3.5 .4 3.3 .4 3.8 .4 2.5 .4 3.1 .3 3.5 .4 2.7 .4 3.3 .4 2 .4 1.5 .4 1.5 .3 1.7 .4 2.5 .4 1.1 .4 .9 .4 1 .4 .7 .3 1 .4-.2 .4 .5 .4-.2 .4-.1 .3 .7 .4 .4 .4 .4 .4-.3 .4-.6 .4 .2 .3 .1 .4-.1 .4 .4 .4 .4 .4 .3 .4-.1 .3 .3 .4 .7 .4-.2 .4-.8 .4-.5 .4-.3 .3 0 .4-.1 .4 .2 .4 .6 .4 .2 .3-.4 .4-.7 .4-.2 .4 .8 .4 .7 .4 .3 .3-.7 .4-.9 .4-.5 .4 1.3 .4 .8 .4 .5 .3-.7 .4-.4 .4 .2 .4 .3 .4 .8 .3-.9 .4-.9 .4-.5 .4 .5 .4 .7 .4 .8 .3 .2 .4-.2 .4 0 .4 .3 .4-.4 .4-.8 .3 .1 .4 .5 .4 .7 .4-.5 .4 .7 .3-.1 .4 .5 .4-.6 .4-.7 .4-1.2 .4 .2 .3 1.1 .4 1 .4-.8 .4-.3 .4-.5 .4 .9 .3 .1 .4 .7 .4-.3 .4-.5 .4-.4 .4 0 .3-.1 .4 .2 .4-.3 .4-.1 .4-.2 .3 .6 .4 .7 .4-.1 .4-.3 .4 .7 .4 .6 .3 .3 .4-.7 .4-.7 .4 .1 .4 0 .4-.7 .3 .1 .4-.3 .4 1.1 .4-.2 .4 .2 .4-.3 .3-.2 .4-.7 .4 .3 .4-.4 .4 1.4 .3-.7 .4 1 .4-.7 .4-.1 .4-1.2 .4-.5 .3 .2 .4 .8 .4-.8 .4 1.2 .4-.7 .4 1.4 .3-.9 .4 .1 .4-.1" fill="none" stroke="#e1762c" stroke-width="0.9900000000000001" stroke-linejoin="round"/>
<path d="M53.0 784.2l.4-.5 .4 .9 .4 .4 .4 .3 .4-.3 .3-.7 .4-.2 .4-.3 .4 .1 .4 .6 .4 .5 .3-.3 .4-1.1 .4-.4 .4 .5 .4 .7 .4-.3 .3-.6 .4 .4 .4 .3 .4-.2 .4-.8 .3 .8 .4 .3 .4 .1 .4-1.6 .4-.6 .4 .5 .3 .3 .4 .5 .4-.4 .4 .4 .4-.4 .4-.8 .3 .2 .4-.3 .4 .5 .4-.8 .4 0 .4-.1 .3 0 .4-.2 .4 .3 .4-.3 .4 .3 .3-1.1 .4 1.3 .4 0 .4 .8 .4-.6 .4 .6 .3-.1 .4-.1 .4-.2 .4 .3 .4-.3 .4-.3 .3-.7 .4-.5 .4 0 .4 .5 .4 1.6 .3 .8 .4 .2 .4-.2 .4-1 .4-.4 .4-.2 .3 .1 .4 .8 .4-.2 .4 .8 .4-.5 .4-.2 .3 .2 .4 .5 .4 .2 .4-1 .4-.4 .3 .6 .4-.4 .4 0 .4-.5 .4 .3 .4-.1 .3-.2 .4 .4 .4 .4 .4 .9 .4-.4 .4-.7 .3-.2 .4 .1 .4 .7 .4-.2 .4 .4 .4 .6 .3-.6 .4-.1 .4-.9 .4-.3 .4-.2 .3 .6 .4 0 .4 .2 .4-.4 .4 .7 .4 0 .3 .2 .4 .1 .4 .2 .4-.6 .4-.8 .4 .1 .3 .7 .4 .3 .4 .1 .4 0 .4-.2 .3-1.1 .4-.5 .4 .2 .4 .6 .4 .1 .4 .2 .3 0 .4 0 .4-.4 .4 .1 .4-.5 .4 0 .3-.1 .4 .6 .4-.4 .4-.6 .4-.7 .4 .2 .3 1.2 .4 .4 .4-.8 .4-.2 .4 .3 .3 1.1 .4 .6 .4-.5 .4 .1 .4-.7 .4-.5 .3 .4 .4-.4 .4 .9 .4-.2 .4-.3 .4 .2 .3-.8 .4 .6 .4-1.1 .4-.2 .4-.9 .3 .4 .4-.8 .4-1.4 .4-3.6 .4-2.9 .4-4.8 .3-4 .4-1.6 .4 3.1 .4 5.3 .4 4 .4 2.4 .3 .8 .4 .9 .4 1.5 .4 0 .4-1.3 .4-1.3 .3-2.4 .4-2.4 .4-4.5 .4-2.4 .4-.3 .3 3.2 .4 3.3 .4 2.7 .4 .4 .4 .2 .4 .5 .3-.1 .4 .4 .4-.6 .4 .4 .4 .1 .4 .1 .3-.2 .4-.3 .4-.2 .4 .2 .4-.4 .4-.5 .3-.3 .4-.5 .4-1 .4-2.8 .4-2.3 .3-3.2 .4-5.3 .4-7.2 .4-10.5 .4-12.1 .4-16.5 .3-17.2 .4-17.7 .4-16.3 .4-12.9 .4-8.1 .4-.3 .3 5.7 .4 11.9 .4 15 .4 17.9 .4 16.8 .3 16.4 .4 12.3 .4 11.6 .4 7.7 .4 6.8 .4 4.2 .3 2.3 .4 1.6 .4-.1 .4 1.5 .4 .8 .4 .6 .3 .5 .4-.8 .4 0 .4 .1 .4 .2 .3 .4 .4-.4 .4 .5 .4-.2 .4-.1 .4 0 .3 .5 .4 .1 .4 .5 .4 0 .4 .1 .4-.4 .3 .4 .4 0 .4 .4 .4-.3 .4 0 .4-.1 .3-.8 .4-.5 .4-.9 .4 0 .4 .6 .3 .3 .4 .5 .4-.6 .4 0 .4 .2 .4 .4 .3 .1 .4-.4 .4-1 .4-1.2 .4-.9 .4-1 .3-1.1 .4-1.5 .4-1.8 .4-.3 .4-.4 .4 .7 .3 .5 .4 1.1 .4 .9 .4 1.1 .4 1.1 .3 1.3 .4 .6 .4 .3 .4 .5 .4 .2 .4 .5 .3 .4 .4-.5 .4-1.1 .4-2.1 .4-.1 .4 .7 .3 .9 .4 .5 .4 .5 .4 .7 .4-.4 .3-.5 .4-.2 .4 .7 .4 0 .4-.2 .4-.3 .3-.3 .4-.3 .4 .3 .4 .5 .4-.1 .4-.5 .3-.4 .4 .1 .4 .1 .4-1.1 .4 .2 .3-.5 .4 .8 .4-.4 .4-.2 .4-.5 .4-.4 .3 .3 .4 .2 .4 .2 .4-.3 .4-.4 .4-.8 .3 0 .4-.1 .4 .6 .4-.8 .4 0 .4-1.1 .3-.4 .4-.7 .4 .5 .4-.2 .4 .1 .3-.4 .4 .5 .4-.3 .4-.4 .4-.5 .4 0 .3 1 .4-.5 .4-.6 .4-1 .4 .8 .4 .7 .3 1.4 .4-.1 .4-.7 .4-.5 .4-.3 .4 1 .3 .1 .4 1 .4 0 .4-.3 .4-.1 .3 .5 .4 .2 .4 .3 .4 .4 .4 .4 .4 .1 .3-.2 .4-.4 .4-.6 .4-.6 .4-.2 .4 1.3 .3 .2 .4 .4 .4-1.3 .4 .3 .4 .3 .3-.1 .4-.3 .4-.7 .4 .1 .4 .4 .4-.2 .3 .6 .4-1.4 .4 .4 .4-.1 .4 1.6 .4-.1 .3 .4 .4-.6 .4 .9 .4-.6 .4 .1 .3-1.2 .4-.4 .4-.4 .4 .7 .4 0 .4-.1 .3-.5 .4 .5 .4-.2 .4-.1 .4-.6 .4 .7 .3 .8 .4 .4 .4-.4 .4-.1 .4-.6 .4 .1 .3-.1 .4 .4 .4-.8 .4 .3 .4-.5 .3 .4 .4-1.1 .4 .4 .4 1.1 .4 .4 .4 .7 .3-1.3 .4-.4 .4-.6 .4 .4 .4-.2 .4 .4 .3-.1 .4 .2 .4-1.1 .4-.5 .4-.5 .4 .3 .3-.3 .4 .7 .4-.4 .4 .3 .4 .1 .3 .2 .4 .4 .4-.4 .4 .2 .4-1.1 .4-.1 .3 0 .4 .8 .4-.2 .4-.6 .4-.8 .4-.1 .3-.1 .4 1 .4-.1 .4 .4 .4-.8 .3 1.3 .4-.5 .4 .2 .4-1.6 .4 .5 .4-.9 .3 .4 .4-.7 .4 0 .4-.5 .4 0 .4 .2 .3-.2 .4 .3 .4 .1 .4-.1 .4 .1 .3-.2 .4 .3 .4-.4 .4-.1 .4-1.5 .4-1.3 .3-1.5 .4-1.6 .4-2.5 .4-2.4 .4-1.9 .4-.2 .3 .4 .4 1.5 .4 1.4 .4 2 .4 1.5 .4 2.3 .3 .9 .4 1 .4-.4 .4 .7 .4 .7 .3 .3 .4-1 .4-.5 .4-.5 .4 .9 .4-.5 .3 1.1 .4-1 .4 .3 .4-1.4 .4 .1 .4-.6 .3 0 .4 .1 .4 .6 .4 .3 .4 .4 .4-.1 .3-.2 .4-.7 .4-.7 .4-.3 .4-.6 .3-.4 .4-1.7 .4-1.7 .4-2.9 .4-1.5 .4-2.4 .3-2.1 .4-3.1 .4-2.1 .4-3.1 .4-2.3 .4-2.4 .3-1.5 .4-2.3 .4-2.5 .4-3.2 .4-3.3 .3-3.1 .4-3.7 .4-4.2 .4-3.6 .4-3.8 .4-2.8 .3-3.5 .4-2.2 .4-2.5 .4-2 .4-.8 .4 .5 .3 1.4 .4 1.6 .4 2.8 .4 2.6 .4 4 .3 3.6 .4 4 .4 4.9 .4 4.5 .4 5 .4 3.8 .3 4.3 .4 3 .4 3.5 .4 2.9 .4 3.2 .4 2.4 .3 2.4 .4 2.7 .4 2.6 .4 1.7 .4 1.3 .4 .2 .3 1 .4 1.2 .4 1.2 .4 0 .4-.4 .3-.1 .4 .1 .4 .9 .4 .8 .4 .5 .4-.3 .3-1.3 .4-.2 .4 .6 .4 1.2 .4 .4 .4-.4 .3 .3 .4-.1 .4-.1 .4-.8 .4 .2 .4-.4 .3-.1 .4-.1 .4 .8 .4 .4 .4-.6 .3-.2 .4-.1 .4 .7 .4 .1 .4-.3 .4-.5 .3-.6 .4 1.2 .4 .5 .4-.1 .4-.8 .4-.2 .3 1.1 .4 .3 .4-.2 .4-.6 .4-1 .3 .1 .4 0 .4 1.3 .4-.8 .4 .4 .4-1 .3 1.4 .4-1 .4 .7 .4 0 .4 1.5 .4-.8 .3-.9 .4-1.2 .4-.5 .4 0 .4 .1 .3 1.6 .4 .3 .4 .4 .4-.4 .4 0 .4-.4 .3-.4 .4 .6 .4 .3 .4 .9 .4-.1 .4 .6 .3-.9 .4-1.1 .4-.2 .4 .5 .4 1.2 .4-.4 .3-.7 .4-.6 .4-1.3 .4 .1 .4 .1 .3 1.2 .4 .5 .4 .2 .4 .7 .4 0 .4-.1 .3-.6 .4 .1 .4-.4 .4 .3 .4 0 .4 .1 .3-.1 .4-1.6 .4 .5 .4-.4 .4 1.2 .4-1.4 .3 .1 .4 .3 .4 .8 .4 1 .4-.1 .3-.1 .4-1.2 .4-.3 .4 .4 .4 .1 .4 .6 .3-.2 .4 .1 .4-.4 .4 .2 .4-.2 .4-.2 .3-.2 .4-.1 .4-.6" fill="none" stroke="#b8682a" stroke-width="1.35" stroke-linejoin="round"/>
<path d="M53.0 790.6l.4 .5 .4 .5 .4-.5 .4-.5 .4-.5 .3-.3 .4 0 .4-.3 .4-.4 .4-.5 .4-.5 .3-.5 .4 .3 .4-.4 .4 1.2 .4-.3 .4 .2 .3-1.1 .4-.4 .4 .1 .4-.1 .4 .2 .3 0 .4 .7 .4 .7 .4 1.1 .4-1 .4-1.2 .3-.8 .4 .7 .4 .3 .4 .1 .4-.1 .4-.3 .3-1.1 .4-.7 .4 .2 .4-.2 .4-.4 .4-1 .3 .3 .4 0 .4 0 .4 .2 .4-.7 .3-.4 .4-.5 .4 1 .4 .8 .4-.3 .4-.6 .3-.8 .4 1 .4 .2 .4 .9 .4-.2 .4 .2 .3-1 .4 .3 .4 .6 .4 .4 .4-.5 .3 .3 .4 .1 .4 0 .4-.4 .4 .3 .4 .1 .3-.4 .4 .2 .4 .5 .4 .2 .4-.2 .4 0 .3 .5 .4 0 .4-.4 .4-.7 .4 .5 .3-.3 .4-.6 .4 .2 .4 .6 .4 .7 .4 .6 .3 .3 .4 .8 .4-.6 .4 .3 .4-.2 .4-.2 .3-.4 .4-.7 .4-.1 .4-.4 .4 .3 .4-.1 .3 .4 .4-.2 .4-.4 .4-.6 .4 .7 .3 .1 .4 .5 .4-.4 .4-.2 .4-.7 .4 .6 .3 .6 .4 .3 .4-.8 .4-1.1 .4 0 .4 .1 .3 .4 .4-.5 .4 .2 .4 .2 .4 1.5 .3-.1 .4 0 .4-.6 .4-.3 .4 .7 .4 0 .3 .1 .4-.6 .4-.8 .4 .7 .4-.4 .4 .3 .3 .1 .4 .8 .4 0 .4-1.5 .4-.1 .4 .3 .3 .6 .4 .1 .4-.3 .4-.6 .4-.3 .3 .6 .4 .5 .4-.3 .4 .2 .4-.4 .4-.4 .3-.9 .4 .3 .4 .3 .4 0 .4-.1 .4 .5 .3-.1 .4 .2 .4-.9 .4-.6 .4-.4 .3-.1 .4-1.3 .4-1.6 .4-3.2 .4-3.8 .4-7.5 .3-6 .4-2.6 .4 4.6 .4 7.6 .4 5.7 .4 2.8 .3 .3 .4-.2 .4 1.2 .4-.2 .4-.4 .4-2.1 .3-4.1 .4-4.6 .4-4.5 .4-2.5 .4 .4 .3 2.5 .4 3.8 .4 3.9 .4 2.7 .4 1.1 .4 1 .3-.2 .4 0 .4-.3 .4 .1 .4-.4 .4-.2 .3-.4 .4 .3 .4-.7 .4 0 .4-.6 .4 .3 .3-.2 .4-1.8 .4-2.6 .4-2.2 .4-2.1 .3-3.7 .4-7.7 .4-10 .4-13.3 .4-17.4 .4-19.5 .3-22 .4-22.7 .4-22.7 .4-16.9 .4-10.8 .4-1.1 .3 6.1 .4 15.2 .4 20.8 .4 22.8 .4 23.1 .3 20.7 .4 18.4 .4 14.7 .4 10.1 .4 7.9 .4 5 .3 4 .4 2.5 .4 1.6 .4 1.5 .4 0 .4 .4 .3 .2 .4 .8 .4 .1 .4-.1 .4-.5 .3 .4 .4 .2 .4 0 .4-.3 .4 .5 .4 .5 .3 0 .4-.7 .4-.9 .4 0 .4 .5 .4 .9 .3 0 .4-.2 .4-.2 .4 .3 .4-.4 .4-.3 .3-.3 .4-.6 .4 .9 .4-.2 .4 .5 .3-.9 .4 .5 .4 .2 .4-.8 .4-.9 .4-.8 .3-.1 .4 .3 .4-1.1 .4-.1 .4-1.5 .4-1 .3-2.9 .4-1.9 .4-2.1 .4-1.3 .4-1.2 .4 .9 .3 2.5 .4 2.4 .4 2.3 .4 1.2 .4 1.1 .3 .9 .4 0 .4-.3 .4-.1 .4 .8 .4 .5 .3 0 .4 1 .4 .4 .4 0 .4-1.4 .4-.5 .3 .6 .4 .8 .4 .7 .4-.7 .4 .4 .3-.7 .4 .3 .4-.6 .4 .6 .4-.8 .4-.3 .3-.1 .4 .7 .4-.5 .4-.5 .4-.3 .4-.3 .3-.5 .4-.5 .4 0 .4 .5 .4 .4 .3-.6 .4-.1 .4-.3 .4-.4 .4-.2 .4-.3 .3 .8 .4-.7 .4 .2 .4-.3 .4-.1 .4 .1 .3-.5 .4 .6 .4-1 .4-.6 .4-.6 .4-.8 .3-.4 .4-.4 .4-.2 .4 .4 .4-.5 .3 .6 .4 .1 .4 0 .4-.7 .4 0 .4 .4 .3-.1 .4-.8 .4-.4 .4 .7 .4 .1 .4 0 .3 .5 .4 .9 .4 0 .4-.3 .4-.9 .4-.2 .3 .3 .4-.2 .4 1.1 .4-.2 .4 .5 .3-.8 .4 .1 .4 .3 .4 1.1 .4-.4 .4-.1 .3-.7 .4 1.1 .4 .1 .4 .1 .4-1.1 .4 1.3 .3 0 .4 .8 .4-.9 .4 .4 .4 .1 .3-.3 .4-1 .4-1.2 .4-.2 .4 .6 .4 .6 .3 .7 .4 .4 .4-.1 .4 .2 .4 .3 .4 .8 .3-.1 .4-.7 .4-1.4 .4 0 .4 .8 .3 .6 .4-.4 .4-1.2 .4 .1 .4-.5 .4 .2 .3-.4 .4 .3 .4-.2 .4 .5 .4-.5 .4 .5 .3-.3 .4 .5 .4 .3 .4-.1 .4 .6 .4-.2 .3 .5 .4-.8 .4-.5 .4 0 .4-.9 .3 .8 .4-.4 .4 1.2 .4-.9 .4-.2 .4-.1 .3 .8 .4 .3 .4-.3 .4-.5 .4-.1 .4 1.1 .3-.4 .4-.6 .4-.6 .4 .3 .4 .2 .4-.2 .3-.6 .4-.5 .4-.5 .4 0 .4 0 .3-.1 .4 .6 .4 .1 .4 .4 .4-.4 .4-.3 .3-1 .4-.7 .4 .1 .4 .5 .4 .4 .4-.2 .3-.7 .4-.3 .4-.4 .4 .2 .4 0 .3 .4 .4-.2 .4 .2 .4-.4 .4 .4 .4 .6 .3 0 .4-.5 .4-.4 .4-.5 .4-.5 .4-.9 .3-.5 .4-.2 .4 .1 .4 1 .4 .9 .3-.5 .4 0 .4-1 .4-.7 .4-.8 .4-.8 .3-2 .4-3.8 .4-2.8 .4-2.6 .4-2.6 .4-2.1 .3 .3 .4 2.5 .4 2.4 .4 2.9 .4 2.1 .4 2.2 .3 1.1 .4 1.7 .4 .4 .4 .1 .4-.3 .3 .1 .4 .8 .4-.4 .4 .2 .4-.6 .4 .8 .3-.1 .4 .6 .4-.4 .4 .7 .4-.5 .4 0 .3-1.1 .4-.1 .4-.7 .4 .1 .4 .1 .4-.6 .3 .1 .4-.7 .4-.3 .4-1.3 .4-.8 .3-1.6 .4-1.7 .4-2.7 .4-1.5 .4-2.4 .4-3.1 .3-4 .4-3.4 .4-3.3 .4-3.5 .4-2.9 .4-3 .3-2.9 .4-3.5 .4-4.4 .4-3.4 .4-4.8 .3-4.5 .4-6.2 .4-5.9 .4-5.4 .4-4.9 .4-4.5 .3-4.6 .4-4.4 .4-2.6 .4-1.3 .4 .1 .4-.2 .3 .5 .4 1.9 .4 2.3 .4 4.7 .4 5.1 .3 5.9 .4 6.4 .4 5.7 .4 6.9 .4 6.1 .4 6.8 .3 6 .4 5 .4 5.6 .4 4.1 .4 4.3 .4 3.6 .3 3.6 .4 3.5 .4 1.6 .4 2.4 .4 1.4 .4 1.8 .3 .9 .4 .5 .4 .2 .4 .6 .4 .3 .3 1.3 .4 .6 .4 .3 .4 .5 .4-.2 .4 .4 .3-.6 .4-.4 .4 0 .4 .3 .4 .8 .4 0 .3-.7 .4-1.2 .4 .7 .4-.1 .4 .9 .4-.5 .3 1.3 .4 .1 .4 .4 .4-.8 .4 .2 .3-.3 .4-.2 .4 0 .4 0 .4-.8 .4 0 .3-.4 .4 1.1 .4-.4 .4 .2 .4-.8 .4 .3 .3 .2 .4 .5 .4-.3 .4 .7 .4 .9 .3 .8 .4-1 .4-.5 .4-.7 .4 1.2 .4-.6 .3-1.2 .4-.7 .4 .4 .4 1.5 .4-.1 .4-.2 .3-.6 .4 .5 .4 .2 .4 .6 .4-.6 .3-.2 .4-.2 .4 .3 .4 .1 .4 0 .4-.3 .3 .6 .4 .5 .4 .2 .4-.3 .4-1.1 .4-.2 .3-1.2 .4 0 .4 .5 .4 1.4 .4 1.2 .4-.5 .3-.1 .4-.9 .4 0 .4 .1 .4 .2 .3 .4 .4-.6 .4-.3 .4 0 .4 .3 .4-.2 .3-.2 .4 .2 .4 1 .4-.1 .4-.2 .4-.1 .3-.3 .4-.3 .4-.9 .4 .8 .4 .3 .4-.4 .3-.4 .4-.2 .4 .4 .4-.6 .4 1.3 .3-.5 .4 1.1 .4-1.1 .4 .9 .4 .5 .4-.6 .3 .6 .4-.7 .4 1.2 .4-1 .4 0 .4-1.4 .3 .2 .4 .1 .4 .6" fill="none" stroke="#127b7a" stroke-width="0.9900000000000001" stroke-linejoin="round"/>
<rect x="52.90" y="574.20" width="267.90" height="220.70" fill="none" stroke="#000" stroke-width="1.6"/>
<line x1="49.10" y1="794.90" x2="52.90" y2="794.90" stroke="#000" stroke-width="1.6" stroke-linecap="butt"/>
<text x="43.60" y="798.80" font-size="11.2" text-anchor="end" fill="#1a1a1a">1000</text>
<line x1="50.70" y1="770.31" x2="52.90" y2="770.31" stroke="#000" stroke-width="1.6" stroke-linecap="butt"/>
<line x1="49.10" y1="745.72" x2="52.90" y2="745.72" stroke="#000" stroke-width="1.6" stroke-linecap="butt"/>
<text x="43.60" y="749.62" font-size="11.2" text-anchor="end" fill="#1a1a1a">2000</text>
<line x1="50.70" y1="721.13" x2="52.90" y2="721.13" stroke="#000" stroke-width="1.6" stroke-linecap="butt"/>
<line x1="49.10" y1="696.54" x2="52.90" y2="696.54" stroke="#000" stroke-width="1.6" stroke-linecap="butt"/>
<text x="43.60" y="700.44" font-size="11.2" text-anchor="end" fill="#1a1a1a">3000</text>
<line x1="50.70" y1="671.95" x2="52.90" y2="671.95" stroke="#000" stroke-width="1.6" stroke-linecap="butt"/>
<line x1="49.10" y1="647.36" x2="52.90" y2="647.36" stroke="#000" stroke-width="1.6" stroke-linecap="butt"/>
<text x="43.60" y="651.26" font-size="11.2" text-anchor="end" fill="#1a1a1a">4000</text>
<line x1="50.70" y1="622.77" x2="52.90" y2="622.77" stroke="#000" stroke-width="1.6" stroke-linecap="butt"/>
<line x1="49.10" y1="598.18" x2="52.90" y2="598.18" stroke="#000" stroke-width="1.6" stroke-linecap="butt"/>
<text x="43.60" y="602.08" font-size="11.2" text-anchor="end" fill="#1a1a1a">5000</text>
<line x1="50.70" y1="573.59" x2="52.90" y2="573.59" stroke="#000" stroke-width="1.6" stroke-linecap="butt"/>
<line x1="65.80" y1="794.90" x2="65.80" y2="799.20" stroke="#000" stroke-width="1.6" stroke-linecap="butt"/>
<text x="64.80" y="812.90" font-size="11.2" text-anchor="middle" fill="#1a1a1a">800</text>
<line x1="91.30" y1="794.90" x2="91.30" y2="797.10" stroke="#000" stroke-width="1.6" stroke-linecap="butt"/>
<line x1="116.80" y1="794.90" x2="116.80" y2="799.20" stroke="#000" stroke-width="1.6" stroke-linecap="butt"/>
<text x="115.80" y="812.90" font-size="11.2" text-anchor="middle" fill="#1a1a1a">1000</text>
<line x1="142.30" y1="794.90" x2="142.30" y2="797.10" stroke="#000" stroke-width="1.6" stroke-linecap="butt"/>
<line x1="167.80" y1="794.90" x2="167.80" y2="799.20" stroke="#000" stroke-width="1.6" stroke-linecap="butt"/>
<text x="166.80" y="812.90" font-size="11.2" text-anchor="middle" fill="#1a1a1a">1200</text>
<line x1="193.30" y1="794.90" x2="193.30" y2="797.10" stroke="#000" stroke-width="1.6" stroke-linecap="butt"/>
<line x1="218.80" y1="794.90" x2="218.80" y2="799.20" stroke="#000" stroke-width="1.6" stroke-linecap="butt"/>
<text x="217.80" y="812.90" font-size="11.2" text-anchor="middle" fill="#1a1a1a">1400</text>
<line x1="244.30" y1="794.90" x2="244.30" y2="797.10" stroke="#000" stroke-width="1.6" stroke-linecap="butt"/>
<line x1="269.80" y1="794.90" x2="269.80" y2="799.20" stroke="#000" stroke-width="1.6" stroke-linecap="butt"/>
<text x="268.80" y="812.90" font-size="11.2" text-anchor="middle" fill="#1a1a1a">1600</text>
<line x1="295.30" y1="794.90" x2="295.30" y2="797.10" stroke="#000" stroke-width="1.6" stroke-linecap="butt"/>
<line x1="320.80" y1="794.90" x2="320.80" y2="799.20" stroke="#000" stroke-width="1.6" stroke-linecap="butt"/>
<text x="319.80" y="812.90" font-size="11.2" text-anchor="middle" fill="#1a1a1a">1800</text>
<text x="183.10" y="828.10" font-size="11.2" text-anchor="middle" fill="#1a1a1a">Raman shift/cm<tspan font-size="7.5" dy="-4.2">−1</tspan></text>
<text x="9.30" y="686.00" font-size="11.2" text-anchor="middle" fill="#1a1a1a" transform="rotate(-90 9.30 686.00)">Intensity/a.u.</text>
<line x1="55.60" y1="581.40" x2="75.80" y2="581.40" stroke="#22a3a0" stroke-width="1.3" stroke-linecap="butt"/>
<text x="78.50" y="584.80" font-size="9.6" text-anchor="start" fill="#1a1a1a">10 μM</text>
<line x1="55.60" y1="592.95" x2="75.80" y2="592.95" stroke="#7fd8cf" stroke-width="2.0" stroke-linecap="butt"/>
<text x="78.50" y="596.35" font-size="9.6" text-anchor="start" fill="#1a1a1a">50 μM</text>
<line x1="55.60" y1="604.50" x2="75.80" y2="604.50" stroke="#c4ece5" stroke-width="1.3" stroke-linecap="butt"/>
<text x="78.50" y="607.90" font-size="9.6" text-anchor="start" fill="#1a1a1a">100 μM</text>
<line x1="55.60" y1="616.05" x2="75.80" y2="616.05" stroke="#fcdcc2" stroke-width="1.3" stroke-linecap="butt"/>
<text x="78.50" y="619.45" font-size="9.6" text-anchor="start" fill="#1a1a1a">500 μM</text>
<line x1="55.60" y1="627.60" x2="75.80" y2="627.60" stroke="#f7a864" stroke-width="1.3" stroke-linecap="butt"/>
<text x="78.50" y="631.00" font-size="9.6" text-anchor="start" fill="#1a1a1a">1 mM</text>
<line x1="55.60" y1="639.15" x2="75.80" y2="639.15" stroke="#e1762c" stroke-width="1.3" stroke-linecap="butt"/>
<text x="78.50" y="642.55" font-size="9.6" text-anchor="start" fill="#1a1a1a">5 mM</text>
<line x1="55.60" y1="650.70" x2="75.80" y2="650.70" stroke="#c08a5e" stroke-width="2.0" stroke-linecap="butt"/>
<text x="78.50" y="654.10" font-size="9.6" text-anchor="start" fill="#1a1a1a">10 mM</text>
<line x1="55.60" y1="662.25" x2="75.80" y2="662.25" stroke="#127b7a" stroke-width="1.3" stroke-linecap="butt"/>
<text x="78.50" y="665.65" font-size="9.6" text-anchor="start" fill="#1a1a1a">100 mM</text>
<line x1="118.60" y1="588.20" x2="153.45" y2="588.20" stroke="#5cc6f2" stroke-width="2.3" stroke-linecap="butt" stroke-dasharray="9.0 6.6" stroke-dashoffset="0.00"/>
<line x1="120.20" y1="587.05" x2="120.20" y2="780.00" stroke="#5cc6f2" stroke-width="2.3" stroke-linecap="butt" stroke-dasharray="9.0 6.6" stroke-dashoffset="-8.55"/>
<line x1="152.30" y1="587.05" x2="152.30" y2="780.00" stroke="#5cc6f2" stroke-width="2.3" stroke-linecap="butt" stroke-dasharray="9.1 6.6" stroke-dashoffset="1.75"/>
<line x1="119.05" y1="778.90" x2="153.45" y2="778.90" stroke="#5cc6f2" stroke-width="2.3" stroke-linecap="butt" stroke-dasharray="9.0 6.6" stroke-dashoffset="-0.75"/>
<line x1="152.30" y1="588.20" x2="246.00" y2="613.20" stroke="#5cc6f2" stroke-width="2.3" stroke-linecap="butt" stroke-dasharray="9 6.6"/>
<line x1="152.30" y1="779.30" x2="247.50" y2="696.20" stroke="#5cc6f2" stroke-width="2.3" stroke-linecap="butt" stroke-dasharray="9 6.6"/>
<text x="170.00" y="675.30" font-size="9.8" text-anchor="middle" fill="#3ccbc2" transform="rotate(-90 170.00 675.30)">C–C stretching</text>
<defs><linearGradient id="gIn" x1="0" y1="0" x2="0" y2="1"><stop offset="0" stop-color="#eef595"/><stop offset="0.28" stop-color="#c4eba2"/><stop offset="0.52" stop-color="#8fdbb9"/><stop offset="0.76" stop-color="#5acad0"/><stop offset="1" stop-color="#3ebcd7"/></linearGradient></defs>
<rect x="194.70" y="613.90" width="60.90" height="82.80" fill="url(#gIn)" stroke="none" stroke-width="1"/>
<path d="M194.7 695.5l.4 0 .4 0 .3 0 .4 0 .4-.1 .4 0 .4 0 .4 0 .3 0 .4-.1 .4 0 .4 0 .4 0 .4-.1 .3 0 .4 0 .4 0 .4-.1 .4 0 .4 0 .3-.1 .4 0 .4-.1 .4 0 .4 0 .4-.1 .3-.1 .4 0 .4-.1 .4-.1 .4 0 .4-.1 .3-.1 .4-.1 .4-.1 .4-.2 .4-.1 .4-.2 .3-.2 .4-.3 .4-.3 .4-.3 .4-.4 .4-.5 .3-.5 .4-.6 .4-.7 .4-.8 .4-.8 .4-1 .3-1.1 .4-1.2 .4-1.2 .4-1.4 .4-1.4 .3-1.5 .4-1.5 .4-1.5 .4-1.5 .4-1.3 .4-1.3 .3-1.1 .4-.8 .4-.6 .4-.2 .4 .1 .4 .4 .3 .6 .4 .9 .4 1.1 .4 1.3 .4 1.3 .4 1.4 .3 1.4 .4 1.4 .4 1.3 .4 1.3 .4 1.2 .4 1.2 .3 1.1 .4 .9 .4 .9 .4 .8 .4 .7 .4 .7 .3 .5 .4 .5 .4 .5 .4 .4 .4 .3 .4 .3 .3 .3 .4 .2 .4 .2 .4 .2 .4 .2 .4 .2 .3 .1 .4 .2 .4 .1 .4 .1 .4 .1 .4 .1 .3 .1 .4 .1 .4 .1 .4 0 .4 .1 .3 .1 .4 0 .4 .1 .4 0 .4 .1 .4 0 .3 .1 .4 0 .4 .1 .4 0 .4 .1 .4 0 .3 0 .4 .1 .4 0 .4 0 .4 0 .4 .1 .3 0 .4 0 .4 0 .4 .1 .4 0 .4 0 .3 0 .4 0 .4 0 .4 .1 .4 0 .4 0 .3 0 .4 0 .4 0 .4 0 .4 .1 .4 0 .3 0 .4 0 .4 0 .4 0 .4 0 .4 0 .3 0 .4 0 .4 .1 .4 0 .4 0 .4 0 .3 0 .4 0 .4 0" fill="none" stroke="#2aa3a0" stroke-width="1.0" stroke-linejoin="round"/>
<path d="M194.7 695.4l.4 0 .4-.1 .3 0 .4 0 .4 0 .4 0 .4-.1 .4 0 .3 0 .4 0 .4-.1 .4 0 .4 0 .4-.1 .3 0 .4 0 .4-.1 .4 0 .4 0 .4-.1 .3 0 .4-.1 .4 0 .4-.1 .4-.1 .4 0 .3-.1 .4-.1 .4-.1 .4-.1 .4-.1 .4-.1 .3-.1 .4-.1 .4-.2 .4-.2 .4-.2 .4-.2 .3-.3 .4-.3 .4-.4 .4-.4 .4-.5 .4-.6 .3-.7 .4-.7 .4-.9 .4-1 .4-1.1 .4-1.3 .3-1.3 .4-1.5 .4-1.6 .4-1.8 .4-1.8 .3-1.9 .4-1.9 .4-1.9 .4-1.9 .4-1.8 .4-1.6 .3-1.3 .4-1.1 .4-.7 .4-.3 .4 .1 .4 .5 .3 .8 .4 1.2 .4 1.4 .4 1.6 .4 1.7 .4 1.8 .3 1.7 .4 1.8 .4 1.7 .4 1.7 .4 1.5 .4 1.5 .3 1.4 .4 1.2 .4 1.1 .4 1.1 .4 .9 .4 .8 .3 .7 .4 .7 .4 .5 .4 .5 .4 .5 .4 .3 .3 .4 .4 .3 .4 .3 .4 .2 .4 .2 .4 .2 .3 .2 .4 .2 .4 .2 .4 .1 .4 .1 .4 .2 .3 .1 .4 .1 .4 .1 .4 .1 .4 .1 .3 .1 .4 .1 .4 0 .4 .1 .4 .1 .4 0 .3 .1 .4 0 .4 .1 .4 .1 .4 0 .4 0 .3 .1 .4 0 .4 .1 .4 0 .4 0 .4 .1 .3 0 .4 0 .4 .1 .4 0 .4 0 .4 0 .3 .1 .4 0 .4 0 .4 0 .4 0 .4 .1 .3 0 .4 0 .4 0 .4 0 .4 0 .4 .1 .3 0 .4 0 .4 0 .4 0 .4 0 .4 0 .3 0 .4 .1 .4 0 .4 0 .4 0 .4 0 .3 0 .4 0 .4 0" fill="none" stroke="#e8a060" stroke-width="1.0" stroke-linejoin="round"/>
<path d="M194.7 695.3l.4 0 .4-.1 .3 0 .4 0 .4 0 .4-.1 .4 0 .4 0 .3 0 .4-.1 .4 0 .4 0 .4-.1 .4 0 .3 0 .4-.1 .4 0 .4-.1 .4 0 .4-.1 .3 0 .4-.1 .4 0 .4-.1 .4-.1 .4-.1 .3 0 .4-.1 .4-.1 .4-.1 .4-.2 .4-.1 .3-.1 .4-.2 .4-.2 .4-.2 .4-.2 .4-.3 .3-.3 .4-.4 .4-.4 .4-.5 .4-.6 .4-.6 .3-.8 .4-.9 .4-1 .4-1.1 .4-1.3 .4-1.5 .3-1.5 .4-1.8 .4-1.8 .4-2 .4-2.1 .3-2.2 .4-2.2 .4-2.2 .4-2.2 .4-2 .4-1.8 .3-1.6 .4-1.2 .4-.8 .4-.4 .4 .1 .4 .6 .3 1 .4 1.3 .4 1.6 .4 1.8 .4 2 .4 2 .3 2.1 .4 2 .4 2 .4 1.9 .4 1.8 .4 1.7 .3 1.5 .4 1.5 .4 1.3 .4 1.1 .4 1.1 .4 .9 .3 .9 .4 .7 .4 .7 .4 .5 .4 .5 .4 .5 .3 .4 .4 .3 .4 .4 .4 .3 .4 .2 .4 .2 .3 .3 .4 .2 .4 .1 .4 .2 .4 .2 .4 .1 .3 .1 .4 .2 .4 .1 .4 .1 .4 .1 .3 .1 .4 .1 .4 .1 .4 .1 .4 0 .4 .1 .3 .1 .4 0 .4 .1 .4 .1 .4 0 .4 .1 .3 0 .4 .1 .4 0 .4 0 .4 .1 .4 0 .3 .1 .4 0 .4 0 .4 .1 .4 0 .4 0 .3 0 .4 .1 .4 0 .4 0 .4 0 .4 .1 .3 0 .4 0 .4 0 .4 0 .4 .1 .4 0 .3 0 .4 0 .4 0 .4 0 .4 0 .4 .1 .3 0 .4 0 .4 0 .4 0 .4 0 .4 0 .3 0 .4 0 .4 .1" fill="none" stroke="#e58a3a" stroke-width="1.0" stroke-linejoin="round"/>
<path d="M194.7 694.9l.4 0 .4 0 .3-.1 .4 0 .4 0 .4-.1 .4 0 .4-.1 .3 0 .4 0 .4-.1 .4 0 .4-.1 .4 0 .3-.1 .4-.1 .4 0 .4-.1 .4-.1 .4-.1 .3 0 .4-.1 .4-.1 .4-.1 .4-.1 .4-.1 .3-.2 .4-.1 .4-.1 .4-.2 .4-.2 .4-.2 .3-.2 .4-.2 .4-.3 .4-.3 .4-.3 .4-.4 .3-.5 .4-.6 .4-.6 .4-.7 .4-.9 .4-1 .3-1.2 .4-1.3 .4-1.5 .4-1.7 .4-1.9 .4-2.2 .3-2.3 .4-2.6 .4-2.8 .4-3 .4-3.1 .3-3.2 .4-3.4 .4-3.3 .4-3.2 .4-3 .4-2.8 .3-2.3 .4-1.8 .4-1.3 .4-.5 .4 .2 .4 .8 .3 1.5 .4 2 .4 2.4 .4 2.7 .4 2.9 .4 3.1 .3 3.1 .4 3 .4 3 .4 2.8 .4 2.7 .4 2.5 .3 2.3 .4 2.2 .4 1.9 .4 1.8 .4 1.6 .4 1.4 .3 1.2 .4 1.1 .4 1 .4 .8 .4 .8 .4 .7 .3 .6 .4 .5 .4 .5 .4 .4 .4 .4 .4 .3 .3 .4 .4 .2 .4 .3 .4 .3 .4 .2 .4 .2 .3 .2 .4 .2 .4 .2 .4 .2 .4 .1 .3 .2 .4 .1 .4 .1 .4 .1 .4 .2 .4 .1 .3 .1 .4 .1 .4 .1 .4 0 .4 .1 .4 .1 .3 .1 .4 .1 .4 0 .4 .1 .4 0 .4 .1 .3 0 .4 .1 .4 0 .4 .1 .4 0 .4 .1 .3 0 .4 .1 .4 0 .4 0 .4 .1 .4 0 .3 0 .4 .1 .4 0 .4 0 .4 0 .4 .1 .3 0 .4 0 .4 0 .4 0 .4 .1 .4 0 .3 0 .4 0 .4 0 .4 .1 .4 0 .4 0 .3 0 .4 0 .4 0" fill="none" stroke="#c0763a" stroke-width="1.0" stroke-linejoin="round"/>
<path d="M194.7 694.6l.4-.1 .4 0 .3 0 .4-.1 .4 0 .4-.1 .4 0 .4-.1 .3 0 .4-.1 .4-.1 .4 0 .4-.1 .4-.1 .3-.1 .4 0 .4-.1 .4-.1 .4-.1 .4-.1 .3-.1 .4-.1 .4-.2 .4-.1 .4-.1 .4-.2 .3-.1 .4-.2 .4-.2 .4-.2 .4-.2 .4-.3 .3-.3 .4-.3 .4-.4 .4-.4 .4-.4 .4-.6 .3-.6 .4-.7 .4-.9 .4-.9 .4-1.2 .4-1.3 .3-1.5 .4-1.8 .4-2 .4-2.2 .4-2.6 .4-2.8 .3-3.1 .4-3.5 .4-3.6 .4-4 .4-4.1 .3-4.3 .4-4.4 .4-4.3 .4-4.3 .4-4 .4-3.6 .3-3.2 .4-2.4 .4-1.6 .4-.7 .4 .2 .4 1.1 .3 2 .4 2.6 .4 3.2 .4 3.6 .4 3.9 .4 4 .3 4.1 .4 4 .4 3.9 .4 3.8 .4 3.5 .4 3.4 .3 3 .4 2.9 .4 2.5 .4 2.4 .4 2 .4 1.9 .3 1.7 .4 1.4 .4 1.3 .4 1.1 .4 1 .4 .9 .3 .8 .4 .7 .4 .6 .4 .6 .4 .5 .4 .5 .3 .4 .4 .4 .4 .3 .4 .4 .4 .3 .4 .3 .3 .2 .4 .3 .4 .2 .4 .2 .4 .2 .3 .2 .4 .2 .4 .2 .4 .2 .4 .1 .4 .2 .3 .1 .4 .1 .4 .1 .4 .2 .4 .1 .4 .1 .3 .1 .4 .1 .4 0 .4 .1 .4 .1 .4 .1 .3 0 .4 .1 .4 .1 .4 0 .4 .1 .4 0 .3 .1 .4 .1 .4 0 .4 0 .4 .1 .4 0 .3 .1 .4 0 .4 0 .4 .1 .4 0 .4 .1 .3 0 .4 0 .4 0 .4 .1 .4 0 .4 0 .3 .1 .4 0 .4 0 .4 0 .4 0 .4 .1 .3 0 .4 0 .4 0" fill="none" stroke="#1c8a86" stroke-width="1.0" stroke-linejoin="round"/>
<path d="M 417.60 776.00 C 417.77 772.50 418.22 761.65 418.60 755.00 C 418.98 748.35 419.22 742.02 419.90 736.10 C 420.58 730.18 421.32 726.18 422.70 719.50 C 424.08 712.82 425.90 703.62 428.20 696.00 C 430.50 688.38 432.80 681.65 436.50 673.80 C 440.20 665.95 445.78 655.82 450.40 648.90 C 455.02 641.98 459.58 637.15 464.20 632.30 C 468.82 627.45 473.48 623.27 478.10 619.80 C 482.72 616.33 487.30 613.80 491.90 611.50 C 496.50 609.20 501.08 607.47 505.70 606.00 C 510.32 604.53 514.98 603.62 519.60 602.70 C 524.22 601.78 526.67 601.15 533.40 600.50 C 540.13 599.85 548.90 599.20 560.00 598.80 C 571.10 598.40 584.85 598.27 600.00 598.10 C 615.15 597.93 642.42 597.85 650.90 597.80 " fill="none" stroke="#2a9fa3" stroke-width="1.3"/>
<line x1="417.30" y1="772.61" x2="417.30" y2="778.99" stroke="#f6b88a" stroke-width="0.9" stroke-linecap="butt"/>
<line x1="414.70" y1="772.61" x2="419.90" y2="772.61" stroke="#f6b88a" stroke-width="0.9" stroke-linecap="butt"/>
<line x1="414.70" y1="778.99" x2="419.90" y2="778.99" stroke="#f6b88a" stroke-width="0.9" stroke-linecap="butt"/>
<line x1="417.32" y1="770.74" x2="417.32" y2="777.11" stroke="#f6b88a" stroke-width="0.9" stroke-linecap="butt"/>
<line x1="414.72" y1="770.74" x2="419.92" y2="770.74" stroke="#f6b88a" stroke-width="0.9" stroke-linecap="butt"/>
<line x1="414.72" y1="777.11" x2="419.92" y2="777.11" stroke="#f6b88a" stroke-width="0.9" stroke-linecap="butt"/>
<line x1="417.53" y1="764.17" x2="417.53" y2="770.55" stroke="#f6b88a" stroke-width="0.9" stroke-linecap="butt"/>
<line x1="414.93" y1="764.17" x2="420.13" y2="764.17" stroke="#f6b88a" stroke-width="0.9" stroke-linecap="butt"/>
<line x1="414.93" y1="770.55" x2="420.13" y2="770.55" stroke="#f6b88a" stroke-width="0.9" stroke-linecap="butt"/>
<line x1="418.47" y1="748.91" x2="418.47" y2="756.56" stroke="#f6b88a" stroke-width="0.9" stroke-linecap="butt"/>
<line x1="415.87" y1="748.91" x2="421.07" y2="748.91" stroke="#f6b88a" stroke-width="0.9" stroke-linecap="butt"/>
<line x1="415.87" y1="756.56" x2="421.07" y2="756.56" stroke="#f6b88a" stroke-width="0.9" stroke-linecap="butt"/>
<line x1="419.64" y1="732.60" x2="419.64" y2="740.25" stroke="#f6b88a" stroke-width="0.9" stroke-linecap="butt"/>
<line x1="417.04" y1="732.60" x2="422.24" y2="732.60" stroke="#f6b88a" stroke-width="0.9" stroke-linecap="butt"/>
<line x1="417.04" y1="740.25" x2="422.24" y2="740.25" stroke="#f6b88a" stroke-width="0.9" stroke-linecap="butt"/>
<line x1="428.98" y1="703.89" x2="428.98" y2="713.46" stroke="#f6b88a" stroke-width="0.9" stroke-linecap="butt"/>
<line x1="426.38" y1="703.89" x2="431.58" y2="703.89" stroke="#f6b88a" stroke-width="0.9" stroke-linecap="butt"/>
<line x1="426.38" y1="713.46" x2="431.58" y2="713.46" stroke="#f6b88a" stroke-width="0.9" stroke-linecap="butt"/>
<line x1="440.66" y1="656.06" x2="440.66" y2="667.54" stroke="#f6b88a" stroke-width="0.9" stroke-linecap="butt"/>
<line x1="438.06" y1="656.06" x2="443.26" y2="656.06" stroke="#f6b88a" stroke-width="0.9" stroke-linecap="butt"/>
<line x1="438.06" y1="667.54" x2="443.26" y2="667.54" stroke="#f6b88a" stroke-width="0.9" stroke-linecap="butt"/>
<line x1="534.10" y1="597.00" x2="534.10" y2="608.47" stroke="#f6b88a" stroke-width="0.9" stroke-linecap="butt"/>
<line x1="531.50" y1="597.00" x2="536.70" y2="597.00" stroke="#f6b88a" stroke-width="0.9" stroke-linecap="butt"/>
<line x1="531.50" y1="608.47" x2="536.70" y2="608.47" stroke="#f6b88a" stroke-width="0.9" stroke-linecap="butt"/>
<line x1="650.90" y1="591.56" x2="650.90" y2="603.04" stroke="#f6b88a" stroke-width="0.9" stroke-linecap="butt"/>
<line x1="648.30" y1="591.56" x2="653.50" y2="591.56" stroke="#f6b88a" stroke-width="0.9" stroke-linecap="butt"/>
<line x1="648.30" y1="603.04" x2="653.50" y2="603.04" stroke="#f6b88a" stroke-width="0.9" stroke-linecap="butt"/>
<circle cx="417.30" cy="775.80" r="3.0" fill="url(#gSph)"/>
<circle cx="417.32" cy="773.92" r="3.0" fill="url(#gSph)"/>
<circle cx="417.53" cy="767.36" r="3.0" fill="url(#gSph)"/>
<circle cx="418.47" cy="752.74" r="3.0" fill="url(#gSph)"/>
<circle cx="419.64" cy="736.42" r="3.0" fill="url(#gSph)"/>
<circle cx="428.98" cy="708.67" r="3.0" fill="url(#gSph)"/>
<circle cx="440.66" cy="661.80" r="3.0" fill="url(#gSph)"/>
<circle cx="534.10" cy="602.74" r="3.0" fill="url(#gSph)"/>
<circle cx="650.90" cy="597.30" r="3.0" fill="url(#gSph)"/>
<rect x="394.30" y="569.90" width="280.10" height="225.00" fill="none" stroke="#000" stroke-width="1.6"/>
<line x1="392.10" y1="794.55" x2="394.30" y2="794.55" stroke="#000" stroke-width="1.6" stroke-linecap="butt"/>
<line x1="390.30" y1="775.80" x2="394.30" y2="775.80" stroke="#000" stroke-width="1.6" stroke-linecap="butt"/>
<text x="385.10" y="779.70" font-size="11.2" text-anchor="end" fill="#1a1a1a">1.0</text>
<line x1="392.10" y1="757.05" x2="394.30" y2="757.05" stroke="#000" stroke-width="1.6" stroke-linecap="butt"/>
<line x1="390.30" y1="738.30" x2="394.30" y2="738.30" stroke="#000" stroke-width="1.6" stroke-linecap="butt"/>
<text x="385.10" y="742.20" font-size="11.2" text-anchor="end" fill="#1a1a1a">1.2</text>
<line x1="392.10" y1="719.55" x2="394.30" y2="719.55" stroke="#000" stroke-width="1.6" stroke-linecap="butt"/>
<line x1="390.30" y1="700.80" x2="394.30" y2="700.80" stroke="#000" stroke-width="1.6" stroke-linecap="butt"/>
<text x="385.10" y="704.70" font-size="11.2" text-anchor="end" fill="#1a1a1a">1.4</text>
<line x1="392.10" y1="682.05" x2="394.30" y2="682.05" stroke="#000" stroke-width="1.6" stroke-linecap="butt"/>
<line x1="390.30" y1="663.30" x2="394.30" y2="663.30" stroke="#000" stroke-width="1.6" stroke-linecap="butt"/>
<text x="385.10" y="667.20" font-size="11.2" text-anchor="end" fill="#1a1a1a">1.6</text>
<line x1="392.10" y1="644.55" x2="394.30" y2="644.55" stroke="#000" stroke-width="1.6" stroke-linecap="butt"/>
<line x1="390.30" y1="625.80" x2="394.30" y2="625.80" stroke="#000" stroke-width="1.6" stroke-linecap="butt"/>
<text x="385.10" y="629.70" font-size="11.2" text-anchor="end" fill="#1a1a1a">1.8</text>
<line x1="392.10" y1="607.05" x2="394.30" y2="607.05" stroke="#000" stroke-width="1.6" stroke-linecap="butt"/>
<line x1="390.30" y1="588.30" x2="394.30" y2="588.30" stroke="#000" stroke-width="1.6" stroke-linecap="butt"/>
<text x="385.10" y="592.20" font-size="11.2" text-anchor="end" fill="#1a1a1a">2.0</text>
<line x1="417.30" y1="794.90" x2="417.30" y2="798.90" stroke="#000" stroke-width="1.6" stroke-linecap="butt"/>
<text x="417.30" y="812.90" font-size="11.2" text-anchor="middle" fill="#1a1a1a">0</text>
<line x1="440.66" y1="794.90" x2="440.66" y2="797.10" stroke="#000" stroke-width="1.6" stroke-linecap="butt"/>
<line x1="464.02" y1="794.90" x2="464.02" y2="798.90" stroke="#000" stroke-width="1.6" stroke-linecap="butt"/>
<text x="464.02" y="812.90" font-size="11.2" text-anchor="middle" fill="#1a1a1a">2000</text>
<line x1="487.38" y1="794.90" x2="487.38" y2="797.10" stroke="#000" stroke-width="1.6" stroke-linecap="butt"/>
<line x1="510.74" y1="794.90" x2="510.74" y2="798.90" stroke="#000" stroke-width="1.6" stroke-linecap="butt"/>
<text x="510.74" y="812.90" font-size="11.2" text-anchor="middle" fill="#1a1a1a">4000</text>
<line x1="534.10" y1="794.90" x2="534.10" y2="797.10" stroke="#000" stroke-width="1.6" stroke-linecap="butt"/>
<line x1="557.46" y1="794.90" x2="557.46" y2="798.90" stroke="#000" stroke-width="1.6" stroke-linecap="butt"/>
<text x="557.46" y="812.90" font-size="11.2" text-anchor="middle" fill="#1a1a1a">6000</text>
<line x1="580.82" y1="794.90" x2="580.82" y2="797.10" stroke="#000" stroke-width="1.6" stroke-linecap="butt"/>
<line x1="604.18" y1="794.90" x2="604.18" y2="798.90" stroke="#000" stroke-width="1.6" stroke-linecap="butt"/>
<text x="604.18" y="812.90" font-size="11.2" text-anchor="middle" fill="#1a1a1a">8000</text>
<line x1="627.54" y1="794.90" x2="627.54" y2="797.10" stroke="#000" stroke-width="1.6" stroke-linecap="butt"/>
<line x1="650.90" y1="794.90" x2="650.90" y2="798.90" stroke="#000" stroke-width="1.6" stroke-linecap="butt"/>
<text x="650.90" y="812.90" font-size="11.2" text-anchor="middle" fill="#1a1a1a">10000</text>
<line x1="674.26" y1="794.90" x2="674.26" y2="797.10" stroke="#000" stroke-width="1.6" stroke-linecap="butt"/>
<text x="532.30" y="828.30" font-size="11.2" text-anchor="middle" fill="#1a1a1a">Concentration/μM</text>
<text x="362.70" y="684.30" font-size="11.2" text-anchor="middle" fill="#1a1a1a" transform="rotate(-90 362.70 684.30)">Normalized intensity</text>
<rect x="505.20" y="642.20" width="149.70" height="118.50" fill="#fff" stroke="none" stroke-width="1"/>
<line x1="518.85" y1="740.71" x2="641.70" y2="654.99" stroke="#2a9fa3" stroke-width="1.2" stroke-linecap="butt"/>
<line x1="518.85" y1="734.38" x2="518.85" y2="743.08" stroke="#f2a050" stroke-width="1.0" stroke-linecap="butt"/>
<line x1="517.05" y1="734.38" x2="520.65" y2="734.38" stroke="#f2a050" stroke-width="1.0" stroke-linecap="butt"/>
<line x1="517.05" y1="743.08" x2="520.65" y2="743.08" stroke="#f2a050" stroke-width="1.0" stroke-linecap="butt"/>
<line x1="573.45" y1="694.33" x2="573.45" y2="710.45" stroke="#f2a050" stroke-width="1.0" stroke-linecap="butt"/>
<line x1="571.65" y1="694.33" x2="575.25" y2="694.33" stroke="#f2a050" stroke-width="1.0" stroke-linecap="butt"/>
<line x1="571.65" y1="710.45" x2="575.25" y2="710.45" stroke="#f2a050" stroke-width="1.0" stroke-linecap="butt"/>
<line x1="641.70" y1="646.93" x2="641.70" y2="663.05" stroke="#f2a050" stroke-width="1.0" stroke-linecap="butt"/>
<line x1="639.90" y1="646.93" x2="643.50" y2="646.93" stroke="#f2a050" stroke-width="1.0" stroke-linecap="butt"/>
<line x1="639.90" y1="663.05" x2="643.50" y2="663.05" stroke="#f2a050" stroke-width="1.0" stroke-linecap="butt"/>
<circle cx="518.85" cy="738.73" r="1.6" fill="#e8802a"/>
<circle cx="573.45" cy="702.39" r="1.6" fill="#e8802a"/>
<circle cx="641.70" cy="654.99" r="1.6" fill="#e8802a"/>
<rect x="505.20" y="642.20" width="149.70" height="118.50" fill="none" stroke="#333" stroke-width="1.2"/>
<line x1="503.40" y1="760.85" x2="505.20" y2="760.85" stroke="#333" stroke-width="1.0" stroke-linecap="butt"/>
<line x1="502.20" y1="741.10" x2="505.20" y2="741.10" stroke="#333" stroke-width="1.0" stroke-linecap="butt"/>
<text x="499.80" y="744.50" font-size="9.6" text-anchor="end" fill="#1a1a1a">2600</text>
<line x1="503.40" y1="721.35" x2="505.20" y2="721.35" stroke="#333" stroke-width="1.0" stroke-linecap="butt"/>
<line x1="502.20" y1="701.60" x2="505.20" y2="701.60" stroke="#333" stroke-width="1.0" stroke-linecap="butt"/>
<text x="499.80" y="705.00" font-size="9.6" text-anchor="end" fill="#1a1a1a">2650</text>
<line x1="503.40" y1="681.85" x2="505.20" y2="681.85" stroke="#333" stroke-width="1.0" stroke-linecap="butt"/>
<line x1="502.20" y1="662.10" x2="505.20" y2="662.10" stroke="#333" stroke-width="1.0" stroke-linecap="butt"/>
<text x="499.80" y="665.50" font-size="9.6" text-anchor="end" fill="#1a1a1a">2700</text>
<line x1="503.40" y1="642.35" x2="505.20" y2="642.35" stroke="#333" stroke-width="1.0" stroke-linecap="butt"/>
<line x1="505.20" y1="760.70" x2="505.20" y2="763.70" stroke="#333" stroke-width="1.0" stroke-linecap="butt"/>
<text x="505.20" y="773.50" font-size="9.6" text-anchor="middle" fill="#1a1a1a">0</text>
<line x1="518.85" y1="760.70" x2="518.85" y2="762.50" stroke="#333" stroke-width="1.0" stroke-linecap="butt"/>
<line x1="532.50" y1="760.70" x2="532.50" y2="763.70" stroke="#333" stroke-width="1.0" stroke-linecap="butt"/>
<text x="532.50" y="773.50" font-size="9.6" text-anchor="middle" fill="#1a1a1a">20</text>
<line x1="546.15" y1="760.70" x2="546.15" y2="762.50" stroke="#333" stroke-width="1.0" stroke-linecap="butt"/>
<line x1="559.80" y1="760.70" x2="559.80" y2="763.70" stroke="#333" stroke-width="1.0" stroke-linecap="butt"/>
<text x="559.80" y="773.50" font-size="9.6" text-anchor="middle" fill="#1a1a1a">40</text>
<line x1="573.45" y1="760.70" x2="573.45" y2="762.50" stroke="#333" stroke-width="1.0" stroke-linecap="butt"/>
<line x1="587.10" y1="760.70" x2="587.10" y2="763.70" stroke="#333" stroke-width="1.0" stroke-linecap="butt"/>
<text x="587.10" y="773.50" font-size="9.6" text-anchor="middle" fill="#1a1a1a">60</text>
<line x1="600.75" y1="760.70" x2="600.75" y2="762.50" stroke="#333" stroke-width="1.0" stroke-linecap="butt"/>
<line x1="614.40" y1="760.70" x2="614.40" y2="763.70" stroke="#333" stroke-width="1.0" stroke-linecap="butt"/>
<text x="614.40" y="773.50" font-size="9.6" text-anchor="middle" fill="#1a1a1a">80</text>
<line x1="628.05" y1="760.70" x2="628.05" y2="762.50" stroke="#333" stroke-width="1.0" stroke-linecap="butt"/>
<line x1="641.70" y1="760.70" x2="641.70" y2="763.70" stroke="#333" stroke-width="1.0" stroke-linecap="butt"/>
<text x="641.70" y="773.50" font-size="9.6" text-anchor="middle" fill="#1a1a1a">100</text>
<line x1="655.35" y1="760.70" x2="655.35" y2="762.50" stroke="#333" stroke-width="1.0" stroke-linecap="butt"/>
<text x="580.00" y="787.40" font-size="9.8" text-anchor="middle" fill="#1a1a1a">Concentration/um</text>
<text x="467.60" y="700.60" font-size="9.8" text-anchor="middle" fill="#1a1a1a" transform="rotate(-90 467.60 700.60)">Intensity/a.u.</text>
<text x="-1.20" y="12.00" font-size="17.2" text-anchor="start" fill="#000" font-weight="bold">a</text>
<text x="-1.00" y="294.50" font-size="17.2" text-anchor="start" fill="#000" font-weight="bold">c</text>
<text x="-1.00" y="574.00" font-size="17.2" text-anchor="start" fill="#000" font-weight="bold">e</text>
<text x="353.20" y="11.40" font-size="16" text-anchor="start" fill="#000" font-weight="bold">b</text>
<text x="353.20" y="294.30" font-size="16" text-anchor="start" fill="#000" font-weight="bold">d</text>
<text x="352.60" y="568.80" font-size="16" text-anchor="start" fill="#000" font-weight="bold">f</text>
</svg></body></html>
